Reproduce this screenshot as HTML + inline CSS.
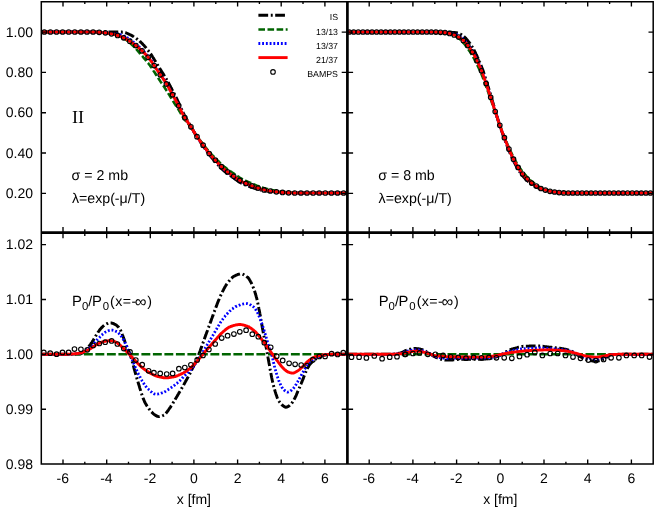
<!DOCTYPE html>
<html><head><meta charset="utf-8"><title>chart</title>
<style>html,body{margin:0;padding:0;background:#fff;}svg{display:block;will-change:transform;}text{text-rendering:geometricPrecision;}</style>
</head><body>
<svg width="654" height="509" viewBox="0 0 654 509">
<rect width="654" height="509" fill="#fff"/>
<defs>
<clipPath id="cTL"><rect x="41.3" y="1.7" width="306.09999999999997" height="230.9"/></clipPath>
<clipPath id="cTR"><rect x="347.4" y="1.7" width="305.80000000000007" height="230.9"/></clipPath>
<clipPath id="cBL"><rect x="41.3" y="232.6" width="306.09999999999997" height="231.50000000000003"/></clipPath>
<clipPath id="cBR"><rect x="347.4" y="232.6" width="305.80000000000007" height="231.50000000000003"/></clipPath>
</defs>
<g clip-path="url(#cTL)">
<path fill="none" stroke="#000000" stroke-width="2.95" stroke-dasharray="9.75 2.65 1.9 2.5" d="M41.3,32.1 L41.7,32.1 L42.2,32.1 L42.6,32.1 L43.1,32.1 L43.5,32.1 L43.9,32.1 L44.4,32.1 L44.8,32.1 L45.2,32.1 L45.7,32.1 L46.1,32.1 L46.6,32.1 L47.0,32.1 L47.4,32.1 L47.9,32.1 L48.3,32.1 L48.7,32.1 L49.2,32.1 L49.6,32.1 L50.1,32.1 L50.5,32.1 L50.9,32.1 L51.4,32.1 L51.8,32.1 L52.2,32.1 L52.7,32.1 L53.1,32.1 L53.6,32.1 L54.0,32.1 L54.4,32.1 L54.9,32.1 L55.3,32.1 L55.8,32.1 L56.2,32.1 L56.6,32.1 L57.1,32.1 L57.5,32.1 L57.9,32.1 L58.4,32.1 L58.8,32.1 L59.3,32.1 L59.7,32.1 L60.1,32.1 L60.6,32.1 L61.0,32.1 L61.4,32.1 L61.9,32.1 L62.3,32.1 L62.8,32.1 L63.2,32.1 L63.6,32.1 L64.1,32.1 L64.5,32.1 L64.9,32.1 L65.4,32.1 L65.8,32.1 L66.3,32.1 L66.7,32.1 L67.1,32.1 L67.6,32.1 L68.0,32.1 L68.5,32.1 L68.9,32.1 L69.3,32.1 L69.8,32.1 L70.2,32.1 L70.6,32.1 L71.1,32.1 L71.5,32.1 L72.0,32.1 L72.4,32.1 L72.8,32.1 L73.3,32.1 L73.7,32.1 L74.1,32.1 L74.6,32.1 L75.0,32.1 L75.5,32.1 L75.9,32.1 L76.3,32.1 L76.8,32.1 L77.2,32.1 L77.6,32.1 L78.1,32.1 L78.5,32.1 L79.0,32.1 L79.4,32.1 L79.8,32.1 L80.3,32.1 L80.7,32.1 L81.1,32.1 L81.6,32.1 L82.0,32.1 L82.5,32.1 L82.9,32.1 L83.3,32.1 L83.8,32.1 L84.2,32.1 L84.7,32.1 L85.1,32.1 L85.5,32.1 L86.0,32.1 L86.4,32.1 L86.8,32.1 L87.3,32.1 L87.7,32.1 L88.2,32.1 L88.6,32.1 L89.0,32.1 L89.5,32.1 L89.9,32.1 L90.3,32.1 L90.8,32.1 L91.2,32.1 L91.7,32.1 L92.1,32.1 L92.5,32.1 L93.0,32.1 L93.4,32.1 L93.8,32.1 L94.3,32.1 L94.7,32.1 L95.2,32.1 L95.6,32.1 L96.0,32.1 L96.5,32.1 L96.9,32.1 L97.4,32.1 L97.8,32.1 L98.2,32.1 L98.7,32.1 L99.1,32.1 L99.5,32.1 L100.0,32.1 L100.4,32.1 L100.9,32.1 L101.3,32.1 L101.7,32.1 L102.2,32.1 L102.6,32.1 L103.0,32.1 L103.5,32.1 L103.9,32.1 L104.4,32.1 L104.8,32.1 L105.2,32.1 L105.7,32.1 L106.1,32.1 L106.5,32.1 L107.0,32.1 L107.4,32.1 L107.9,32.1 L108.3,32.1 L108.7,32.1 L109.2,32.1 L109.6,32.1 L110.1,32.1 L110.5,32.1 L110.9,32.1 L111.4,32.1 L111.8,32.1 L112.2,32.1 L112.7,32.1 L113.1,32.1 L113.6,32.1 L114.0,32.1 L114.4,32.1 L114.9,32.1 L115.3,32.1 L115.7,32.1 L116.2,32.1 L116.6,32.1 L117.1,32.1 L117.5,32.1 L117.9,32.1 L118.4,32.1 L118.8,32.1 L119.2,32.1 L119.7,32.1 L120.1,32.1 L120.6,32.1 L121.0,32.1 L121.4,32.1 L121.9,32.1 L122.3,32.2 L122.8,32.2 L123.2,32.3 L123.6,32.4 L124.1,32.4 L124.5,32.5 L124.9,32.6 L125.4,32.7 L125.8,32.9 L126.3,33.0 L126.7,33.2 L127.1,33.3 L127.6,33.5 L128.0,33.7 L128.4,33.9 L128.9,34.1 L129.3,34.3 L129.8,34.5 L130.2,34.7 L130.6,35.0 L131.1,35.2 L131.5,35.4 L131.9,35.7 L132.4,35.9 L132.8,36.2 L133.3,36.5 L133.7,36.7 L134.1,37.0 L134.6,37.3 L135.0,37.6 L135.5,37.9 L135.9,38.2 L136.3,38.5 L136.8,38.8 L137.2,39.1 L137.6,39.5 L138.1,39.8 L138.5,40.2 L139.0,40.5 L139.4,40.9 L139.8,41.3 L140.3,41.7 L140.7,42.1 L141.1,42.5 L141.6,43.0 L142.0,43.4 L142.5,43.8 L142.9,44.3 L143.3,44.8 L143.8,45.2 L144.2,45.7 L144.6,46.2 L145.1,46.7 L145.5,47.3 L146.0,47.8 L146.4,48.3 L146.8,48.9 L147.3,49.4 L147.7,50.0 L148.2,50.5 L148.6,51.1 L149.0,51.7 L149.5,52.3 L149.9,52.9 L150.3,53.5 L150.8,54.1 L151.2,54.8 L151.7,55.4 L152.1,56.1 L152.5,56.8 L153.0,57.5 L153.4,58.1 L153.8,58.8 L154.3,59.5 L154.7,60.2 L155.2,61.0 L155.6,61.7 L156.0,62.4 L156.5,63.1 L156.9,63.8 L157.3,64.5 L157.8,65.2 L158.2,66.0 L158.7,66.7 L159.1,67.4 L159.5,68.1 L160.0,68.8 L160.4,69.5 L160.8,70.2 L161.3,70.9 L161.7,71.6 L162.2,72.3 L162.6,73.0 L163.0,73.7 L163.5,74.4 L163.9,75.1 L164.4,75.8 L164.8,76.5 L165.2,77.2 L165.7,78.0 L166.1,78.7 L166.5,79.4 L167.0,80.2 L167.4,81.0 L167.9,81.8 L168.3,82.5 L168.7,83.4 L169.2,84.2 L169.6,85.0 L170.0,85.8 L170.5,86.7 L170.9,87.5 L171.4,88.3 L171.8,89.2 L172.2,90.0 L172.7,90.8 L173.1,91.7 L173.5,92.5 L174.0,93.3 L174.4,94.2 L174.9,95.0 L175.3,95.9 L175.7,96.8 L176.2,97.6 L176.6,98.5 L177.1,99.4 L177.5,100.3 L177.9,101.2 L178.4,102.1 L178.8,103.0 L179.2,103.9 L179.7,104.9 L180.1,105.9 L180.6,106.9 L181.0,107.9 L181.4,108.8 L181.9,109.8 L182.3,110.8 L182.7,111.8 L183.2,112.7 L183.6,113.7 L184.1,114.5 L184.5,115.4 L184.9,116.2 L185.4,117.0 L185.8,117.8 L186.2,118.6 L186.7,119.3 L187.1,120.0 L187.6,120.8 L188.0,121.5 L188.4,122.2 L188.9,122.9 L189.3,123.6 L189.8,124.4 L190.2,125.1 L190.6,125.8 L191.1,126.6 L191.5,127.4 L191.9,128.2 L192.4,128.9 L192.8,129.7 L193.3,130.5 L193.7,131.3 L194.1,132.1 L194.6,132.9 L195.0,133.7 L195.4,134.4 L195.9,135.2 L196.3,135.9 L196.8,136.6 L197.2,137.3 L197.6,138.0 L198.1,138.7 L198.5,139.3 L198.9,140.0 L199.4,140.6 L199.8,141.3 L200.3,141.9 L200.7,142.5 L201.1,143.2 L201.6,143.8 L202.0,144.4 L202.5,145.0 L202.9,145.7 L203.3,146.3 L203.8,146.9 L204.2,147.6 L204.6,148.2 L205.1,148.8 L205.5,149.5 L206.0,150.1 L206.4,150.8 L206.8,151.4 L207.3,152.0 L207.7,152.6 L208.1,153.2 L208.6,153.8 L209.0,154.4 L209.5,154.9 L209.9,155.5 L210.3,156.0 L210.8,156.5 L211.2,157.1 L211.6,157.6 L212.1,158.1 L212.5,158.6 L213.0,159.1 L213.4,159.6 L213.8,160.0 L214.3,160.5 L214.7,161.0 L215.2,161.5 L215.6,162.0 L216.0,162.5 L216.5,163.0 L216.9,163.5 L217.3,164.0 L217.8,164.5 L218.2,165.0 L218.7,165.5 L219.1,166.0 L219.5,166.5 L220.0,167.0 L220.4,167.5 L220.8,167.9 L221.3,168.3 L221.7,168.8 L222.2,169.2 L222.6,169.6 L223.0,170.0 L223.5,170.4 L223.9,170.8 L224.3,171.1 L224.8,171.5 L225.2,171.8 L225.7,172.2 L226.1,172.6 L226.5,172.9 L227.0,173.2 L227.4,173.6 L227.9,173.9 L228.3,174.2 L228.7,174.6 L229.2,174.9 L229.6,175.2 L230.0,175.5 L230.5,175.8 L230.9,176.2 L231.4,176.5 L231.8,176.8 L232.2,177.1 L232.7,177.4 L233.1,177.7 L233.5,178.0 L234.0,178.3 L234.4,178.6 L234.9,178.9 L235.3,179.2 L235.7,179.5 L236.2,179.8 L236.6,180.1 L237.0,180.4 L237.5,180.7 L237.9,181.0 L238.4,181.3 L238.8,181.6 L239.2,181.9 L239.7,182.1 L240.1,182.4 L240.5,182.6 L241.0,182.8 L241.4,183.1 L241.9,183.3 L242.3,183.5 L242.7,183.7 L243.2,183.9 L243.6,184.1 L244.1,184.3 L244.5,184.5 L244.9,184.7 L245.4,184.9 L245.8,185.1 L246.2,185.3 L246.7,185.4 L247.1,185.6 L247.6,185.8 L248.0,186.0 L248.4,186.1 L248.9,186.3 L249.3,186.4 L249.7,186.6 L250.2,186.7 L250.6,186.9 L251.1,187.0 L251.5,187.2 L251.9,187.4 L252.4,187.5 L252.8,187.7 L253.2,187.8 L253.7,188.0 L254.1,188.1 L254.6,188.3 L255.0,188.4 L255.4,188.6 L255.9,188.7 L256.3,188.9 L256.8,189.0 L257.2,189.1 L257.6,189.3 L258.1,189.4 L258.5,189.5 L258.9,189.6 L259.4,189.7 L259.8,189.8 L260.3,189.9 L260.7,190.0 L261.1,190.1 L261.6,190.2 L262.0,190.3 L262.4,190.4 L262.9,190.5 L263.3,190.6 L263.8,190.6 L264.2,190.7 L264.6,190.8 L265.1,190.8 L265.5,190.9 L265.9,191.0 L266.4,191.0 L266.8,191.1 L267.3,191.1 L267.7,191.2 L268.1,191.2 L268.6,191.3 L269.0,191.3 L269.5,191.3 L269.9,191.4 L270.3,191.4 L270.8,191.5 L271.2,191.5 L271.6,191.5 L272.1,191.6 L272.5,191.6 L273.0,191.6 L273.4,191.7 L273.8,191.7 L274.3,191.8 L274.7,191.8 L275.1,191.8 L275.6,191.9 L276.0,191.9 L276.5,192.0 L276.9,192.0 L277.3,192.1 L277.8,192.1 L278.2,192.1 L278.6,192.2 L279.1,192.2 L279.5,192.3 L280.0,192.3 L280.4,192.3 L280.8,192.4 L281.3,192.4 L281.7,192.4 L282.2,192.5 L282.6,192.5 L283.0,192.5 L283.5,192.5 L283.9,192.6 L284.3,192.6 L284.8,192.6 L285.2,192.6 L285.7,192.7 L286.1,192.7 L286.5,192.7 L287.0,192.7 L287.4,192.7 L287.8,192.8 L288.3,192.8 L288.7,192.8 L289.2,192.8 L289.6,192.8 L290.0,192.9 L290.5,192.9 L290.9,192.9 L291.3,192.9 L291.8,192.9 L292.2,193.0 L292.7,193.0 L293.1,193.0 L293.5,193.0 L294.0,193.0 L294.4,193.0 L294.9,193.0 L295.3,193.0 L295.7,193.0 L296.2,193.0 L296.6,193.0 L297.0,193.0 L297.5,193.0 L297.9,193.0 L298.4,193.0 L298.8,193.0 L299.2,193.0 L299.7,193.0 L300.1,193.0 L300.5,193.0 L301.0,193.0 L301.4,193.0 L301.9,193.0 L302.3,193.0 L302.7,193.0 L303.2,193.0 L303.6,193.0 L304.0,193.0 L304.5,193.0 L304.9,193.0 L305.4,193.0 L305.8,193.0 L306.2,193.0 L306.7,193.0 L307.1,193.0 L307.6,193.0 L308.0,193.0 L308.4,193.0 L308.9,193.0 L309.3,193.0 L309.7,193.0 L310.2,193.0 L310.6,193.0 L311.1,193.0 L311.5,193.0 L311.9,193.0 L312.4,193.0 L312.8,193.0 L313.2,193.0 L313.7,193.0 L314.1,193.0 L314.6,193.0 L315.0,193.0 L315.4,193.0 L315.9,193.0 L316.3,193.0 L316.7,193.0 L317.2,193.0 L317.6,193.0 L318.1,193.0 L318.5,193.0 L318.9,193.0 L319.4,193.0 L319.8,193.0 L320.2,193.0 L320.7,193.0 L321.1,193.0 L321.6,193.0 L322.0,193.0 L322.4,193.0 L322.9,193.0 L323.3,193.0 L323.8,193.0 L324.2,193.0 L324.6,193.0 L325.1,193.0 L325.5,193.0 L325.9,193.0 L326.4,193.0 L326.8,193.0 L327.3,193.0 L327.7,193.0 L328.1,193.0 L328.6,193.0 L329.0,193.0 L329.4,193.0 L329.9,193.0 L330.3,193.0 L330.8,193.0 L331.2,193.0 L331.6,193.0 L332.1,193.0 L332.5,193.0 L332.9,193.0 L333.4,193.0 L333.8,193.0 L334.3,193.0 L334.7,193.0 L335.1,193.0 L335.6,193.0 L336.0,193.0 L336.5,193.0 L336.9,193.0 L337.3,193.0 L337.8,193.0 L338.2,193.0 L338.6,193.0 L339.1,193.0 L339.5,193.0 L340.0,193.0 L340.4,193.0 L340.8,193.0 L341.3,193.0 L341.7,193.0 L342.1,193.0 L342.6,193.0 L343.0,193.0 L343.5,193.0 L343.9,193.0 L344.3,193.0 L344.8,193.0 L345.2,193.0 L345.6,193.0 L346.1,193.0 L346.5,193.0 L347.0,193.0 L347.4,193.0"/>
<path fill="none" stroke="#006400" stroke-width="2.6" stroke-dasharray="6.6 2.5" d="M41.3,32.0 L41.7,32.0 L42.2,32.0 L42.6,32.0 L43.1,32.0 L43.5,32.0 L43.9,32.0 L44.4,32.0 L44.8,32.0 L45.2,32.0 L45.7,32.0 L46.1,32.0 L46.6,32.0 L47.0,32.0 L47.4,32.0 L47.9,32.0 L48.3,32.0 L48.7,32.0 L49.2,32.0 L49.6,32.0 L50.1,32.0 L50.5,32.0 L50.9,32.0 L51.4,32.0 L51.8,32.0 L52.2,32.0 L52.7,32.0 L53.1,32.0 L53.6,32.0 L54.0,32.0 L54.4,32.0 L54.9,32.0 L55.3,32.0 L55.8,32.0 L56.2,32.0 L56.6,32.0 L57.1,32.0 L57.5,32.0 L57.9,32.0 L58.4,32.0 L58.8,32.0 L59.3,32.0 L59.7,32.0 L60.1,32.0 L60.6,32.0 L61.0,32.0 L61.4,32.0 L61.9,32.0 L62.3,32.0 L62.8,32.0 L63.2,32.0 L63.6,32.0 L64.1,32.0 L64.5,32.0 L64.9,32.0 L65.4,32.0 L65.8,32.0 L66.3,32.0 L66.7,32.0 L67.1,32.0 L67.6,32.0 L68.0,32.0 L68.5,32.0 L68.9,32.0 L69.3,32.0 L69.8,32.0 L70.2,32.0 L70.6,32.0 L71.1,32.0 L71.5,32.0 L72.0,32.0 L72.4,32.0 L72.8,32.0 L73.3,32.0 L73.7,32.0 L74.1,32.0 L74.6,32.0 L75.0,32.0 L75.5,32.0 L75.9,32.0 L76.3,32.0 L76.8,32.0 L77.2,32.0 L77.6,32.0 L78.1,32.0 L78.5,32.0 L79.0,32.0 L79.4,32.0 L79.8,32.0 L80.3,32.0 L80.7,32.0 L81.1,32.0 L81.6,32.0 L82.0,32.0 L82.5,32.0 L82.9,32.0 L83.3,32.0 L83.8,32.0 L84.2,32.0 L84.7,32.0 L85.1,32.0 L85.5,32.0 L86.0,32.0 L86.4,32.0 L86.8,32.0 L87.3,32.0 L87.7,32.0 L88.2,32.0 L88.6,32.0 L89.0,32.0 L89.5,32.0 L89.9,32.0 L90.3,32.0 L90.8,32.0 L91.2,32.0 L91.7,32.0 L92.1,32.0 L92.5,32.0 L93.0,32.0 L93.4,32.0 L93.8,32.0 L94.3,32.0 L94.7,32.0 L95.2,32.0 L95.6,32.1 L96.0,32.1 L96.5,32.1 L96.9,32.1 L97.4,32.2 L97.8,32.2 L98.2,32.2 L98.7,32.2 L99.1,32.3 L99.5,32.3 L100.0,32.3 L100.4,32.4 L100.9,32.4 L101.3,32.5 L101.7,32.5 L102.2,32.5 L102.6,32.6 L103.0,32.6 L103.5,32.6 L103.9,32.7 L104.4,32.7 L104.8,32.8 L105.2,32.8 L105.7,32.9 L106.1,32.9 L106.5,33.0 L107.0,33.1 L107.4,33.1 L107.9,33.2 L108.3,33.3 L108.7,33.3 L109.2,33.4 L109.6,33.5 L110.1,33.5 L110.5,33.6 L110.9,33.7 L111.4,33.8 L111.8,33.9 L112.2,34.0 L112.7,34.1 L113.1,34.2 L113.6,34.3 L114.0,34.4 L114.4,34.5 L114.9,34.6 L115.3,34.7 L115.7,34.9 L116.2,35.0 L116.6,35.1 L117.1,35.3 L117.5,35.4 L117.9,35.6 L118.4,35.7 L118.8,35.9 L119.2,36.1 L119.7,36.3 L120.1,36.5 L120.6,36.7 L121.0,36.9 L121.4,37.1 L121.9,37.3 L122.3,37.6 L122.8,37.8 L123.2,38.1 L123.6,38.3 L124.1,38.6 L124.5,38.8 L124.9,39.1 L125.4,39.4 L125.8,39.7 L126.3,40.0 L126.7,40.3 L127.1,40.6 L127.6,40.9 L128.0,41.3 L128.4,41.6 L128.9,42.0 L129.3,42.3 L129.8,42.7 L130.2,43.1 L130.6,43.5 L131.1,43.9 L131.5,44.3 L131.9,44.7 L132.4,45.1 L132.8,45.6 L133.3,46.0 L133.7,46.4 L134.1,46.9 L134.6,47.3 L135.0,47.8 L135.5,48.2 L135.9,48.7 L136.3,49.2 L136.8,49.7 L137.2,50.2 L137.6,50.7 L138.1,51.2 L138.5,51.7 L139.0,52.3 L139.4,52.8 L139.8,53.3 L140.3,53.8 L140.7,54.3 L141.1,54.8 L141.6,55.3 L142.0,55.8 L142.5,56.3 L142.9,56.8 L143.3,57.4 L143.8,57.9 L144.2,58.4 L144.6,58.9 L145.1,59.4 L145.5,60.0 L146.0,60.5 L146.4,61.0 L146.8,61.5 L147.3,62.0 L147.7,62.6 L148.2,63.1 L148.6,63.7 L149.0,64.2 L149.5,64.8 L149.9,65.4 L150.3,66.0 L150.8,66.7 L151.2,67.3 L151.7,67.9 L152.1,68.6 L152.5,69.2 L153.0,69.9 L153.4,70.6 L153.8,71.2 L154.3,71.9 L154.7,72.6 L155.2,73.3 L155.6,74.0 L156.0,74.7 L156.5,75.3 L156.9,76.0 L157.3,76.7 L157.8,77.4 L158.2,78.1 L158.7,78.8 L159.1,79.4 L159.5,80.1 L160.0,80.7 L160.4,81.4 L160.8,82.0 L161.3,82.6 L161.7,83.3 L162.2,83.9 L162.6,84.6 L163.0,85.2 L163.5,85.8 L163.9,86.5 L164.4,87.1 L164.8,87.8 L165.2,88.5 L165.7,89.2 L166.1,89.8 L166.5,90.5 L167.0,91.2 L167.4,91.9 L167.9,92.6 L168.3,93.3 L168.7,94.0 L169.2,94.7 L169.6,95.4 L170.0,96.2 L170.5,96.9 L170.9,97.6 L171.4,98.3 L171.8,99.0 L172.2,99.7 L172.7,100.4 L173.1,101.1 L173.5,101.8 L174.0,102.5 L174.4,103.2 L174.9,103.9 L175.3,104.5 L175.7,105.2 L176.2,105.9 L176.6,106.6 L177.1,107.3 L177.5,108.0 L177.9,108.6 L178.4,109.3 L178.8,110.0 L179.2,110.8 L179.7,111.5 L180.1,112.3 L180.6,113.0 L181.0,113.8 L181.4,114.5 L181.9,115.3 L182.3,116.0 L182.7,116.8 L183.2,117.5 L183.6,118.1 L184.1,118.8 L184.5,119.4 L184.9,120.0 L185.4,120.5 L185.8,121.1 L186.2,121.6 L186.7,122.1 L187.1,122.6 L187.6,123.1 L188.0,123.6 L188.4,124.1 L188.9,124.6 L189.3,125.2 L189.8,125.7 L190.2,126.3 L190.6,126.9 L191.1,127.5 L191.5,128.1 L191.9,128.7 L192.4,129.4 L192.8,130.1 L193.3,130.7 L193.7,131.4 L194.1,132.1 L194.6,132.8 L195.0,133.4 L195.4,134.1 L195.9,134.7 L196.3,135.4 L196.8,136.0 L197.2,136.6 L197.6,137.2 L198.1,137.8 L198.5,138.3 L198.9,138.9 L199.4,139.5 L199.8,140.0 L200.3,140.6 L200.7,141.1 L201.1,141.7 L201.6,142.2 L202.0,142.8 L202.5,143.3 L202.9,143.9 L203.3,144.4 L203.8,145.0 L204.2,145.6 L204.6,146.1 L205.1,146.7 L205.5,147.3 L206.0,147.9 L206.4,148.4 L206.8,149.0 L207.3,149.5 L207.7,150.1 L208.1,150.6 L208.6,151.1 L209.0,151.7 L209.5,152.1 L209.9,152.6 L210.3,153.1 L210.8,153.6 L211.2,154.0 L211.6,154.5 L212.1,154.9 L212.5,155.3 L213.0,155.8 L213.4,156.2 L213.8,156.6 L214.3,157.1 L214.7,157.5 L215.2,157.9 L215.6,158.4 L216.0,158.8 L216.5,159.3 L216.9,159.7 L217.3,160.2 L217.8,160.6 L218.2,161.1 L218.7,161.5 L219.1,162.0 L219.5,162.4 L220.0,162.9 L220.4,163.3 L220.8,163.7 L221.3,164.2 L221.7,164.5 L222.2,164.9 L222.6,165.3 L223.0,165.7 L223.5,166.1 L223.9,166.4 L224.3,166.8 L224.8,167.1 L225.2,167.4 L225.7,167.8 L226.1,168.1 L226.5,168.5 L227.0,168.8 L227.4,169.1 L227.9,169.4 L228.3,169.8 L228.7,170.1 L229.2,170.4 L229.6,170.7 L230.0,171.0 L230.5,171.3 L230.9,171.6 L231.4,171.9 L231.8,172.2 L232.2,172.5 L232.7,172.8 L233.1,173.1 L233.5,173.4 L234.0,173.7 L234.4,174.0 L234.9,174.3 L235.3,174.6 L235.7,174.9 L236.2,175.2 L236.6,175.5 L237.0,175.8 L237.5,176.1 L237.9,176.4 L238.4,176.7 L238.8,177.0 L239.2,177.3 L239.7,177.6 L240.1,177.8 L240.5,178.1 L241.0,178.3 L241.4,178.6 L241.9,178.8 L242.3,179.1 L242.7,179.3 L243.2,179.5 L243.6,179.7 L244.1,180.0 L244.5,180.2 L244.9,180.4 L245.4,180.6 L245.8,180.8 L246.2,181.0 L246.7,181.2 L247.1,181.4 L247.6,181.6 L248.0,181.8 L248.4,182.0 L248.9,182.2 L249.3,182.4 L249.7,182.6 L250.2,182.8 L250.6,183.0 L251.1,183.1 L251.5,183.3 L251.9,183.5 L252.4,183.7 L252.8,183.9 L253.2,184.1 L253.7,184.3 L254.1,184.5 L254.6,184.7 L255.0,184.9 L255.4,185.0 L255.9,185.2 L256.3,185.4 L256.8,185.6 L257.2,185.8 L257.6,186.0 L258.1,186.1 L258.5,186.3 L258.9,186.5 L259.4,186.6 L259.8,186.8 L260.3,186.9 L260.7,187.1 L261.1,187.2 L261.6,187.4 L262.0,187.5 L262.4,187.7 L262.9,187.8 L263.3,188.0 L263.8,188.1 L264.2,188.2 L264.6,188.3 L265.1,188.4 L265.5,188.6 L265.9,188.7 L266.4,188.8 L266.8,188.9 L267.3,189.0 L267.7,189.1 L268.1,189.2 L268.6,189.3 L269.0,189.4 L269.5,189.5 L269.9,189.6 L270.3,189.7 L270.8,189.8 L271.2,189.9 L271.6,190.0 L272.1,190.0 L272.5,190.1 L273.0,190.2 L273.4,190.3 L273.8,190.4 L274.3,190.5 L274.7,190.5 L275.1,190.6 L275.6,190.7 L276.0,190.8 L276.5,190.8 L276.9,190.9 L277.3,191.0 L277.8,191.0 L278.2,191.1 L278.6,191.2 L279.1,191.3 L279.5,191.3 L280.0,191.4 L280.4,191.5 L280.8,191.5 L281.3,191.6 L281.7,191.6 L282.2,191.7 L282.6,191.7 L283.0,191.8 L283.5,191.9 L283.9,191.9 L284.3,192.0 L284.8,192.0 L285.2,192.1 L285.7,192.1 L286.1,192.1 L286.5,192.2 L287.0,192.2 L287.4,192.3 L287.8,192.3 L288.3,192.4 L288.7,192.4 L289.2,192.4 L289.6,192.5 L290.0,192.5 L290.5,192.5 L290.9,192.6 L291.3,192.6 L291.8,192.7 L292.2,192.7 L292.7,192.7 L293.1,192.7 L293.5,192.8 L294.0,192.8 L294.4,192.8 L294.9,192.8 L295.3,192.8 L295.7,192.8 L296.2,192.8 L296.6,192.8 L297.0,192.8 L297.5,192.8 L297.9,192.9 L298.4,192.9 L298.8,192.9 L299.2,192.9 L299.7,192.9 L300.1,192.9 L300.5,192.9 L301.0,192.9 L301.4,192.9 L301.9,192.9 L302.3,192.9 L302.7,192.9 L303.2,192.9 L303.6,193.0 L304.0,193.0 L304.5,193.0 L304.9,193.0 L305.4,193.0 L305.8,193.0 L306.2,193.0 L306.7,193.0 L307.1,193.0 L307.6,193.0 L308.0,193.0 L308.4,193.0 L308.9,193.0 L309.3,193.0 L309.7,193.0 L310.2,193.0 L310.6,193.0 L311.1,193.0 L311.5,193.0 L311.9,193.0 L312.4,193.0 L312.8,193.0 L313.2,193.0 L313.7,193.0 L314.1,193.0 L314.6,193.0 L315.0,193.0 L315.4,193.0 L315.9,193.0 L316.3,193.0 L316.7,193.0 L317.2,193.0 L317.6,193.0 L318.1,193.0 L318.5,193.0 L318.9,193.0 L319.4,193.0 L319.8,193.0 L320.2,193.0 L320.7,193.0 L321.1,193.0 L321.6,193.0 L322.0,193.0 L322.4,193.0 L322.9,193.0 L323.3,193.0 L323.8,193.0 L324.2,193.0 L324.6,193.0 L325.1,193.0 L325.5,193.0 L325.9,193.0 L326.4,193.0 L326.8,193.0 L327.3,193.0 L327.7,193.0 L328.1,193.0 L328.6,193.0 L329.0,193.0 L329.4,193.0 L329.9,193.0 L330.3,193.0 L330.8,193.0 L331.2,193.0 L331.6,193.0 L332.1,193.0 L332.5,193.0 L332.9,193.0 L333.4,193.0 L333.8,193.0 L334.3,193.0 L334.7,193.0 L335.1,193.0 L335.6,193.0 L336.0,193.0 L336.5,193.0 L336.9,193.0 L337.3,193.0 L337.8,193.0 L338.2,193.0 L338.6,193.0 L339.1,193.0 L339.5,193.0 L340.0,193.0 L340.4,193.0 L340.8,193.0 L341.3,193.0 L341.7,193.0 L342.1,193.0 L342.6,193.0 L343.0,193.0 L343.5,193.0 L343.9,193.0 L344.3,193.0 L344.8,193.0 L345.2,193.0 L345.6,193.0 L346.1,193.0 L346.5,193.0 L347.0,193.0 L347.4,193.0"/>
<path fill="none" stroke="#0000ff" stroke-width="2.8" stroke-dasharray="1.85 1.9" d="M41.3,32.0 L41.7,32.0 L42.2,32.0 L42.6,32.0 L43.1,32.0 L43.5,32.0 L43.9,32.0 L44.4,32.0 L44.8,32.0 L45.2,32.0 L45.7,32.0 L46.1,32.0 L46.6,32.0 L47.0,32.0 L47.4,32.0 L47.9,32.0 L48.3,32.0 L48.7,32.0 L49.2,32.0 L49.6,32.0 L50.1,32.0 L50.5,32.0 L50.9,32.0 L51.4,32.0 L51.8,32.0 L52.2,32.0 L52.7,32.0 L53.1,32.0 L53.6,32.0 L54.0,32.0 L54.4,32.0 L54.9,32.0 L55.3,32.0 L55.8,32.0 L56.2,32.0 L56.6,32.0 L57.1,32.0 L57.5,32.0 L57.9,32.0 L58.4,32.0 L58.8,32.0 L59.3,32.0 L59.7,32.0 L60.1,32.0 L60.6,32.0 L61.0,32.0 L61.4,32.0 L61.9,32.0 L62.3,32.0 L62.8,32.0 L63.2,32.0 L63.6,32.0 L64.1,32.0 L64.5,32.0 L64.9,32.0 L65.4,32.0 L65.8,32.0 L66.3,32.0 L66.7,32.0 L67.1,32.0 L67.6,32.0 L68.0,32.0 L68.5,32.0 L68.9,32.0 L69.3,32.0 L69.8,32.0 L70.2,32.0 L70.6,32.0 L71.1,32.0 L71.5,32.0 L72.0,32.0 L72.4,32.0 L72.8,32.0 L73.3,32.0 L73.7,32.0 L74.1,32.0 L74.6,32.0 L75.0,32.0 L75.5,32.0 L75.9,32.0 L76.3,32.0 L76.8,32.0 L77.2,32.0 L77.6,32.0 L78.1,32.0 L78.5,32.0 L79.0,32.0 L79.4,32.0 L79.8,32.0 L80.3,32.0 L80.7,32.0 L81.1,32.0 L81.6,32.0 L82.0,32.0 L82.5,32.0 L82.9,32.0 L83.3,32.0 L83.8,32.0 L84.2,32.0 L84.7,32.0 L85.1,32.0 L85.5,32.0 L86.0,32.0 L86.4,32.0 L86.8,32.0 L87.3,32.0 L87.7,32.0 L88.2,32.0 L88.6,32.0 L89.0,32.0 L89.5,32.0 L89.9,32.0 L90.3,32.0 L90.8,32.0 L91.2,32.0 L91.7,32.0 L92.1,32.0 L92.5,32.0 L93.0,32.0 L93.4,32.0 L93.8,32.0 L94.3,32.0 L94.7,32.0 L95.2,32.0 L95.6,32.1 L96.0,32.1 L96.5,32.1 L96.9,32.1 L97.4,32.2 L97.8,32.2 L98.2,32.2 L98.7,32.2 L99.1,32.3 L99.5,32.3 L100.0,32.3 L100.4,32.4 L100.9,32.4 L101.3,32.5 L101.7,32.5 L102.2,32.5 L102.6,32.6 L103.0,32.6 L103.5,32.6 L103.9,32.7 L104.4,32.7 L104.8,32.8 L105.2,32.8 L105.7,32.9 L106.1,32.9 L106.5,33.0 L107.0,33.0 L107.4,33.0 L107.9,33.1 L108.3,33.1 L108.7,33.1 L109.2,33.1 L109.6,33.2 L110.1,33.2 L110.5,33.2 L110.9,33.2 L111.4,33.3 L111.8,33.3 L112.2,33.3 L112.7,33.4 L113.1,33.4 L113.6,33.4 L114.0,33.5 L114.4,33.6 L114.9,33.6 L115.3,33.7 L115.7,33.8 L116.2,33.8 L116.6,33.9 L117.1,34.0 L117.5,34.1 L117.9,34.1 L118.4,34.2 L118.8,34.3 L119.2,34.4 L119.7,34.5 L120.1,34.6 L120.6,34.7 L121.0,34.8 L121.4,35.0 L121.9,35.1 L122.3,35.3 L122.8,35.4 L123.2,35.6 L123.6,35.8 L124.1,36.0 L124.5,36.2 L124.9,36.4 L125.4,36.7 L125.8,36.9 L126.3,37.1 L126.7,37.4 L127.1,37.7 L127.6,37.9 L128.0,38.2 L128.4,38.5 L128.9,38.8 L129.3,39.1 L129.8,39.4 L130.2,39.7 L130.6,40.0 L131.1,40.3 L131.5,40.6 L131.9,40.9 L132.4,41.3 L132.8,41.6 L133.3,41.9 L133.7,42.3 L134.1,42.6 L134.6,42.9 L135.0,43.3 L135.5,43.6 L135.9,44.0 L136.3,44.3 L136.8,44.7 L137.2,45.1 L137.6,45.4 L138.1,45.8 L138.5,46.2 L139.0,46.6 L139.4,47.0 L139.8,47.4 L140.3,47.8 L140.7,48.2 L141.1,48.7 L141.6,49.1 L142.0,49.5 L142.5,50.0 L142.9,50.4 L143.3,50.9 L143.8,51.3 L144.2,51.8 L144.6,52.3 L145.1,52.7 L145.5,53.2 L146.0,53.7 L146.4,54.2 L146.8,54.7 L147.3,55.2 L147.7,55.7 L148.2,56.3 L148.6,56.8 L149.0,57.3 L149.5,57.9 L149.9,58.5 L150.3,59.1 L150.8,59.7 L151.2,60.3 L151.7,60.9 L152.1,61.6 L152.5,62.2 L153.0,62.9 L153.4,63.5 L153.8,64.2 L154.3,64.9 L154.7,65.5 L155.2,66.2 L155.6,66.9 L156.0,67.6 L156.5,68.2 L156.9,68.9 L157.3,69.6 L157.8,70.3 L158.2,70.9 L158.7,71.6 L159.1,72.3 L159.5,72.9 L160.0,73.6 L160.4,74.2 L160.8,74.9 L161.3,75.5 L161.7,76.2 L162.2,76.8 L162.6,77.5 L163.0,78.1 L163.5,78.8 L163.9,79.4 L164.4,80.1 L164.8,80.8 L165.2,81.5 L165.7,82.2 L166.1,82.9 L166.5,83.6 L167.0,84.3 L167.4,85.1 L167.9,85.8 L168.3,86.6 L168.7,87.4 L169.2,88.2 L169.6,89.0 L170.0,89.8 L170.5,90.6 L170.9,91.4 L171.4,92.2 L171.8,93.0 L172.2,93.8 L172.7,94.6 L173.1,95.4 L173.5,96.2 L174.0,97.0 L174.4,97.7 L174.9,98.5 L175.3,99.3 L175.7,100.1 L176.2,100.9 L176.6,101.8 L177.1,102.6 L177.5,103.4 L177.9,104.2 L178.4,105.0 L178.8,105.9 L179.2,106.7 L179.7,107.6 L180.1,108.5 L180.6,109.4 L181.0,110.3 L181.4,111.2 L181.9,112.1 L182.3,113.0 L182.7,113.9 L183.2,114.8 L183.6,115.6 L184.1,116.4 L184.5,117.1 L184.9,117.9 L185.4,118.6 L185.8,119.3 L186.2,119.9 L186.7,120.6 L187.1,121.2 L187.6,121.9 L188.0,122.5 L188.4,123.1 L188.9,123.8 L189.3,124.4 L189.8,125.1 L190.2,125.7 L190.6,126.4 L191.1,127.1 L191.5,127.8 L191.9,128.5 L192.4,129.2 L192.8,130.0 L193.3,130.7 L193.7,131.4 L194.1,132.2 L194.6,132.9 L195.0,133.7 L195.4,134.4 L195.9,135.1 L196.3,135.8 L196.8,136.5 L197.2,137.1 L197.6,137.8 L198.1,138.4 L198.5,139.0 L198.9,139.7 L199.4,140.3 L199.8,140.9 L200.3,141.5 L200.7,142.1 L201.1,142.7 L201.6,143.3 L202.0,143.9 L202.5,144.5 L202.9,145.1 L203.3,145.7 L203.8,146.3 L204.2,146.9 L204.6,147.6 L205.1,148.2 L205.5,148.8 L206.0,149.4 L206.4,150.0 L206.8,150.6 L207.3,151.2 L207.7,151.8 L208.1,152.4 L208.6,153.0 L209.0,153.6 L209.5,154.1 L209.9,154.6 L210.3,155.1 L210.8,155.6 L211.2,156.1 L211.6,156.6 L212.1,157.1 L212.5,157.6 L213.0,158.1 L213.4,158.5 L213.8,159.0 L214.3,159.5 L214.7,159.9 L215.2,160.4 L215.6,160.9 L216.0,161.4 L216.5,161.9 L216.9,162.4 L217.3,162.8 L217.8,163.3 L218.2,163.8 L218.7,164.3 L219.1,164.8 L219.5,165.2 L220.0,165.7 L220.4,166.1 L220.8,166.6 L221.3,167.0 L221.7,167.4 L222.2,167.8 L222.6,168.2 L223.0,168.6 L223.5,169.0 L223.9,169.4 L224.3,169.7 L224.8,170.1 L225.2,170.4 L225.7,170.8 L226.1,171.1 L226.5,171.5 L227.0,171.8 L227.4,172.2 L227.9,172.5 L228.3,172.8 L228.7,173.2 L229.2,173.5 L229.6,173.8 L230.0,174.1 L230.5,174.4 L230.9,174.7 L231.4,175.0 L231.8,175.4 L232.2,175.7 L232.7,176.0 L233.1,176.3 L233.5,176.6 L234.0,176.9 L234.4,177.2 L234.9,177.5 L235.3,177.8 L235.7,178.1 L236.2,178.4 L236.6,178.7 L237.0,179.0 L237.5,179.3 L237.9,179.6 L238.4,179.9 L238.8,180.1 L239.2,180.4 L239.7,180.7 L240.1,180.9 L240.5,181.2 L241.0,181.4 L241.4,181.6 L241.9,181.8 L242.3,182.1 L242.7,182.3 L243.2,182.5 L243.6,182.7 L244.1,182.9 L244.5,183.1 L244.9,183.3 L245.4,183.5 L245.8,183.7 L246.2,183.9 L246.7,184.1 L247.1,184.3 L247.6,184.4 L248.0,184.6 L248.4,184.8 L248.9,185.0 L249.3,185.1 L249.7,185.3 L250.2,185.5 L250.6,185.6 L251.1,185.8 L251.5,186.0 L251.9,186.1 L252.4,186.3 L252.8,186.5 L253.2,186.6 L253.7,186.8 L254.1,187.0 L254.6,187.1 L255.0,187.3 L255.4,187.5 L255.9,187.6 L256.3,187.8 L256.8,187.9 L257.2,188.1 L257.6,188.2 L258.1,188.3 L258.5,188.5 L258.9,188.6 L259.4,188.7 L259.8,188.9 L260.3,189.0 L260.7,189.1 L261.1,189.2 L261.6,189.4 L262.0,189.5 L262.4,189.6 L262.9,189.7 L263.3,189.8 L263.8,189.9 L264.2,190.0 L264.6,190.1 L265.1,190.2 L265.5,190.3 L265.9,190.3 L266.4,190.4 L266.8,190.5 L267.3,190.6 L267.7,190.6 L268.1,190.7 L268.6,190.8 L269.0,190.9 L269.5,190.9 L269.9,191.0 L270.3,191.1 L270.8,191.1 L271.2,191.2 L271.6,191.2 L272.1,191.3 L272.5,191.3 L273.0,191.4 L273.4,191.5 L273.8,191.5 L274.3,191.6 L274.7,191.6 L275.1,191.7 L275.6,191.7 L276.0,191.8 L276.5,191.8 L276.9,191.9 L277.3,191.9 L277.8,192.0 L278.2,192.0 L278.6,192.1 L279.1,192.1 L279.5,192.1 L280.0,192.2 L280.4,192.2 L280.8,192.3 L281.3,192.3 L281.7,192.4 L282.2,192.4 L282.6,192.4 L283.0,192.5 L283.5,192.5 L283.9,192.5 L284.3,192.6 L284.8,192.6 L285.2,192.6 L285.7,192.6 L286.1,192.7 L286.5,192.7 L287.0,192.7 L287.4,192.7 L287.8,192.8 L288.3,192.8 L288.7,192.8 L289.2,192.8 L289.6,192.8 L290.0,192.9 L290.5,192.9 L290.9,192.9 L291.3,192.9 L291.8,192.9 L292.2,193.0 L292.7,193.0 L293.1,193.0 L293.5,193.0 L294.0,193.0 L294.4,193.0 L294.9,193.0 L295.3,193.0 L295.7,193.0 L296.2,193.0 L296.6,193.0 L297.0,193.0 L297.5,193.0 L297.9,193.0 L298.4,193.0 L298.8,193.0 L299.2,193.0 L299.7,193.0 L300.1,193.0 L300.5,193.0 L301.0,193.0 L301.4,193.0 L301.9,193.0 L302.3,193.0 L302.7,193.0 L303.2,193.0 L303.6,193.0 L304.0,193.0 L304.5,193.0 L304.9,193.0 L305.4,193.0 L305.8,193.0 L306.2,193.0 L306.7,193.0 L307.1,193.0 L307.6,193.0 L308.0,193.0 L308.4,193.0 L308.9,193.0 L309.3,193.0 L309.7,193.0 L310.2,193.0 L310.6,193.0 L311.1,193.0 L311.5,193.0 L311.9,193.0 L312.4,193.0 L312.8,193.0 L313.2,193.0 L313.7,193.0 L314.1,193.0 L314.6,193.0 L315.0,193.0 L315.4,193.0 L315.9,193.0 L316.3,193.0 L316.7,193.0 L317.2,193.0 L317.6,193.0 L318.1,193.0 L318.5,193.0 L318.9,193.0 L319.4,193.0 L319.8,193.0 L320.2,193.0 L320.7,193.0 L321.1,193.0 L321.6,193.0 L322.0,193.0 L322.4,193.0 L322.9,193.0 L323.3,193.0 L323.8,193.0 L324.2,193.0 L324.6,193.0 L325.1,193.0 L325.5,193.0 L325.9,193.0 L326.4,193.0 L326.8,193.0 L327.3,193.0 L327.7,193.0 L328.1,193.0 L328.6,193.0 L329.0,193.0 L329.4,193.0 L329.9,193.0 L330.3,193.0 L330.8,193.0 L331.2,193.0 L331.6,193.0 L332.1,193.0 L332.5,193.0 L332.9,193.0 L333.4,193.0 L333.8,193.0 L334.3,193.0 L334.7,193.0 L335.1,193.0 L335.6,193.0 L336.0,193.0 L336.5,193.0 L336.9,193.0 L337.3,193.0 L337.8,193.0 L338.2,193.0 L338.6,193.0 L339.1,193.0 L339.5,193.0 L340.0,193.0 L340.4,193.0 L340.8,193.0 L341.3,193.0 L341.7,193.0 L342.1,193.0 L342.6,193.0 L343.0,193.0 L343.5,193.0 L343.9,193.0 L344.3,193.0 L344.8,193.0 L345.2,193.0 L345.6,193.0 L346.1,193.0 L346.5,193.0 L347.0,193.0 L347.4,193.0"/>
<path fill="none" stroke="#ff0000" stroke-width="2.9" d="M41.3,32.0 L41.7,32.0 L42.2,32.0 L42.6,32.0 L43.1,32.0 L43.5,32.0 L43.9,32.0 L44.4,32.0 L44.8,32.0 L45.2,32.0 L45.7,32.0 L46.1,32.0 L46.6,32.0 L47.0,32.0 L47.4,32.0 L47.9,32.0 L48.3,32.0 L48.7,32.0 L49.2,32.0 L49.6,32.0 L50.1,32.0 L50.5,32.0 L50.9,32.0 L51.4,32.0 L51.8,32.0 L52.2,32.0 L52.7,32.0 L53.1,32.0 L53.6,32.0 L54.0,32.0 L54.4,32.0 L54.9,32.0 L55.3,32.0 L55.8,32.0 L56.2,32.0 L56.6,32.0 L57.1,32.0 L57.5,32.0 L57.9,32.0 L58.4,32.0 L58.8,32.0 L59.3,32.0 L59.7,32.0 L60.1,32.0 L60.6,32.0 L61.0,32.0 L61.4,32.0 L61.9,32.0 L62.3,32.0 L62.8,32.0 L63.2,32.0 L63.6,32.0 L64.1,32.0 L64.5,32.0 L64.9,32.0 L65.4,32.0 L65.8,32.0 L66.3,32.0 L66.7,32.0 L67.1,32.0 L67.6,32.0 L68.0,32.0 L68.5,32.0 L68.9,32.0 L69.3,32.0 L69.8,32.0 L70.2,32.0 L70.6,32.0 L71.1,32.0 L71.5,32.0 L72.0,32.0 L72.4,32.0 L72.8,32.0 L73.3,32.0 L73.7,32.0 L74.1,32.0 L74.6,32.0 L75.0,32.0 L75.5,32.0 L75.9,32.0 L76.3,32.0 L76.8,32.0 L77.2,32.0 L77.6,32.0 L78.1,32.0 L78.5,32.0 L79.0,32.0 L79.4,32.0 L79.8,32.0 L80.3,32.0 L80.7,32.0 L81.1,32.0 L81.6,32.0 L82.0,32.0 L82.5,32.0 L82.9,32.0 L83.3,32.0 L83.8,32.0 L84.2,32.0 L84.7,32.0 L85.1,32.0 L85.5,32.0 L86.0,32.0 L86.4,32.0 L86.8,32.0 L87.3,32.0 L87.7,32.0 L88.2,32.0 L88.6,32.0 L89.0,32.0 L89.5,32.0 L89.9,32.0 L90.3,32.0 L90.8,32.0 L91.2,32.0 L91.7,32.0 L92.1,32.0 L92.5,32.0 L93.0,32.0 L93.4,32.0 L93.8,32.0 L94.3,32.0 L94.7,32.0 L95.2,32.0 L95.6,32.1 L96.0,32.1 L96.5,32.1 L96.9,32.1 L97.4,32.2 L97.8,32.2 L98.2,32.2 L98.7,32.2 L99.1,32.3 L99.5,32.3 L100.0,32.3 L100.4,32.4 L100.9,32.4 L101.3,32.5 L101.7,32.5 L102.2,32.5 L102.6,32.6 L103.0,32.6 L103.5,32.6 L103.9,32.7 L104.4,32.7 L104.8,32.8 L105.2,32.8 L105.7,32.9 L106.1,32.9 L106.5,33.0 L107.0,33.1 L107.4,33.1 L107.9,33.2 L108.3,33.3 L108.7,33.3 L109.2,33.4 L109.6,33.5 L110.1,33.5 L110.5,33.6 L110.9,33.7 L111.4,33.8 L111.8,33.9 L112.2,34.0 L112.7,34.1 L113.1,34.2 L113.6,34.3 L114.0,34.4 L114.4,34.5 L114.9,34.6 L115.3,34.7 L115.7,34.9 L116.2,35.0 L116.6,35.1 L117.1,35.3 L117.5,35.4 L117.9,35.6 L118.4,35.7 L118.8,35.9 L119.2,36.0 L119.7,36.2 L120.1,36.4 L120.6,36.5 L121.0,36.7 L121.4,36.9 L121.9,37.1 L122.3,37.3 L122.8,37.4 L123.2,37.6 L123.6,37.8 L124.1,38.0 L124.5,38.2 L124.9,38.4 L125.4,38.6 L125.8,38.9 L126.3,39.1 L126.7,39.3 L127.1,39.6 L127.6,39.8 L128.0,40.1 L128.4,40.4 L128.9,40.6 L129.3,40.9 L129.8,41.2 L130.2,41.5 L130.6,41.8 L131.1,42.1 L131.5,42.4 L131.9,42.7 L132.4,43.0 L132.8,43.3 L133.3,43.6 L133.7,43.9 L134.1,44.2 L134.6,44.6 L135.0,44.9 L135.5,45.2 L135.9,45.5 L136.3,45.9 L136.8,46.2 L137.2,46.6 L137.6,46.9 L138.1,47.3 L138.5,47.7 L139.0,48.0 L139.4,48.4 L139.8,48.8 L140.3,49.2 L140.7,49.6 L141.1,50.0 L141.6,50.4 L142.0,50.8 L142.5,51.3 L142.9,51.7 L143.3,52.1 L143.8,52.6 L144.2,53.0 L144.6,53.5 L145.1,53.9 L145.5,54.4 L146.0,54.9 L146.4,55.3 L146.8,55.8 L147.3,56.3 L147.7,56.8 L148.2,57.3 L148.6,57.8 L149.0,58.4 L149.5,58.9 L149.9,59.5 L150.3,60.1 L150.8,60.7 L151.2,61.3 L151.7,61.9 L152.1,62.5 L152.5,63.1 L153.0,63.8 L153.4,64.4 L153.8,65.1 L154.3,65.7 L154.7,66.4 L155.2,67.0 L155.6,67.7 L156.0,68.4 L156.5,69.0 L156.9,69.7 L157.3,70.3 L157.8,71.0 L158.2,71.7 L158.7,72.3 L159.1,73.0 L159.5,73.6 L160.0,74.2 L160.4,74.9 L160.8,75.5 L161.3,76.1 L161.7,76.8 L162.2,77.4 L162.6,78.1 L163.0,78.7 L163.5,79.3 L163.9,80.0 L164.4,80.6 L164.8,81.3 L165.2,82.0 L165.7,82.7 L166.1,83.4 L166.5,84.1 L167.0,84.8 L167.4,85.5 L167.9,86.3 L168.3,87.0 L168.7,87.8 L169.2,88.6 L169.6,89.4 L170.0,90.2 L170.5,91.0 L170.9,91.7 L171.4,92.5 L171.8,93.3 L172.2,94.1 L172.7,94.9 L173.1,95.7 L173.5,96.5 L174.0,97.3 L174.4,98.0 L174.9,98.8 L175.3,99.6 L175.7,100.4 L176.2,101.2 L176.6,102.0 L177.1,102.8 L177.5,103.6 L177.9,104.4 L178.4,105.2 L178.8,106.1 L179.2,106.9 L179.7,107.8 L180.1,108.7 L180.6,109.6 L181.0,110.5 L181.4,111.4 L181.9,112.3 L182.3,113.2 L182.7,114.0 L183.2,114.9 L183.6,115.7 L184.1,116.5 L184.5,117.2 L184.9,118.0 L185.4,118.7 L185.8,119.3 L186.2,120.0 L186.7,120.6 L187.1,121.3 L187.6,121.9 L188.0,122.5 L188.4,123.2 L188.9,123.8 L189.3,124.4 L189.8,125.1 L190.2,125.7 L190.6,126.4 L191.1,127.1 L191.5,127.8 L191.9,128.5 L192.4,129.2 L192.8,129.9 L193.3,130.6 L193.7,131.4 L194.1,132.1 L194.6,132.8 L195.0,133.6 L195.4,134.3 L195.9,135.0 L196.3,135.7 L196.8,136.3 L197.2,137.0 L197.6,137.6 L198.1,138.3 L198.5,138.9 L198.9,139.5 L199.4,140.1 L199.8,140.7 L200.3,141.3 L200.7,141.9 L201.1,142.5 L201.6,143.1 L202.0,143.7 L202.5,144.3 L202.9,144.9 L203.3,145.5 L203.8,146.1 L204.2,146.7 L204.6,147.3 L205.1,147.9 L205.5,148.5 L206.0,149.1 L206.4,149.8 L206.8,150.4 L207.3,150.9 L207.7,151.5 L208.1,152.1 L208.6,152.7 L209.0,153.2 L209.5,153.8 L209.9,154.3 L210.3,154.8 L210.8,155.3 L211.2,155.8 L211.6,156.3 L212.1,156.8 L212.5,157.2 L213.0,157.7 L213.4,158.2 L213.8,158.6 L214.3,159.1 L214.7,159.6 L215.2,160.0 L215.6,160.5 L216.0,161.0 L216.5,161.5 L216.9,162.0 L217.3,162.4 L217.8,162.9 L218.2,163.4 L218.7,163.9 L219.1,164.4 L219.5,164.8 L220.0,165.3 L220.4,165.7 L220.8,166.2 L221.3,166.6 L221.7,167.0 L222.2,167.4 L222.6,167.8 L223.0,168.2 L223.5,168.6 L223.9,169.0 L224.3,169.3 L224.8,169.7 L225.2,170.0 L225.7,170.4 L226.1,170.8 L226.5,171.1 L227.0,171.4 L227.4,171.8 L227.9,172.1 L228.3,172.4 L228.7,172.8 L229.2,173.1 L229.6,173.4 L230.0,173.7 L230.5,174.0 L230.9,174.4 L231.4,174.7 L231.8,175.0 L232.2,175.3 L232.7,175.6 L233.1,175.9 L233.5,176.2 L234.0,176.5 L234.4,176.8 L234.9,177.1 L235.3,177.4 L235.7,177.7 L236.2,178.0 L236.6,178.3 L237.0,178.6 L237.5,178.9 L237.9,179.2 L238.4,179.5 L238.8,179.8 L239.2,180.1 L239.7,180.3 L240.1,180.6 L240.5,180.8 L241.0,181.0 L241.4,181.3 L241.9,181.5 L242.3,181.7 L242.7,181.9 L243.2,182.2 L243.6,182.4 L244.1,182.6 L244.5,182.8 L244.9,183.0 L245.4,183.2 L245.8,183.4 L246.2,183.6 L246.7,183.8 L247.1,183.9 L247.6,184.1 L248.0,184.3 L248.4,184.5 L248.9,184.7 L249.3,184.8 L249.7,185.0 L250.2,185.2 L250.6,185.3 L251.1,185.5 L251.5,185.7 L251.9,185.8 L252.4,186.0 L252.8,186.2 L253.2,186.3 L253.7,186.5 L254.1,186.7 L254.6,186.9 L255.0,187.0 L255.4,187.2 L255.9,187.4 L256.3,187.5 L256.8,187.7 L257.2,187.8 L257.6,188.0 L258.1,188.1 L258.5,188.3 L258.9,188.4 L259.4,188.5 L259.8,188.7 L260.3,188.8 L260.7,188.9 L261.1,189.1 L261.6,189.2 L262.0,189.3 L262.4,189.4 L262.9,189.5 L263.3,189.6 L263.8,189.8 L264.2,189.9 L264.6,190.0 L265.1,190.0 L265.5,190.1 L265.9,190.2 L266.4,190.3 L266.8,190.4 L267.3,190.5 L267.7,190.6 L268.1,190.6 L268.6,190.7 L269.0,190.8 L269.5,190.9 L269.9,190.9 L270.3,191.0 L270.8,191.1 L271.2,191.1 L271.6,191.2 L272.1,191.2 L272.5,191.3 L273.0,191.4 L273.4,191.4 L273.8,191.5 L274.3,191.5 L274.7,191.6 L275.1,191.7 L275.6,191.7 L276.0,191.8 L276.5,191.8 L276.9,191.9 L277.3,191.9 L277.8,192.0 L278.2,192.0 L278.6,192.1 L279.1,192.1 L279.5,192.1 L280.0,192.2 L280.4,192.2 L280.8,192.3 L281.3,192.3 L281.7,192.4 L282.2,192.4 L282.6,192.4 L283.0,192.5 L283.5,192.5 L283.9,192.5 L284.3,192.6 L284.8,192.6 L285.2,192.6 L285.7,192.6 L286.1,192.7 L286.5,192.7 L287.0,192.7 L287.4,192.7 L287.8,192.8 L288.3,192.8 L288.7,192.8 L289.2,192.8 L289.6,192.8 L290.0,192.9 L290.5,192.9 L290.9,192.9 L291.3,192.9 L291.8,192.9 L292.2,193.0 L292.7,193.0 L293.1,193.0 L293.5,193.0 L294.0,193.0 L294.4,193.0 L294.9,193.0 L295.3,193.0 L295.7,193.0 L296.2,193.0 L296.6,193.0 L297.0,193.0 L297.5,193.0 L297.9,193.0 L298.4,193.0 L298.8,193.0 L299.2,193.0 L299.7,193.0 L300.1,193.0 L300.5,193.0 L301.0,193.0 L301.4,193.0 L301.9,193.0 L302.3,193.0 L302.7,193.0 L303.2,193.0 L303.6,193.0 L304.0,193.0 L304.5,193.0 L304.9,193.0 L305.4,193.0 L305.8,193.0 L306.2,193.0 L306.7,193.0 L307.1,193.0 L307.6,193.0 L308.0,193.0 L308.4,193.0 L308.9,193.0 L309.3,193.0 L309.7,193.0 L310.2,193.0 L310.6,193.0 L311.1,193.0 L311.5,193.0 L311.9,193.0 L312.4,193.0 L312.8,193.0 L313.2,193.0 L313.7,193.0 L314.1,193.0 L314.6,193.0 L315.0,193.0 L315.4,193.0 L315.9,193.0 L316.3,193.0 L316.7,193.0 L317.2,193.0 L317.6,193.0 L318.1,193.0 L318.5,193.0 L318.9,193.0 L319.4,193.0 L319.8,193.0 L320.2,193.0 L320.7,193.0 L321.1,193.0 L321.6,193.0 L322.0,193.0 L322.4,193.0 L322.9,193.0 L323.3,193.0 L323.8,193.0 L324.2,193.0 L324.6,193.0 L325.1,193.0 L325.5,193.0 L325.9,193.0 L326.4,193.0 L326.8,193.0 L327.3,193.0 L327.7,193.0 L328.1,193.0 L328.6,193.0 L329.0,193.0 L329.4,193.0 L329.9,193.0 L330.3,193.0 L330.8,193.0 L331.2,193.0 L331.6,193.0 L332.1,193.0 L332.5,193.0 L332.9,193.0 L333.4,193.0 L333.8,193.0 L334.3,193.0 L334.7,193.0 L335.1,193.0 L335.6,193.0 L336.0,193.0 L336.5,193.0 L336.9,193.0 L337.3,193.0 L337.8,193.0 L338.2,193.0 L338.6,193.0 L339.1,193.0 L339.5,193.0 L340.0,193.0 L340.4,193.0 L340.8,193.0 L341.3,193.0 L341.7,193.0 L342.1,193.0 L342.6,193.0 L343.0,193.0 L343.5,193.0 L343.9,193.0 L344.3,193.0 L344.8,193.0 L345.2,193.0 L345.6,193.0 L346.1,193.0 L346.5,193.0 L347.0,193.0 L347.4,193.0"/>
</g>
<g fill="none" stroke="#000" stroke-width="1.1">
<circle cx="44.3" cy="32.0" r="2.3"/>
<circle cx="50.4" cy="32.0" r="2.3"/>
<circle cx="56.5" cy="32.0" r="2.3"/>
<circle cx="62.6" cy="32.0" r="2.3"/>
<circle cx="68.7" cy="32.0" r="2.3"/>
<circle cx="74.8" cy="32.0" r="2.3"/>
<circle cx="80.9" cy="32.0" r="2.3"/>
<circle cx="87.0" cy="32.0" r="2.3"/>
<circle cx="93.1" cy="32.0" r="2.3"/>
<circle cx="99.2" cy="32.3" r="2.3"/>
<circle cx="105.4" cy="32.8" r="2.3"/>
<circle cx="111.5" cy="33.8" r="2.3"/>
<circle cx="117.6" cy="35.4" r="2.3"/>
<circle cx="123.7" cy="37.8" r="2.3"/>
<circle cx="129.8" cy="41.2" r="2.3"/>
<circle cx="135.9" cy="45.6" r="2.3"/>
<circle cx="142.0" cy="50.8" r="2.3"/>
<circle cx="148.1" cy="57.3" r="2.3"/>
<circle cx="154.2" cy="65.6" r="2.3"/>
<circle cx="160.3" cy="74.8" r="2.3"/>
<circle cx="166.4" cy="83.9" r="2.3"/>
<circle cx="172.6" cy="94.7" r="2.3"/>
<circle cx="178.7" cy="105.8" r="2.3"/>
<circle cx="184.8" cy="117.7" r="2.3"/>
<circle cx="190.9" cy="126.8" r="2.3"/>
<circle cx="197.0" cy="136.7" r="2.3"/>
<circle cx="203.1" cy="145.2" r="2.3"/>
<circle cx="209.2" cy="153.5" r="2.3"/>
<circle cx="215.3" cy="160.2" r="2.3"/>
<circle cx="221.4" cy="166.7" r="2.3"/>
<circle cx="227.5" cy="171.9" r="2.3"/>
<circle cx="233.7" cy="176.3" r="2.3"/>
<circle cx="239.8" cy="180.4" r="2.3"/>
<circle cx="245.9" cy="183.4" r="2.3"/>
<circle cx="252.0" cy="185.9" r="2.3"/>
<circle cx="258.1" cy="188.1" r="2.3"/>
<circle cx="264.2" cy="189.9" r="2.3"/>
<circle cx="270.3" cy="191.0" r="2.3"/>
<circle cx="276.4" cy="191.8" r="2.3"/>
<circle cx="282.5" cy="192.4" r="2.3"/>
<circle cx="288.6" cy="192.8" r="2.3"/>
<circle cx="294.7" cy="193.0" r="2.3"/>
<circle cx="300.9" cy="193.0" r="2.3"/>
<circle cx="307.0" cy="193.0" r="2.3"/>
<circle cx="313.1" cy="193.0" r="2.3"/>
<circle cx="319.2" cy="193.0" r="2.3"/>
<circle cx="325.3" cy="193.0" r="2.3"/>
<circle cx="331.4" cy="193.0" r="2.3"/>
<circle cx="337.5" cy="193.0" r="2.3"/>
<circle cx="343.6" cy="193.0" r="2.3"/>
</g>
<g clip-path="url(#cTR)">
<path fill="none" stroke="#000000" stroke-width="2.95" stroke-dasharray="9.75 2.65 1.9 2.5" d="M347.4,32.1 L347.8,32.1 L348.3,32.1 L348.7,32.1 L349.1,32.1 L349.6,32.1 L350.0,32.1 L350.5,32.1 L350.9,32.1 L351.3,32.1 L351.8,32.1 L352.2,32.1 L352.6,32.1 L353.1,32.1 L353.5,32.1 L354.0,32.1 L354.4,32.1 L354.8,32.1 L355.3,32.1 L355.7,32.1 L356.1,32.1 L356.6,32.1 L357.0,32.1 L357.5,32.1 L357.9,32.1 L358.3,32.1 L358.8,32.1 L359.2,32.1 L359.6,32.1 L360.1,32.1 L360.5,32.1 L361.0,32.1 L361.4,32.1 L361.8,32.1 L362.3,32.1 L362.7,32.1 L363.1,32.1 L363.6,32.1 L364.0,32.1 L364.5,32.1 L364.9,32.1 L365.3,32.1 L365.8,32.1 L366.2,32.1 L366.6,32.1 L367.1,32.1 L367.5,32.1 L368.0,32.1 L368.4,32.1 L368.8,32.1 L369.3,32.1 L369.7,32.1 L370.1,32.1 L370.6,32.1 L371.0,32.1 L371.5,32.1 L371.9,32.1 L372.3,32.1 L372.8,32.1 L373.2,32.1 L373.6,32.1 L374.1,32.1 L374.5,32.1 L375.0,32.1 L375.4,32.1 L375.8,32.1 L376.3,32.1 L376.7,32.1 L377.1,32.1 L377.6,32.1 L378.0,32.1 L378.5,32.1 L378.9,32.1 L379.3,32.1 L379.8,32.1 L380.2,32.1 L380.6,32.1 L381.1,32.1 L381.5,32.1 L382.0,32.1 L382.4,32.1 L382.8,32.1 L383.3,32.1 L383.7,32.1 L384.1,32.1 L384.6,32.1 L385.0,32.1 L385.5,32.1 L385.9,32.1 L386.3,32.1 L386.8,32.1 L387.2,32.1 L387.6,32.1 L388.1,32.1 L388.5,32.1 L389.0,32.1 L389.4,32.1 L389.8,32.1 L390.3,32.1 L390.7,32.1 L391.1,32.1 L391.6,32.1 L392.0,32.1 L392.5,32.1 L392.9,32.1 L393.3,32.1 L393.8,32.1 L394.2,32.1 L394.6,32.1 L395.1,32.1 L395.5,32.1 L396.0,32.1 L396.4,32.1 L396.8,32.1 L397.3,32.1 L397.7,32.1 L398.1,32.1 L398.6,32.1 L399.0,32.1 L399.5,32.1 L399.9,32.1 L400.3,32.1 L400.8,32.1 L401.2,32.1 L401.6,32.1 L402.1,32.1 L402.5,32.1 L403.0,32.1 L403.4,32.1 L403.8,32.1 L404.3,32.1 L404.7,32.1 L405.1,32.1 L405.6,32.1 L406.0,32.1 L406.5,32.1 L406.9,32.1 L407.3,32.1 L407.8,32.1 L408.2,32.1 L408.6,32.1 L409.1,32.1 L409.5,32.1 L410.0,32.1 L410.4,32.1 L410.8,32.1 L411.3,32.1 L411.7,32.1 L412.1,32.1 L412.6,32.1 L413.0,32.1 L413.5,32.1 L413.9,32.1 L414.3,32.1 L414.8,32.1 L415.2,32.1 L415.6,32.1 L416.1,32.1 L416.5,32.1 L417.0,32.1 L417.4,32.1 L417.8,32.1 L418.3,32.1 L418.7,32.1 L419.1,32.1 L419.6,32.1 L420.0,32.1 L420.5,32.1 L420.9,32.1 L421.3,32.1 L421.8,32.1 L422.2,32.1 L422.6,32.1 L423.1,32.1 L423.5,32.1 L424.0,32.1 L424.4,32.1 L424.8,32.1 L425.3,32.1 L425.7,32.1 L426.1,32.1 L426.6,32.1 L427.0,32.1 L427.5,32.1 L427.9,32.1 L428.3,32.1 L428.8,32.1 L429.2,32.1 L429.6,32.1 L430.1,32.1 L430.5,32.1 L431.0,32.1 L431.4,32.1 L431.8,32.1 L432.3,32.1 L432.7,32.1 L433.1,32.1 L433.6,32.1 L434.0,32.1 L434.5,32.1 L434.9,32.1 L435.3,32.1 L435.8,32.1 L436.2,32.1 L436.6,32.1 L437.1,32.2 L437.5,32.2 L438.0,32.2 L438.4,32.2 L438.8,32.2 L439.3,32.3 L439.7,32.3 L440.1,32.3 L440.6,32.3 L441.0,32.3 L441.5,32.3 L441.9,32.3 L442.3,32.3 L442.8,32.3 L443.2,32.3 L443.6,32.3 L444.1,32.3 L444.5,32.2 L445.0,32.2 L445.4,32.2 L445.8,32.2 L446.3,32.2 L446.7,32.2 L447.1,32.2 L447.6,32.2 L448.0,32.3 L448.5,32.3 L448.9,32.3 L449.3,32.3 L449.8,32.3 L450.2,32.3 L450.6,32.3 L451.1,32.3 L451.5,32.3 L452.0,32.4 L452.4,32.4 L452.8,32.4 L453.3,32.5 L453.7,32.5 L454.1,32.6 L454.6,32.6 L455.0,32.6 L455.5,32.7 L455.9,32.7 L456.3,32.7 L456.8,32.8 L457.2,32.9 L457.6,33.0 L458.1,33.1 L458.5,33.3 L459.0,33.4 L459.4,33.6 L459.8,33.8 L460.3,34.0 L460.7,34.2 L461.1,34.5 L461.6,34.7 L462.0,35.0 L462.5,35.3 L462.9,35.6 L463.3,36.0 L463.8,36.3 L464.2,36.7 L464.6,37.2 L465.1,37.6 L465.5,38.1 L466.0,38.6 L466.4,39.1 L466.8,39.6 L467.3,40.1 L467.7,40.6 L468.1,41.2 L468.6,41.7 L469.0,42.3 L469.5,42.9 L469.9,43.4 L470.3,44.1 L470.8,44.7 L471.2,45.3 L471.6,46.0 L472.1,46.7 L472.5,47.4 L473.0,48.2 L473.4,48.9 L473.8,49.7 L474.3,50.6 L474.7,51.4 L475.1,52.3 L475.6,53.2 L476.0,54.1 L476.5,55.0 L476.9,55.9 L477.3,56.9 L477.8,57.8 L478.2,58.8 L478.6,59.8 L479.1,60.7 L479.5,61.8 L480.0,62.8 L480.4,63.9 L480.8,64.9 L481.3,66.0 L481.7,67.2 L482.1,68.4 L482.6,69.6 L483.0,70.8 L483.5,72.1 L483.9,73.4 L484.3,74.8 L484.8,76.1 L485.2,77.5 L485.6,78.8 L486.1,80.2 L486.5,81.5 L487.0,82.9 L487.4,84.3 L487.8,85.7 L488.3,87.1 L488.7,88.5 L489.1,89.9 L489.6,91.4 L490.0,92.8 L490.5,94.3 L490.9,95.8 L491.3,97.3 L491.8,98.7 L492.2,100.2 L492.6,101.7 L493.1,103.2 L493.5,104.7 L494.0,106.2 L494.4,107.7 L494.8,109.2 L495.3,110.7 L495.7,112.2 L496.1,113.6 L496.6,115.1 L497.0,116.6 L497.5,118.0 L497.9,119.4 L498.3,120.9 L498.8,122.2 L499.2,123.6 L499.6,125.0 L500.1,126.3 L500.5,127.6 L501.0,128.9 L501.4,130.2 L501.8,131.5 L502.3,132.7 L502.7,134.0 L503.1,135.2 L503.6,136.4 L504.0,137.6 L504.5,138.8 L504.9,140.0 L505.3,141.2 L505.8,142.3 L506.2,143.5 L506.6,144.7 L507.1,145.8 L507.5,146.9 L508.0,148.0 L508.4,149.1 L508.8,150.2 L509.3,151.3 L509.7,152.3 L510.1,153.4 L510.6,154.4 L511.0,155.4 L511.5,156.5 L511.9,157.4 L512.3,158.4 L512.8,159.3 L513.2,160.3 L513.6,161.1 L514.1,162.0 L514.5,162.9 L515.0,163.7 L515.4,164.6 L515.8,165.4 L516.3,166.2 L516.7,166.9 L517.1,167.7 L517.6,168.4 L518.0,169.1 L518.5,169.8 L518.9,170.5 L519.3,171.2 L519.8,171.9 L520.2,172.5 L520.6,173.2 L521.1,173.8 L521.5,174.4 L522.0,174.9 L522.4,175.5 L522.8,176.0 L523.3,176.5 L523.7,177.0 L524.1,177.5 L524.6,178.0 L525.0,178.4 L525.5,178.9 L525.9,179.3 L526.3,179.7 L526.8,180.1 L527.2,180.6 L527.6,181.0 L528.1,181.4 L528.5,181.8 L529.0,182.2 L529.4,182.6 L529.8,182.9 L530.3,183.3 L530.7,183.7 L531.1,184.0 L531.6,184.3 L532.0,184.6 L532.5,184.9 L532.9,185.2 L533.3,185.4 L533.8,185.7 L534.2,185.9 L534.6,186.2 L535.1,186.4 L535.5,186.6 L536.0,186.8 L536.4,187.0 L536.8,187.3 L537.3,187.5 L537.7,187.7 L538.1,187.9 L538.6,188.1 L539.0,188.3 L539.5,188.5 L539.9,188.7 L540.3,188.9 L540.8,189.0 L541.2,189.2 L541.6,189.3 L542.1,189.4 L542.5,189.6 L543.0,189.7 L543.4,189.8 L543.8,189.9 L544.3,190.0 L544.7,190.1 L545.1,190.2 L545.6,190.3 L546.0,190.4 L546.5,190.5 L546.9,190.6 L547.3,190.7 L547.8,190.8 L548.2,190.9 L548.6,191.0 L549.1,191.1 L549.5,191.2 L550.0,191.3 L550.4,191.3 L550.8,191.4 L551.3,191.5 L551.7,191.6 L552.1,191.6 L552.6,191.7 L553.0,191.8 L553.5,191.8 L553.9,191.9 L554.3,191.9 L554.8,192.0 L555.2,192.1 L555.6,192.1 L556.1,192.2 L556.5,192.3 L557.0,192.3 L557.4,192.4 L557.8,192.4 L558.3,192.5 L558.7,192.5 L559.1,192.6 L559.6,192.6 L560.0,192.6 L560.5,192.7 L560.9,192.7 L561.3,192.7 L561.8,192.8 L562.2,192.8 L562.6,192.8 L563.1,192.8 L563.5,192.9 L564.0,192.9 L564.4,192.9 L564.8,192.9 L565.3,192.9 L565.7,192.9 L566.1,193.0 L566.6,193.0 L567.0,193.0 L567.5,193.0 L567.9,193.0 L568.3,193.0 L568.8,193.0 L569.2,193.0 L569.6,193.0 L570.1,193.0 L570.5,193.0 L571.0,193.0 L571.4,193.0 L571.8,193.0 L572.3,193.0 L572.7,193.0 L573.1,193.0 L573.6,193.0 L574.0,193.0 L574.5,193.0 L574.9,193.0 L575.3,193.0 L575.8,193.0 L576.2,193.0 L576.6,193.0 L577.1,193.0 L577.5,193.0 L578.0,193.0 L578.4,193.0 L578.8,193.0 L579.3,193.0 L579.7,193.0 L580.1,193.0 L580.6,193.0 L581.0,193.0 L581.5,193.0 L581.9,193.0 L582.3,193.0 L582.8,193.0 L583.2,193.0 L583.6,193.0 L584.1,193.0 L584.5,193.0 L585.0,193.0 L585.4,193.0 L585.8,193.0 L586.3,193.0 L586.7,193.0 L587.1,193.0 L587.6,193.0 L588.0,193.0 L588.5,193.0 L588.9,193.0 L589.3,193.0 L589.8,193.0 L590.2,193.0 L590.6,193.0 L591.1,193.0 L591.5,193.0 L592.0,193.0 L592.4,193.0 L592.8,193.0 L593.3,193.0 L593.7,193.0 L594.1,193.0 L594.6,193.0 L595.0,193.0 L595.5,193.0 L595.9,193.0 L596.3,193.0 L596.8,193.0 L597.2,193.0 L597.6,193.0 L598.1,193.0 L598.5,193.0 L599.0,193.0 L599.4,193.0 L599.8,193.0 L600.3,193.0 L600.7,193.0 L601.1,193.0 L601.6,193.0 L602.0,193.0 L602.5,193.0 L602.9,193.0 L603.3,193.0 L603.8,193.0 L604.2,193.0 L604.6,193.0 L605.1,193.0 L605.5,193.0 L606.0,193.0 L606.4,193.0 L606.8,193.0 L607.3,193.0 L607.7,193.0 L608.1,193.0 L608.6,193.0 L609.0,193.0 L609.5,193.0 L609.9,193.0 L610.3,193.0 L610.8,193.0 L611.2,193.0 L611.6,193.0 L612.1,193.0 L612.5,193.0 L613.0,193.0 L613.4,193.0 L613.8,193.0 L614.3,193.0 L614.7,193.0 L615.1,193.0 L615.6,193.0 L616.0,193.0 L616.5,193.0 L616.9,193.0 L617.3,193.0 L617.8,193.0 L618.2,193.0 L618.6,193.0 L619.1,193.0 L619.5,193.0 L620.0,193.0 L620.4,193.0 L620.8,193.0 L621.3,193.0 L621.7,193.0 L622.1,193.0 L622.6,193.0 L623.0,193.0 L623.5,193.0 L623.9,193.0 L624.3,193.0 L624.8,193.0 L625.2,193.0 L625.6,193.0 L626.1,193.0 L626.5,193.0 L627.0,193.0 L627.4,193.0 L627.8,193.0 L628.3,193.0 L628.7,193.0 L629.1,193.0 L629.6,193.0 L630.0,193.0 L630.5,193.0 L630.9,193.0 L631.3,193.0 L631.8,193.0 L632.2,193.0 L632.6,193.0 L633.1,193.0 L633.5,193.0 L634.0,193.0 L634.4,193.0 L634.8,193.0 L635.3,193.0 L635.7,193.0 L636.1,193.0 L636.6,193.0 L637.0,193.0 L637.5,193.0 L637.9,193.0 L638.3,193.0 L638.8,193.0 L639.2,193.0 L639.6,193.0 L640.1,193.0 L640.5,193.0 L641.0,193.0 L641.4,193.0 L641.8,193.0 L642.3,193.0 L642.7,193.0 L643.1,193.0 L643.6,193.0 L644.0,193.0 L644.5,193.0 L644.9,193.0 L645.3,193.0 L645.8,193.0 L646.2,193.0 L646.6,193.0 L647.1,193.0 L647.5,193.0 L648.0,193.0 L648.4,193.0 L648.8,193.0 L649.3,193.0 L649.7,193.0 L650.1,193.0 L650.6,193.0 L651.0,193.0 L651.5,193.0 L651.9,193.0 L652.3,193.0 L652.8,193.0 L653.2,193.0"/>
<path fill="none" stroke="#006400" stroke-width="2.6" stroke-dasharray="6.6 2.5" d="M347.4,32.0 L347.8,32.0 L348.3,32.0 L348.7,32.0 L349.1,32.0 L349.6,32.0 L350.0,32.0 L350.5,32.0 L350.9,32.0 L351.3,32.0 L351.8,32.0 L352.2,32.0 L352.6,32.0 L353.1,32.0 L353.5,32.0 L354.0,32.0 L354.4,32.0 L354.8,32.0 L355.3,32.0 L355.7,32.0 L356.1,32.0 L356.6,32.0 L357.0,32.0 L357.5,32.0 L357.9,32.0 L358.3,32.0 L358.8,32.0 L359.2,32.0 L359.6,32.0 L360.1,32.0 L360.5,32.0 L361.0,32.0 L361.4,32.0 L361.8,32.0 L362.3,32.0 L362.7,32.0 L363.1,32.0 L363.6,32.0 L364.0,32.0 L364.5,32.0 L364.9,32.0 L365.3,32.0 L365.8,32.0 L366.2,32.0 L366.6,32.0 L367.1,32.0 L367.5,32.0 L368.0,32.0 L368.4,32.0 L368.8,32.0 L369.3,32.0 L369.7,32.0 L370.1,32.0 L370.6,32.0 L371.0,32.0 L371.5,32.0 L371.9,32.0 L372.3,32.0 L372.8,32.0 L373.2,32.0 L373.6,32.0 L374.1,32.0 L374.5,32.0 L375.0,32.0 L375.4,32.0 L375.8,32.0 L376.3,32.0 L376.7,32.0 L377.1,32.0 L377.6,32.0 L378.0,32.0 L378.5,32.0 L378.9,32.0 L379.3,32.0 L379.8,32.0 L380.2,32.0 L380.6,32.0 L381.1,32.0 L381.5,32.0 L382.0,32.0 L382.4,32.0 L382.8,32.0 L383.3,32.0 L383.7,32.0 L384.1,32.0 L384.6,32.0 L385.0,32.0 L385.5,32.0 L385.9,32.0 L386.3,32.0 L386.8,32.0 L387.2,32.0 L387.6,32.0 L388.1,32.0 L388.5,32.0 L389.0,32.0 L389.4,32.0 L389.8,32.0 L390.3,32.0 L390.7,32.0 L391.1,32.0 L391.6,32.0 L392.0,32.0 L392.5,32.0 L392.9,32.0 L393.3,32.0 L393.8,32.0 L394.2,32.0 L394.6,32.0 L395.1,32.0 L395.5,32.0 L396.0,32.0 L396.4,32.0 L396.8,32.0 L397.3,32.0 L397.7,32.0 L398.1,32.0 L398.6,32.0 L399.0,32.0 L399.5,32.0 L399.9,32.0 L400.3,32.0 L400.8,32.0 L401.2,32.0 L401.6,32.0 L402.1,32.0 L402.5,32.0 L403.0,32.0 L403.4,32.0 L403.8,32.0 L404.3,32.0 L404.7,32.0 L405.1,32.0 L405.6,32.0 L406.0,32.0 L406.5,32.0 L406.9,32.0 L407.3,32.0 L407.8,32.0 L408.2,32.0 L408.6,32.0 L409.1,32.0 L409.5,32.0 L410.0,32.0 L410.4,32.0 L410.8,32.0 L411.3,32.0 L411.7,32.0 L412.1,32.0 L412.6,32.0 L413.0,32.0 L413.5,32.0 L413.9,32.0 L414.3,32.0 L414.8,32.0 L415.2,32.0 L415.6,32.0 L416.1,32.0 L416.5,32.0 L417.0,32.0 L417.4,32.0 L417.8,32.0 L418.3,32.0 L418.7,32.0 L419.1,32.0 L419.6,32.0 L420.0,32.0 L420.5,32.0 L420.9,32.0 L421.3,32.0 L421.8,32.0 L422.2,32.0 L422.6,32.0 L423.1,32.0 L423.5,32.0 L424.0,32.0 L424.4,32.0 L424.8,32.0 L425.3,32.0 L425.7,32.0 L426.1,32.0 L426.6,32.0 L427.0,32.0 L427.5,32.0 L427.9,32.0 L428.3,32.0 L428.8,32.0 L429.2,32.0 L429.6,32.0 L430.1,32.0 L430.5,32.0 L431.0,32.0 L431.4,32.0 L431.8,32.0 L432.3,32.0 L432.7,32.0 L433.1,32.0 L433.6,32.0 L434.0,32.1 L434.5,32.1 L434.9,32.1 L435.3,32.1 L435.8,32.1 L436.2,32.1 L436.6,32.1 L437.1,32.2 L437.5,32.2 L438.0,32.2 L438.4,32.2 L438.8,32.2 L439.3,32.3 L439.7,32.3 L440.1,32.3 L440.6,32.3 L441.0,32.3 L441.5,32.4 L441.9,32.4 L442.3,32.4 L442.8,32.4 L443.2,32.5 L443.6,32.5 L444.1,32.5 L444.5,32.6 L445.0,32.6 L445.4,32.6 L445.8,32.7 L446.3,32.8 L446.7,32.8 L447.1,32.9 L447.6,33.0 L448.0,33.1 L448.5,33.2 L448.9,33.3 L449.3,33.4 L449.8,33.5 L450.2,33.6 L450.6,33.7 L451.1,33.9 L451.5,34.0 L452.0,34.2 L452.4,34.3 L452.8,34.5 L453.3,34.7 L453.7,34.9 L454.1,35.1 L454.6,35.4 L455.0,35.6 L455.5,35.9 L455.9,36.1 L456.3,36.4 L456.8,36.7 L457.2,36.9 L457.6,37.2 L458.1,37.5 L458.5,37.9 L459.0,38.2 L459.4,38.6 L459.8,39.0 L460.3,39.4 L460.7,39.9 L461.1,40.3 L461.6,40.8 L462.0,41.3 L462.5,41.8 L462.9,42.3 L463.3,42.8 L463.8,43.3 L464.2,43.8 L464.6,44.3 L465.1,44.9 L465.5,45.5 L466.0,46.1 L466.4,46.7 L466.8,47.3 L467.3,47.9 L467.7,48.5 L468.1,49.1 L468.6,49.7 L469.0,50.4 L469.5,51.0 L469.9,51.6 L470.3,52.3 L470.8,52.9 L471.2,53.6 L471.6,54.3 L472.1,55.0 L472.5,55.8 L473.0,56.6 L473.4,57.4 L473.8,58.2 L474.3,59.0 L474.7,59.9 L475.1,60.8 L475.6,61.6 L476.0,62.5 L476.5,63.4 L476.9,64.3 L477.3,65.2 L477.8,66.0 L478.2,66.9 L478.6,67.8 L479.1,68.8 L479.5,69.7 L480.0,70.6 L480.4,71.6 L480.8,72.6 L481.3,73.6 L481.7,74.6 L482.1,75.7 L482.6,76.8 L483.0,78.0 L483.5,79.2 L483.9,80.3 L484.3,81.5 L484.8,82.7 L485.2,83.9 L485.6,85.1 L486.1,86.3 L486.5,87.5 L487.0,88.7 L487.4,89.9 L487.8,91.1 L488.3,92.4 L488.7,93.6 L489.1,94.8 L489.6,96.1 L490.0,97.3 L490.5,98.5 L490.9,99.7 L491.3,101.0 L491.8,102.2 L492.2,103.5 L492.6,104.8 L493.1,106.0 L493.5,107.3 L494.0,108.6 L494.4,109.8 L494.8,111.1 L495.3,112.3 L495.7,113.6 L496.1,114.8 L496.6,116.1 L497.0,117.4 L497.5,118.6 L497.9,119.9 L498.3,121.1 L498.8,122.3 L499.2,123.5 L499.6,124.7 L500.1,125.9 L500.5,127.1 L501.0,128.3 L501.4,129.4 L501.8,130.5 L502.3,131.7 L502.7,132.8 L503.1,133.9 L503.6,135.0 L504.0,136.1 L504.5,137.2 L504.9,138.2 L505.3,139.3 L505.8,140.3 L506.2,141.4 L506.6,142.4 L507.1,143.5 L507.5,144.5 L508.0,145.5 L508.4,146.4 L508.8,147.4 L509.3,148.4 L509.7,149.3 L510.1,150.3 L510.6,151.2 L511.0,152.2 L511.5,153.1 L511.9,154.0 L512.3,154.9 L512.8,155.8 L513.2,156.7 L513.6,157.5 L514.1,158.3 L514.5,159.2 L515.0,160.0 L515.4,160.8 L515.8,161.6 L516.3,162.3 L516.7,163.1 L517.1,163.8 L517.6,164.5 L518.0,165.2 L518.5,165.9 L518.9,166.6 L519.3,167.2 L519.8,167.9 L520.2,168.5 L520.6,169.2 L521.1,169.8 L521.5,170.4 L522.0,171.0 L522.4,171.5 L522.8,172.1 L523.3,172.6 L523.7,173.1 L524.1,173.6 L524.6,174.1 L525.0,174.6 L525.5,175.1 L525.9,175.6 L526.3,176.1 L526.8,176.6 L527.2,177.0 L527.6,177.5 L528.1,178.0 L528.5,178.4 L529.0,178.9 L529.4,179.3 L529.8,179.8 L530.3,180.2 L530.7,180.6 L531.1,181.0 L531.6,181.4 L532.0,181.7 L532.5,182.1 L532.9,182.4 L533.3,182.8 L533.8,183.1 L534.2,183.4 L534.6,183.7 L535.1,184.0 L535.5,184.3 L536.0,184.6 L536.4,184.9 L536.8,185.2 L537.3,185.5 L537.7,185.8 L538.1,186.1 L538.6,186.3 L539.0,186.6 L539.5,186.9 L539.9,187.1 L540.3,187.4 L540.8,187.6 L541.2,187.8 L541.6,188.0 L542.1,188.2 L542.5,188.4 L543.0,188.6 L543.4,188.7 L543.8,188.9 L544.3,189.1 L544.7,189.2 L545.1,189.4 L545.6,189.5 L546.0,189.7 L546.5,189.9 L546.9,190.0 L547.3,190.2 L547.8,190.3 L548.2,190.5 L548.6,190.6 L549.1,190.7 L549.5,190.8 L550.0,191.0 L550.4,191.1 L550.8,191.2 L551.3,191.3 L551.7,191.3 L552.1,191.4 L552.6,191.5 L553.0,191.6 L553.5,191.7 L553.9,191.7 L554.3,191.8 L554.8,191.9 L555.2,192.0 L555.6,192.0 L556.1,192.1 L556.5,192.2 L557.0,192.3 L557.4,192.3 L557.8,192.4 L558.3,192.5 L558.7,192.5 L559.1,192.6 L559.6,192.6 L560.0,192.6 L560.5,192.7 L560.9,192.7 L561.3,192.7 L561.8,192.8 L562.2,192.8 L562.6,192.8 L563.1,192.8 L563.5,192.9 L564.0,192.9 L564.4,192.9 L564.8,192.9 L565.3,192.9 L565.7,192.9 L566.1,193.0 L566.6,193.0 L567.0,193.0 L567.5,193.0 L567.9,193.0 L568.3,193.0 L568.8,193.0 L569.2,193.0 L569.6,193.0 L570.1,193.0 L570.5,193.0 L571.0,193.0 L571.4,193.0 L571.8,193.0 L572.3,193.0 L572.7,193.0 L573.1,193.0 L573.6,193.0 L574.0,193.0 L574.5,193.0 L574.9,193.0 L575.3,193.0 L575.8,193.0 L576.2,193.0 L576.6,193.0 L577.1,193.0 L577.5,193.0 L578.0,193.0 L578.4,193.0 L578.8,193.0 L579.3,193.0 L579.7,193.0 L580.1,193.0 L580.6,193.0 L581.0,193.0 L581.5,193.0 L581.9,193.0 L582.3,193.0 L582.8,193.0 L583.2,193.0 L583.6,193.0 L584.1,193.0 L584.5,193.0 L585.0,193.0 L585.4,193.0 L585.8,193.0 L586.3,193.0 L586.7,193.0 L587.1,193.0 L587.6,193.0 L588.0,193.0 L588.5,193.0 L588.9,193.0 L589.3,193.0 L589.8,193.0 L590.2,193.0 L590.6,193.0 L591.1,193.0 L591.5,193.0 L592.0,193.0 L592.4,193.0 L592.8,193.0 L593.3,193.0 L593.7,193.0 L594.1,193.0 L594.6,193.0 L595.0,193.0 L595.5,193.0 L595.9,193.0 L596.3,193.0 L596.8,193.0 L597.2,193.0 L597.6,193.0 L598.1,193.0 L598.5,193.0 L599.0,193.0 L599.4,193.0 L599.8,193.0 L600.3,193.0 L600.7,193.0 L601.1,193.0 L601.6,193.0 L602.0,193.0 L602.5,193.0 L602.9,193.0 L603.3,193.0 L603.8,193.0 L604.2,193.0 L604.6,193.0 L605.1,193.0 L605.5,193.0 L606.0,193.0 L606.4,193.0 L606.8,193.0 L607.3,193.0 L607.7,193.0 L608.1,193.0 L608.6,193.0 L609.0,193.0 L609.5,193.0 L609.9,193.0 L610.3,193.0 L610.8,193.0 L611.2,193.0 L611.6,193.0 L612.1,193.0 L612.5,193.0 L613.0,193.0 L613.4,193.0 L613.8,193.0 L614.3,193.0 L614.7,193.0 L615.1,193.0 L615.6,193.0 L616.0,193.0 L616.5,193.0 L616.9,193.0 L617.3,193.0 L617.8,193.0 L618.2,193.0 L618.6,193.0 L619.1,193.0 L619.5,193.0 L620.0,193.0 L620.4,193.0 L620.8,193.0 L621.3,193.0 L621.7,193.0 L622.1,193.0 L622.6,193.0 L623.0,193.0 L623.5,193.0 L623.9,193.0 L624.3,193.0 L624.8,193.0 L625.2,193.0 L625.6,193.0 L626.1,193.0 L626.5,193.0 L627.0,193.0 L627.4,193.0 L627.8,193.0 L628.3,193.0 L628.7,193.0 L629.1,193.0 L629.6,193.0 L630.0,193.0 L630.5,193.0 L630.9,193.0 L631.3,193.0 L631.8,193.0 L632.2,193.0 L632.6,193.0 L633.1,193.0 L633.5,193.0 L634.0,193.0 L634.4,193.0 L634.8,193.0 L635.3,193.0 L635.7,193.0 L636.1,193.0 L636.6,193.0 L637.0,193.0 L637.5,193.0 L637.9,193.0 L638.3,193.0 L638.8,193.0 L639.2,193.0 L639.6,193.0 L640.1,193.0 L640.5,193.0 L641.0,193.0 L641.4,193.0 L641.8,193.0 L642.3,193.0 L642.7,193.0 L643.1,193.0 L643.6,193.0 L644.0,193.0 L644.5,193.0 L644.9,193.0 L645.3,193.0 L645.8,193.0 L646.2,193.0 L646.6,193.0 L647.1,193.0 L647.5,193.0 L648.0,193.0 L648.4,193.0 L648.8,193.0 L649.3,193.0 L649.7,193.0 L650.1,193.0 L650.6,193.0 L651.0,193.0 L651.5,193.0 L651.9,193.0 L652.3,193.0 L652.8,193.0 L653.2,193.0"/>
<path fill="none" stroke="#0000ff" stroke-width="2.8" stroke-dasharray="1.85 1.9" d="M347.4,32.0 L347.8,32.0 L348.3,32.0 L348.7,32.0 L349.1,32.0 L349.6,32.0 L350.0,32.0 L350.5,32.0 L350.9,32.0 L351.3,32.0 L351.8,32.0 L352.2,32.0 L352.6,32.0 L353.1,32.0 L353.5,32.0 L354.0,32.0 L354.4,32.0 L354.8,32.0 L355.3,32.0 L355.7,32.0 L356.1,32.0 L356.6,32.0 L357.0,32.0 L357.5,32.0 L357.9,32.0 L358.3,32.0 L358.8,32.0 L359.2,32.0 L359.6,32.0 L360.1,32.0 L360.5,32.0 L361.0,32.0 L361.4,32.0 L361.8,32.0 L362.3,32.0 L362.7,32.0 L363.1,32.0 L363.6,32.0 L364.0,32.0 L364.5,32.0 L364.9,32.0 L365.3,32.0 L365.8,32.0 L366.2,32.0 L366.6,32.0 L367.1,32.0 L367.5,32.0 L368.0,32.0 L368.4,32.0 L368.8,32.0 L369.3,32.0 L369.7,32.0 L370.1,32.0 L370.6,32.0 L371.0,32.0 L371.5,32.0 L371.9,32.0 L372.3,32.0 L372.8,32.0 L373.2,32.0 L373.6,32.0 L374.1,32.0 L374.5,32.0 L375.0,32.0 L375.4,32.0 L375.8,32.0 L376.3,32.0 L376.7,32.0 L377.1,32.0 L377.6,32.0 L378.0,32.0 L378.5,32.0 L378.9,32.0 L379.3,32.0 L379.8,32.0 L380.2,32.0 L380.6,32.0 L381.1,32.0 L381.5,32.0 L382.0,32.0 L382.4,32.0 L382.8,32.0 L383.3,32.0 L383.7,32.0 L384.1,32.0 L384.6,32.0 L385.0,32.0 L385.5,32.0 L385.9,32.0 L386.3,32.0 L386.8,32.0 L387.2,32.0 L387.6,32.0 L388.1,32.0 L388.5,32.0 L389.0,32.0 L389.4,32.0 L389.8,32.0 L390.3,32.0 L390.7,32.0 L391.1,32.0 L391.6,32.0 L392.0,32.0 L392.5,32.0 L392.9,32.0 L393.3,32.0 L393.8,32.0 L394.2,32.0 L394.6,32.0 L395.1,32.0 L395.5,32.0 L396.0,32.0 L396.4,32.0 L396.8,32.0 L397.3,32.0 L397.7,32.0 L398.1,32.0 L398.6,32.0 L399.0,32.0 L399.5,32.0 L399.9,32.0 L400.3,32.0 L400.8,32.0 L401.2,32.0 L401.6,32.0 L402.1,32.0 L402.5,32.0 L403.0,32.0 L403.4,32.0 L403.8,32.0 L404.3,32.0 L404.7,32.0 L405.1,32.0 L405.6,32.0 L406.0,32.0 L406.5,32.0 L406.9,32.0 L407.3,32.0 L407.8,32.0 L408.2,32.0 L408.6,32.0 L409.1,32.0 L409.5,32.0 L410.0,32.0 L410.4,32.0 L410.8,32.0 L411.3,32.0 L411.7,32.0 L412.1,32.0 L412.6,32.0 L413.0,32.0 L413.5,32.0 L413.9,32.0 L414.3,32.0 L414.8,32.0 L415.2,32.0 L415.6,32.0 L416.1,32.0 L416.5,32.0 L417.0,32.0 L417.4,32.0 L417.8,32.0 L418.3,32.0 L418.7,32.0 L419.1,32.0 L419.6,32.0 L420.0,32.0 L420.5,32.0 L420.9,32.0 L421.3,32.0 L421.8,32.0 L422.2,32.0 L422.6,32.0 L423.1,32.0 L423.5,32.0 L424.0,32.0 L424.4,32.0 L424.8,32.0 L425.3,32.0 L425.7,32.0 L426.1,32.0 L426.6,32.0 L427.0,32.0 L427.5,32.0 L427.9,32.0 L428.3,32.0 L428.8,32.0 L429.2,32.0 L429.6,32.0 L430.1,32.0 L430.5,32.0 L431.0,32.0 L431.4,32.0 L431.8,32.0 L432.3,32.0 L432.7,32.0 L433.1,32.0 L433.6,32.0 L434.0,32.1 L434.5,32.1 L434.9,32.1 L435.3,32.1 L435.8,32.1 L436.2,32.1 L436.6,32.1 L437.1,32.2 L437.5,32.2 L438.0,32.2 L438.4,32.2 L438.8,32.2 L439.3,32.3 L439.7,32.3 L440.1,32.3 L440.6,32.3 L441.0,32.3 L441.5,32.4 L441.9,32.4 L442.3,32.4 L442.8,32.4 L443.2,32.5 L443.6,32.5 L444.1,32.5 L444.5,32.6 L445.0,32.6 L445.4,32.6 L445.8,32.7 L446.3,32.8 L446.7,32.8 L447.1,32.8 L447.6,32.9 L448.0,32.9 L448.5,33.0 L448.9,33.0 L449.3,33.0 L449.8,33.0 L450.2,33.1 L450.6,33.1 L451.1,33.2 L451.5,33.3 L452.0,33.4 L452.4,33.5 L452.8,33.6 L453.3,33.7 L453.7,33.8 L454.1,33.8 L454.6,33.9 L455.0,34.0 L455.5,34.1 L455.9,34.3 L456.3,34.4 L456.8,34.5 L457.2,34.7 L457.6,34.9 L458.1,35.1 L458.5,35.4 L459.0,35.6 L459.4,35.9 L459.8,36.2 L460.3,36.5 L460.7,36.8 L461.1,37.2 L461.6,37.5 L462.0,37.9 L462.5,38.2 L462.9,38.6 L463.3,39.0 L463.8,39.5 L464.2,39.9 L464.6,40.4 L465.1,40.9 L465.5,41.4 L466.0,41.9 L466.4,42.4 L466.8,43.0 L467.3,43.5 L467.7,44.1 L468.1,44.6 L468.6,45.2 L469.0,45.8 L469.5,46.4 L469.9,47.0 L470.3,47.6 L470.8,48.2 L471.2,48.9 L471.6,49.6 L472.1,50.3 L472.5,51.0 L473.0,51.8 L473.4,52.5 L473.8,53.4 L474.3,54.2 L474.7,55.1 L475.1,55.9 L475.6,56.8 L476.0,57.7 L476.5,58.6 L476.9,59.5 L477.3,60.5 L477.8,61.4 L478.2,62.3 L478.6,63.3 L479.1,64.2 L479.5,65.2 L480.0,66.2 L480.4,67.3 L480.8,68.3 L481.3,69.4 L481.7,70.5 L482.1,71.7 L482.6,72.8 L483.0,74.1 L483.5,75.3 L483.9,76.6 L484.3,77.9 L484.8,79.2 L485.2,80.5 L485.6,81.8 L486.1,83.1 L486.5,84.4 L487.0,85.7 L487.4,87.0 L487.8,88.3 L488.3,89.6 L488.7,91.0 L489.1,92.3 L489.6,93.7 L490.0,95.0 L490.5,96.4 L490.9,97.7 L491.3,99.1 L491.8,100.5 L492.2,101.9 L492.6,103.2 L493.1,104.6 L493.5,106.0 L494.0,107.4 L494.4,108.8 L494.8,110.2 L495.3,111.5 L495.7,112.9 L496.1,114.2 L496.6,115.6 L497.0,117.0 L497.5,118.3 L497.9,119.7 L498.3,121.0 L498.8,122.3 L499.2,123.6 L499.6,124.9 L500.1,126.2 L500.5,127.4 L501.0,128.7 L501.4,129.9 L501.8,131.1 L502.3,132.3 L502.7,133.5 L503.1,134.7 L503.6,135.8 L504.0,137.0 L504.5,138.2 L504.9,139.3 L505.3,140.4 L505.8,141.6 L506.2,142.7 L506.6,143.8 L507.1,144.9 L507.5,146.0 L508.0,147.1 L508.4,148.1 L508.8,149.2 L509.3,150.2 L509.7,151.2 L510.1,152.3 L510.6,153.3 L511.0,154.3 L511.5,155.3 L511.9,156.2 L512.3,157.2 L512.8,158.1 L513.2,159.0 L513.6,159.9 L514.1,160.7 L514.5,161.6 L515.0,162.4 L515.4,163.2 L515.8,164.0 L516.3,164.8 L516.7,165.6 L517.1,166.3 L517.6,167.0 L518.0,167.7 L518.5,168.4 L518.9,169.1 L519.3,169.8 L519.8,170.5 L520.2,171.1 L520.6,171.7 L521.1,172.4 L521.5,172.9 L522.0,173.5 L522.4,174.1 L522.8,174.6 L523.3,175.1 L523.7,175.6 L524.1,176.1 L524.6,176.6 L525.0,177.1 L525.5,177.5 L525.9,178.0 L526.3,178.4 L526.8,178.9 L527.2,179.3 L527.6,179.7 L528.1,180.2 L528.5,180.6 L529.0,181.0 L529.4,181.4 L529.8,181.8 L530.3,182.2 L530.7,182.6 L531.1,182.9 L531.6,183.3 L532.0,183.6 L532.5,183.9 L532.9,184.2 L533.3,184.5 L533.8,184.8 L534.2,185.0 L534.6,185.3 L535.1,185.6 L535.5,185.8 L536.0,186.1 L536.4,186.3 L536.8,186.6 L537.3,186.8 L537.7,187.1 L538.1,187.3 L538.6,187.6 L539.0,187.8 L539.5,188.0 L539.9,188.2 L540.3,188.4 L540.8,188.6 L541.2,188.8 L541.6,188.9 L542.1,189.1 L542.5,189.2 L543.0,189.4 L543.4,189.5 L543.8,189.6 L544.3,189.8 L544.7,189.9 L545.1,190.0 L545.6,190.1 L546.0,190.2 L546.5,190.4 L546.9,190.5 L547.3,190.6 L547.8,190.7 L548.2,190.8 L548.6,191.0 L549.1,191.1 L549.5,191.2 L550.0,191.3 L550.4,191.3 L550.8,191.4 L551.3,191.5 L551.7,191.6 L552.1,191.6 L552.6,191.7 L553.0,191.8 L553.5,191.8 L553.9,191.9 L554.3,191.9 L554.8,192.0 L555.2,192.1 L555.6,192.1 L556.1,192.2 L556.5,192.3 L557.0,192.3 L557.4,192.4 L557.8,192.4 L558.3,192.5 L558.7,192.5 L559.1,192.6 L559.6,192.6 L560.0,192.6 L560.5,192.7 L560.9,192.7 L561.3,192.7 L561.8,192.8 L562.2,192.8 L562.6,192.8 L563.1,192.8 L563.5,192.9 L564.0,192.9 L564.4,192.9 L564.8,192.9 L565.3,192.9 L565.7,192.9 L566.1,193.0 L566.6,193.0 L567.0,193.0 L567.5,193.0 L567.9,193.0 L568.3,193.0 L568.8,193.0 L569.2,193.0 L569.6,193.0 L570.1,193.0 L570.5,193.0 L571.0,193.0 L571.4,193.0 L571.8,193.0 L572.3,193.0 L572.7,193.0 L573.1,193.0 L573.6,193.0 L574.0,193.0 L574.5,193.0 L574.9,193.0 L575.3,193.0 L575.8,193.0 L576.2,193.0 L576.6,193.0 L577.1,193.0 L577.5,193.0 L578.0,193.0 L578.4,193.0 L578.8,193.0 L579.3,193.0 L579.7,193.0 L580.1,193.0 L580.6,193.0 L581.0,193.0 L581.5,193.0 L581.9,193.0 L582.3,193.0 L582.8,193.0 L583.2,193.0 L583.6,193.0 L584.1,193.0 L584.5,193.0 L585.0,193.0 L585.4,193.0 L585.8,193.0 L586.3,193.0 L586.7,193.0 L587.1,193.0 L587.6,193.0 L588.0,193.0 L588.5,193.0 L588.9,193.0 L589.3,193.0 L589.8,193.0 L590.2,193.0 L590.6,193.0 L591.1,193.0 L591.5,193.0 L592.0,193.0 L592.4,193.0 L592.8,193.0 L593.3,193.0 L593.7,193.0 L594.1,193.0 L594.6,193.0 L595.0,193.0 L595.5,193.0 L595.9,193.0 L596.3,193.0 L596.8,193.0 L597.2,193.0 L597.6,193.0 L598.1,193.0 L598.5,193.0 L599.0,193.0 L599.4,193.0 L599.8,193.0 L600.3,193.0 L600.7,193.0 L601.1,193.0 L601.6,193.0 L602.0,193.0 L602.5,193.0 L602.9,193.0 L603.3,193.0 L603.8,193.0 L604.2,193.0 L604.6,193.0 L605.1,193.0 L605.5,193.0 L606.0,193.0 L606.4,193.0 L606.8,193.0 L607.3,193.0 L607.7,193.0 L608.1,193.0 L608.6,193.0 L609.0,193.0 L609.5,193.0 L609.9,193.0 L610.3,193.0 L610.8,193.0 L611.2,193.0 L611.6,193.0 L612.1,193.0 L612.5,193.0 L613.0,193.0 L613.4,193.0 L613.8,193.0 L614.3,193.0 L614.7,193.0 L615.1,193.0 L615.6,193.0 L616.0,193.0 L616.5,193.0 L616.9,193.0 L617.3,193.0 L617.8,193.0 L618.2,193.0 L618.6,193.0 L619.1,193.0 L619.5,193.0 L620.0,193.0 L620.4,193.0 L620.8,193.0 L621.3,193.0 L621.7,193.0 L622.1,193.0 L622.6,193.0 L623.0,193.0 L623.5,193.0 L623.9,193.0 L624.3,193.0 L624.8,193.0 L625.2,193.0 L625.6,193.0 L626.1,193.0 L626.5,193.0 L627.0,193.0 L627.4,193.0 L627.8,193.0 L628.3,193.0 L628.7,193.0 L629.1,193.0 L629.6,193.0 L630.0,193.0 L630.5,193.0 L630.9,193.0 L631.3,193.0 L631.8,193.0 L632.2,193.0 L632.6,193.0 L633.1,193.0 L633.5,193.0 L634.0,193.0 L634.4,193.0 L634.8,193.0 L635.3,193.0 L635.7,193.0 L636.1,193.0 L636.6,193.0 L637.0,193.0 L637.5,193.0 L637.9,193.0 L638.3,193.0 L638.8,193.0 L639.2,193.0 L639.6,193.0 L640.1,193.0 L640.5,193.0 L641.0,193.0 L641.4,193.0 L641.8,193.0 L642.3,193.0 L642.7,193.0 L643.1,193.0 L643.6,193.0 L644.0,193.0 L644.5,193.0 L644.9,193.0 L645.3,193.0 L645.8,193.0 L646.2,193.0 L646.6,193.0 L647.1,193.0 L647.5,193.0 L648.0,193.0 L648.4,193.0 L648.8,193.0 L649.3,193.0 L649.7,193.0 L650.1,193.0 L650.6,193.0 L651.0,193.0 L651.5,193.0 L651.9,193.0 L652.3,193.0 L652.8,193.0 L653.2,193.0"/>
<path fill="none" stroke="#ff0000" stroke-width="2.9" d="M347.4,32.0 L347.8,32.0 L348.3,32.0 L348.7,32.0 L349.1,32.0 L349.6,32.0 L350.0,32.0 L350.5,32.0 L350.9,32.0 L351.3,32.0 L351.8,32.0 L352.2,32.0 L352.6,32.0 L353.1,32.0 L353.5,32.0 L354.0,32.0 L354.4,32.0 L354.8,32.0 L355.3,32.0 L355.7,32.0 L356.1,32.0 L356.6,32.0 L357.0,32.0 L357.5,32.0 L357.9,32.0 L358.3,32.0 L358.8,32.0 L359.2,32.0 L359.6,32.0 L360.1,32.0 L360.5,32.0 L361.0,32.0 L361.4,32.0 L361.8,32.0 L362.3,32.0 L362.7,32.0 L363.1,32.0 L363.6,32.0 L364.0,32.0 L364.5,32.0 L364.9,32.0 L365.3,32.0 L365.8,32.0 L366.2,32.0 L366.6,32.0 L367.1,32.0 L367.5,32.0 L368.0,32.0 L368.4,32.0 L368.8,32.0 L369.3,32.0 L369.7,32.0 L370.1,32.0 L370.6,32.0 L371.0,32.0 L371.5,32.0 L371.9,32.0 L372.3,32.0 L372.8,32.0 L373.2,32.0 L373.6,32.0 L374.1,32.0 L374.5,32.0 L375.0,32.0 L375.4,32.0 L375.8,32.0 L376.3,32.0 L376.7,32.0 L377.1,32.0 L377.6,32.0 L378.0,32.0 L378.5,32.0 L378.9,32.0 L379.3,32.0 L379.8,32.0 L380.2,32.0 L380.6,32.0 L381.1,32.0 L381.5,32.0 L382.0,32.0 L382.4,32.0 L382.8,32.0 L383.3,32.0 L383.7,32.0 L384.1,32.0 L384.6,32.0 L385.0,32.0 L385.5,32.0 L385.9,32.0 L386.3,32.0 L386.8,32.0 L387.2,32.0 L387.6,32.0 L388.1,32.0 L388.5,32.0 L389.0,32.0 L389.4,32.0 L389.8,32.0 L390.3,32.0 L390.7,32.0 L391.1,32.0 L391.6,32.0 L392.0,32.0 L392.5,32.0 L392.9,32.0 L393.3,32.0 L393.8,32.0 L394.2,32.0 L394.6,32.0 L395.1,32.0 L395.5,32.0 L396.0,32.0 L396.4,32.0 L396.8,32.0 L397.3,32.0 L397.7,32.0 L398.1,32.0 L398.6,32.0 L399.0,32.0 L399.5,32.0 L399.9,32.0 L400.3,32.0 L400.8,32.0 L401.2,32.0 L401.6,32.0 L402.1,32.0 L402.5,32.0 L403.0,32.0 L403.4,32.0 L403.8,32.0 L404.3,32.0 L404.7,32.0 L405.1,32.0 L405.6,32.0 L406.0,32.0 L406.5,32.0 L406.9,32.0 L407.3,32.0 L407.8,32.0 L408.2,32.0 L408.6,32.0 L409.1,32.0 L409.5,32.0 L410.0,32.0 L410.4,32.0 L410.8,32.0 L411.3,32.0 L411.7,32.0 L412.1,32.0 L412.6,32.0 L413.0,32.0 L413.5,32.0 L413.9,32.0 L414.3,32.0 L414.8,32.0 L415.2,32.0 L415.6,32.0 L416.1,32.0 L416.5,32.0 L417.0,32.0 L417.4,32.0 L417.8,32.0 L418.3,32.0 L418.7,32.0 L419.1,32.0 L419.6,32.0 L420.0,32.0 L420.5,32.0 L420.9,32.0 L421.3,32.0 L421.8,32.0 L422.2,32.0 L422.6,32.0 L423.1,32.0 L423.5,32.0 L424.0,32.0 L424.4,32.0 L424.8,32.0 L425.3,32.0 L425.7,32.0 L426.1,32.0 L426.6,32.0 L427.0,32.0 L427.5,32.0 L427.9,32.0 L428.3,32.0 L428.8,32.0 L429.2,32.0 L429.6,32.0 L430.1,32.0 L430.5,32.0 L431.0,32.0 L431.4,32.0 L431.8,32.0 L432.3,32.0 L432.7,32.0 L433.1,32.0 L433.6,32.0 L434.0,32.1 L434.5,32.1 L434.9,32.1 L435.3,32.1 L435.8,32.1 L436.2,32.1 L436.6,32.1 L437.1,32.2 L437.5,32.2 L438.0,32.2 L438.4,32.2 L438.8,32.2 L439.3,32.3 L439.7,32.3 L440.1,32.3 L440.6,32.3 L441.0,32.3 L441.5,32.4 L441.9,32.4 L442.3,32.4 L442.8,32.4 L443.2,32.5 L443.6,32.5 L444.1,32.5 L444.5,32.6 L445.0,32.6 L445.4,32.6 L445.8,32.7 L446.3,32.8 L446.7,32.8 L447.1,32.9 L447.6,33.0 L448.0,33.1 L448.5,33.2 L448.9,33.3 L449.3,33.4 L449.8,33.5 L450.2,33.6 L450.6,33.7 L451.1,33.9 L451.5,34.0 L452.0,34.2 L452.4,34.3 L452.8,34.5 L453.3,34.7 L453.7,34.8 L454.1,35.0 L454.6,35.2 L455.0,35.3 L455.5,35.5 L455.9,35.7 L456.3,35.9 L456.8,36.1 L457.2,36.3 L457.6,36.5 L458.1,36.7 L458.5,37.0 L459.0,37.2 L459.4,37.5 L459.8,37.8 L460.3,38.1 L460.7,38.4 L461.1,38.7 L461.6,39.0 L462.0,39.4 L462.5,39.8 L462.9,40.1 L463.3,40.5 L463.8,40.9 L464.2,41.4 L464.6,41.8 L465.1,42.3 L465.5,42.8 L466.0,43.3 L466.4,43.8 L466.8,44.3 L467.3,44.9 L467.7,45.4 L468.1,46.0 L468.6,46.5 L469.0,47.1 L469.5,47.7 L469.9,48.2 L470.3,48.9 L470.8,49.5 L471.2,50.1 L471.6,50.8 L472.1,51.5 L472.5,52.2 L473.0,52.9 L473.4,53.7 L473.8,54.5 L474.3,55.3 L474.7,56.1 L475.1,57.0 L475.6,57.8 L476.0,58.7 L476.5,59.6 L476.9,60.5 L477.3,61.4 L477.8,62.3 L478.2,63.2 L478.6,64.1 L479.1,65.1 L479.5,66.1 L480.0,67.0 L480.4,68.0 L480.8,69.1 L481.3,70.1 L481.7,71.2 L482.1,72.3 L482.6,73.5 L483.0,74.7 L483.5,75.9 L483.9,77.2 L484.3,78.4 L484.8,79.7 L485.2,81.0 L485.6,82.3 L486.1,83.5 L486.5,84.8 L487.0,86.1 L487.4,87.4 L487.8,88.7 L488.3,90.0 L488.7,91.3 L489.1,92.7 L489.6,94.0 L490.0,95.3 L490.5,96.7 L490.9,98.0 L491.3,99.3 L491.8,100.7 L492.2,102.1 L492.6,103.4 L493.1,104.8 L493.5,106.2 L494.0,107.5 L494.4,108.9 L494.8,110.3 L495.3,111.6 L495.7,113.0 L496.1,114.3 L496.6,115.6 L497.0,117.0 L497.5,118.3 L497.9,119.7 L498.3,121.0 L498.8,122.3 L499.2,123.6 L499.6,124.9 L500.1,126.1 L500.5,127.3 L501.0,128.6 L501.4,129.8 L501.8,131.0 L502.3,132.2 L502.7,133.3 L503.1,134.5 L503.6,135.7 L504.0,136.8 L504.5,137.9 L504.9,139.1 L505.3,140.2 L505.8,141.3 L506.2,142.4 L506.6,143.5 L507.1,144.6 L507.5,145.7 L508.0,146.8 L508.4,147.8 L508.8,148.8 L509.3,149.9 L509.7,150.9 L510.1,151.9 L510.6,152.9 L511.0,153.9 L511.5,154.9 L511.9,155.8 L512.3,156.8 L512.8,157.7 L513.2,158.6 L513.6,159.5 L514.1,160.3 L514.5,161.2 L515.0,162.0 L515.4,162.8 L515.8,163.6 L516.3,164.4 L516.7,165.2 L517.1,165.9 L517.6,166.6 L518.0,167.4 L518.5,168.1 L518.9,168.7 L519.3,169.4 L519.8,170.1 L520.2,170.7 L520.6,171.4 L521.1,172.0 L521.5,172.6 L522.0,173.2 L522.4,173.7 L522.8,174.3 L523.3,174.8 L523.7,175.3 L524.1,175.8 L524.6,176.3 L525.0,176.8 L525.5,177.2 L525.9,177.7 L526.3,178.1 L526.8,178.6 L527.2,179.0 L527.6,179.4 L528.1,179.9 L528.5,180.3 L529.0,180.7 L529.4,181.1 L529.8,181.5 L530.3,181.9 L530.7,182.3 L531.1,182.7 L531.6,183.0 L532.0,183.3 L532.5,183.7 L532.9,184.0 L533.3,184.3 L533.8,184.5 L534.2,184.8 L534.6,185.1 L535.1,185.4 L535.5,185.6 L536.0,185.9 L536.4,186.2 L536.8,186.4 L537.3,186.7 L537.7,186.9 L538.1,187.2 L538.6,187.4 L539.0,187.7 L539.5,187.9 L539.9,188.1 L540.3,188.3 L540.8,188.5 L541.2,188.7 L541.6,188.8 L542.1,189.0 L542.5,189.1 L543.0,189.3 L543.4,189.4 L543.8,189.6 L544.3,189.7 L544.7,189.8 L545.1,190.0 L545.6,190.1 L546.0,190.2 L546.5,190.3 L546.9,190.5 L547.3,190.6 L547.8,190.7 L548.2,190.8 L548.6,191.0 L549.1,191.1 L549.5,191.2 L550.0,191.3 L550.4,191.3 L550.8,191.4 L551.3,191.5 L551.7,191.6 L552.1,191.6 L552.6,191.7 L553.0,191.8 L553.5,191.8 L553.9,191.9 L554.3,191.9 L554.8,192.0 L555.2,192.1 L555.6,192.1 L556.1,192.2 L556.5,192.3 L557.0,192.3 L557.4,192.4 L557.8,192.4 L558.3,192.5 L558.7,192.5 L559.1,192.6 L559.6,192.6 L560.0,192.6 L560.5,192.7 L560.9,192.7 L561.3,192.7 L561.8,192.8 L562.2,192.8 L562.6,192.8 L563.1,192.8 L563.5,192.9 L564.0,192.9 L564.4,192.9 L564.8,192.9 L565.3,192.9 L565.7,192.9 L566.1,193.0 L566.6,193.0 L567.0,193.0 L567.5,193.0 L567.9,193.0 L568.3,193.0 L568.8,193.0 L569.2,193.0 L569.6,193.0 L570.1,193.0 L570.5,193.0 L571.0,193.0 L571.4,193.0 L571.8,193.0 L572.3,193.0 L572.7,193.0 L573.1,193.0 L573.6,193.0 L574.0,193.0 L574.5,193.0 L574.9,193.0 L575.3,193.0 L575.8,193.0 L576.2,193.0 L576.6,193.0 L577.1,193.0 L577.5,193.0 L578.0,193.0 L578.4,193.0 L578.8,193.0 L579.3,193.0 L579.7,193.0 L580.1,193.0 L580.6,193.0 L581.0,193.0 L581.5,193.0 L581.9,193.0 L582.3,193.0 L582.8,193.0 L583.2,193.0 L583.6,193.0 L584.1,193.0 L584.5,193.0 L585.0,193.0 L585.4,193.0 L585.8,193.0 L586.3,193.0 L586.7,193.0 L587.1,193.0 L587.6,193.0 L588.0,193.0 L588.5,193.0 L588.9,193.0 L589.3,193.0 L589.8,193.0 L590.2,193.0 L590.6,193.0 L591.1,193.0 L591.5,193.0 L592.0,193.0 L592.4,193.0 L592.8,193.0 L593.3,193.0 L593.7,193.0 L594.1,193.0 L594.6,193.0 L595.0,193.0 L595.5,193.0 L595.9,193.0 L596.3,193.0 L596.8,193.0 L597.2,193.0 L597.6,193.0 L598.1,193.0 L598.5,193.0 L599.0,193.0 L599.4,193.0 L599.8,193.0 L600.3,193.0 L600.7,193.0 L601.1,193.0 L601.6,193.0 L602.0,193.0 L602.5,193.0 L602.9,193.0 L603.3,193.0 L603.8,193.0 L604.2,193.0 L604.6,193.0 L605.1,193.0 L605.5,193.0 L606.0,193.0 L606.4,193.0 L606.8,193.0 L607.3,193.0 L607.7,193.0 L608.1,193.0 L608.6,193.0 L609.0,193.0 L609.5,193.0 L609.9,193.0 L610.3,193.0 L610.8,193.0 L611.2,193.0 L611.6,193.0 L612.1,193.0 L612.5,193.0 L613.0,193.0 L613.4,193.0 L613.8,193.0 L614.3,193.0 L614.7,193.0 L615.1,193.0 L615.6,193.0 L616.0,193.0 L616.5,193.0 L616.9,193.0 L617.3,193.0 L617.8,193.0 L618.2,193.0 L618.6,193.0 L619.1,193.0 L619.5,193.0 L620.0,193.0 L620.4,193.0 L620.8,193.0 L621.3,193.0 L621.7,193.0 L622.1,193.0 L622.6,193.0 L623.0,193.0 L623.5,193.0 L623.9,193.0 L624.3,193.0 L624.8,193.0 L625.2,193.0 L625.6,193.0 L626.1,193.0 L626.5,193.0 L627.0,193.0 L627.4,193.0 L627.8,193.0 L628.3,193.0 L628.7,193.0 L629.1,193.0 L629.6,193.0 L630.0,193.0 L630.5,193.0 L630.9,193.0 L631.3,193.0 L631.8,193.0 L632.2,193.0 L632.6,193.0 L633.1,193.0 L633.5,193.0 L634.0,193.0 L634.4,193.0 L634.8,193.0 L635.3,193.0 L635.7,193.0 L636.1,193.0 L636.6,193.0 L637.0,193.0 L637.5,193.0 L637.9,193.0 L638.3,193.0 L638.8,193.0 L639.2,193.0 L639.6,193.0 L640.1,193.0 L640.5,193.0 L641.0,193.0 L641.4,193.0 L641.8,193.0 L642.3,193.0 L642.7,193.0 L643.1,193.0 L643.6,193.0 L644.0,193.0 L644.5,193.0 L644.9,193.0 L645.3,193.0 L645.8,193.0 L646.2,193.0 L646.6,193.0 L647.1,193.0 L647.5,193.0 L648.0,193.0 L648.4,193.0 L648.8,193.0 L649.3,193.0 L649.7,193.0 L650.1,193.0 L650.6,193.0 L651.0,193.0 L651.5,193.0 L651.9,193.0 L652.3,193.0 L652.8,193.0 L653.2,193.0"/>
</g>
<g fill="none" stroke="#000" stroke-width="1.1">
<circle cx="349.2" cy="32.0" r="2.3"/>
<circle cx="353.7" cy="32.0" r="2.3"/>
<circle cx="358.3" cy="32.0" r="2.3"/>
<circle cx="362.9" cy="32.0" r="2.3"/>
<circle cx="367.4" cy="32.0" r="2.3"/>
<circle cx="372.0" cy="32.0" r="2.3"/>
<circle cx="376.6" cy="32.0" r="2.3"/>
<circle cx="381.1" cy="32.0" r="2.3"/>
<circle cx="385.7" cy="32.0" r="2.3"/>
<circle cx="390.3" cy="32.0" r="2.3"/>
<circle cx="394.8" cy="32.0" r="2.3"/>
<circle cx="399.4" cy="32.0" r="2.3"/>
<circle cx="404.0" cy="32.0" r="2.3"/>
<circle cx="408.5" cy="32.0" r="2.3"/>
<circle cx="413.1" cy="32.0" r="2.3"/>
<circle cx="417.6" cy="32.0" r="2.3"/>
<circle cx="422.2" cy="32.0" r="2.3"/>
<circle cx="426.8" cy="32.0" r="2.3"/>
<circle cx="431.3" cy="32.0" r="2.3"/>
<circle cx="435.9" cy="32.1" r="2.3"/>
<circle cx="440.5" cy="32.3" r="2.3"/>
<circle cx="445.0" cy="32.6" r="2.3"/>
<circle cx="449.6" cy="33.4" r="2.3"/>
<circle cx="454.2" cy="35.0" r="2.3"/>
<circle cx="458.7" cy="37.1" r="2.3"/>
<circle cx="463.3" cy="40.5" r="2.3"/>
<circle cx="467.8" cy="45.6" r="2.3"/>
<circle cx="472.4" cy="52.0" r="2.3"/>
<circle cx="477.0" cy="60.7" r="2.3"/>
<circle cx="481.5" cy="70.8" r="2.3"/>
<circle cx="486.1" cy="83.6" r="2.3"/>
<circle cx="490.7" cy="97.3" r="2.3"/>
<circle cx="495.2" cy="111.5" r="2.3"/>
<circle cx="499.8" cy="125.3" r="2.3"/>
<circle cx="504.4" cy="137.7" r="2.3"/>
<circle cx="508.9" cy="149.1" r="2.3"/>
<circle cx="513.5" cy="159.2" r="2.3"/>
<circle cx="518.1" cy="167.4" r="2.3"/>
<circle cx="522.6" cy="174.0" r="2.3"/>
<circle cx="527.2" cy="179.0" r="2.3"/>
<circle cx="531.7" cy="183.1" r="2.3"/>
<circle cx="536.3" cy="186.1" r="2.3"/>
<circle cx="540.9" cy="188.5" r="2.3"/>
<circle cx="545.4" cy="190.1" r="2.3"/>
<circle cx="550.0" cy="191.3" r="2.3"/>
<circle cx="554.6" cy="192.0" r="2.3"/>
<circle cx="559.1" cy="192.6" r="2.3"/>
<circle cx="563.7" cy="192.9" r="2.3"/>
<circle cx="568.3" cy="193.0" r="2.3"/>
<circle cx="572.8" cy="193.0" r="2.3"/>
<circle cx="577.4" cy="193.0" r="2.3"/>
<circle cx="582.0" cy="193.0" r="2.3"/>
<circle cx="586.5" cy="193.0" r="2.3"/>
<circle cx="591.1" cy="193.0" r="2.3"/>
<circle cx="595.6" cy="193.0" r="2.3"/>
<circle cx="600.2" cy="193.0" r="2.3"/>
<circle cx="604.8" cy="193.0" r="2.3"/>
<circle cx="609.3" cy="193.0" r="2.3"/>
<circle cx="613.9" cy="193.0" r="2.3"/>
<circle cx="618.5" cy="193.0" r="2.3"/>
<circle cx="623.0" cy="193.0" r="2.3"/>
<circle cx="627.6" cy="193.0" r="2.3"/>
<circle cx="632.2" cy="193.0" r="2.3"/>
<circle cx="636.7" cy="193.0" r="2.3"/>
<circle cx="641.3" cy="193.0" r="2.3"/>
<circle cx="645.9" cy="193.0" r="2.3"/>
<circle cx="650.4" cy="193.0" r="2.3"/>
</g>
<g clip-path="url(#cBL)">
<path fill="none" stroke="#000000" stroke-width="2.95" stroke-dasharray="9.75 2.65 1.9 2.5" d="M41.3,354.3 L41.7,354.3 L42.2,354.3 L42.6,354.3 L43.1,354.3 L43.5,354.3 L43.9,354.3 L44.4,354.3 L44.8,354.3 L45.2,354.3 L45.7,354.3 L46.1,354.3 L46.6,354.3 L47.0,354.3 L47.4,354.3 L47.9,354.3 L48.3,354.3 L48.7,354.3 L49.2,354.3 L49.6,354.3 L50.1,354.3 L50.5,354.3 L50.9,354.3 L51.4,354.3 L51.8,354.3 L52.2,354.3 L52.7,354.3 L53.1,354.3 L53.6,354.3 L54.0,354.3 L54.4,354.3 L54.9,354.3 L55.3,354.3 L55.8,354.3 L56.2,354.3 L56.6,354.3 L57.1,354.3 L57.5,354.3 L57.9,354.3 L58.4,354.3 L58.8,354.3 L59.3,354.3 L59.7,354.3 L60.1,354.3 L60.6,354.3 L61.0,354.3 L61.4,354.3 L61.9,354.3 L62.3,354.3 L62.8,354.3 L63.2,354.3 L63.6,354.3 L64.1,354.3 L64.5,354.3 L64.9,354.3 L65.4,354.3 L65.8,354.3 L66.3,354.3 L66.7,354.3 L67.1,354.3 L67.6,354.3 L68.0,354.3 L68.5,354.3 L68.9,354.3 L69.3,354.3 L69.8,354.3 L70.2,354.3 L70.6,354.3 L71.1,354.3 L71.5,354.3 L72.0,354.3 L72.4,354.3 L72.8,354.3 L73.3,354.2 L73.7,354.2 L74.1,354.2 L74.6,354.2 L75.0,354.2 L75.5,354.2 L75.9,354.1 L76.3,354.1 L76.8,354.1 L77.2,354.0 L77.6,354.0 L78.1,354.0 L78.5,353.9 L79.0,353.9 L79.4,353.9 L79.8,353.8 L80.3,353.8 L80.7,353.7 L81.1,353.5 L81.6,353.4 L82.0,353.2 L82.5,353.0 L82.9,352.7 L83.3,352.4 L83.8,352.1 L84.2,351.9 L84.7,351.5 L85.1,351.2 L85.5,350.9 L86.0,350.5 L86.4,350.0 L86.8,349.5 L87.3,348.9 L87.7,348.3 L88.2,347.7 L88.6,347.1 L89.0,346.4 L89.5,345.8 L89.9,345.1 L90.3,344.5 L90.8,343.8 L91.2,343.2 L91.7,342.6 L92.1,342.0 L92.5,341.3 L93.0,340.6 L93.4,339.9 L93.8,339.2 L94.3,338.4 L94.7,337.7 L95.2,337.0 L95.6,336.3 L96.0,335.5 L96.5,334.8 L96.9,334.1 L97.4,333.4 L97.8,332.7 L98.2,332.0 L98.7,331.3 L99.1,330.7 L99.5,330.1 L100.0,329.5 L100.4,329.0 L100.9,328.5 L101.3,328.0 L101.7,327.6 L102.2,327.1 L102.6,326.7 L103.0,326.2 L103.5,325.8 L103.9,325.5 L104.4,325.1 L104.8,324.8 L105.2,324.5 L105.7,324.2 L106.1,324.1 L106.5,323.9 L107.0,323.7 L107.4,323.5 L107.9,323.4 L108.3,323.2 L108.7,323.1 L109.2,323.0 L109.6,322.9 L110.1,322.9 L110.5,322.9 L110.9,322.9 L111.4,323.0 L111.8,323.1 L112.2,323.2 L112.7,323.4 L113.1,323.5 L113.6,323.7 L114.0,323.9 L114.4,324.1 L114.9,324.3 L115.3,324.5 L115.7,324.8 L116.2,325.1 L116.6,325.4 L117.1,325.8 L117.5,326.2 L117.9,326.6 L118.4,327.1 L118.8,327.5 L119.2,328.1 L119.7,328.7 L120.1,329.4 L120.6,330.3 L121.0,331.2 L121.4,332.2 L121.9,333.3 L122.3,334.5 L122.8,335.7 L123.2,336.9 L123.6,338.1 L124.1,339.3 L124.5,340.5 L124.9,341.7 L125.4,342.9 L125.8,343.9 L126.3,345.0 L126.7,346.0 L127.1,347.0 L127.6,348.1 L128.0,349.1 L128.4,350.2 L128.9,351.3 L129.3,352.4 L129.8,353.6 L130.2,354.9 L130.6,356.2 L131.1,357.6 L131.5,359.0 L131.9,360.6 L132.4,362.1 L132.8,363.7 L133.3,365.3 L133.7,366.9 L134.1,368.6 L134.6,370.2 L135.0,371.8 L135.5,373.4 L135.9,375.0 L136.3,376.5 L136.8,378.0 L137.2,379.4 L137.6,380.9 L138.1,382.3 L138.5,383.8 L139.0,385.2 L139.4,386.7 L139.8,388.1 L140.3,389.6 L140.7,391.0 L141.1,392.4 L141.6,393.8 L142.0,395.1 L142.5,396.4 L142.9,397.6 L143.3,398.7 L143.8,399.8 L144.2,400.8 L144.6,401.8 L145.1,402.7 L145.5,403.5 L146.0,404.3 L146.4,405.0 L146.8,405.7 L147.3,406.4 L147.7,407.1 L148.2,407.7 L148.6,408.3 L149.0,408.9 L149.5,409.4 L149.9,410.0 L150.3,410.5 L150.8,411.1 L151.2,411.6 L151.7,412.1 L152.1,412.6 L152.5,413.0 L153.0,413.5 L153.4,413.8 L153.8,414.2 L154.3,414.5 L154.7,414.8 L155.2,415.1 L155.6,415.4 L156.0,415.6 L156.5,415.9 L156.9,416.1 L157.3,416.3 L157.8,416.4 L158.2,416.5 L158.7,416.6 L159.1,416.6 L159.5,416.6 L160.0,416.5 L160.4,416.4 L160.8,416.3 L161.3,416.2 L161.7,416.0 L162.2,415.9 L162.6,415.7 L163.0,415.5 L163.5,415.3 L163.9,415.1 L164.4,414.9 L164.8,414.6 L165.2,414.1 L165.7,413.7 L166.1,413.2 L166.5,412.6 L167.0,412.0 L167.4,411.4 L167.9,410.8 L168.3,410.2 L168.7,409.5 L169.2,408.9 L169.6,408.3 L170.0,407.7 L170.5,407.1 L170.9,406.4 L171.4,405.7 L171.8,405.1 L172.2,404.4 L172.7,403.7 L173.1,402.9 L173.5,402.2 L174.0,401.5 L174.4,400.7 L174.9,400.0 L175.3,399.2 L175.7,398.5 L176.2,397.7 L176.6,397.0 L177.1,396.3 L177.5,395.5 L177.9,394.8 L178.4,394.0 L178.8,393.3 L179.2,392.6 L179.7,391.8 L180.1,391.1 L180.6,390.3 L181.0,389.6 L181.4,388.8 L181.9,388.1 L182.3,387.3 L182.7,386.5 L183.2,385.8 L183.6,385.0 L184.1,384.2 L184.5,383.4 L184.9,382.6 L185.4,381.8 L185.8,381.1 L186.2,380.3 L186.7,379.5 L187.1,378.7 L187.6,377.9 L188.0,377.1 L188.4,376.3 L188.9,375.4 L189.3,374.6 L189.8,373.8 L190.2,373.0 L190.6,372.1 L191.1,371.3 L191.5,370.4 L191.9,369.5 L192.4,368.6 L192.8,367.7 L193.3,366.9 L193.7,366.0 L194.1,365.0 L194.6,364.1 L195.0,363.2 L195.4,362.3 L195.9,361.3 L196.3,360.3 L196.8,359.3 L197.2,358.3 L197.6,357.3 L198.1,356.3 L198.5,355.2 L198.9,354.1 L199.4,352.9 L199.8,351.7 L200.3,350.5 L200.7,349.3 L201.1,348.1 L201.6,346.9 L202.0,345.6 L202.5,344.4 L202.9,343.2 L203.3,342.0 L203.8,340.8 L204.2,339.5 L204.6,338.3 L205.1,337.1 L205.5,335.8 L206.0,334.6 L206.4,333.4 L206.8,332.2 L207.3,331.0 L207.7,329.8 L208.1,328.6 L208.6,327.4 L209.0,326.2 L209.5,325.0 L209.9,323.8 L210.3,322.6 L210.8,321.4 L211.2,320.2 L211.6,319.0 L212.1,317.8 L212.5,316.6 L213.0,315.4 L213.4,314.1 L213.8,312.9 L214.3,311.7 L214.7,310.6 L215.2,309.4 L215.6,308.2 L216.0,307.1 L216.5,305.9 L216.9,304.7 L217.3,303.6 L217.8,302.4 L218.2,301.3 L218.7,300.2 L219.1,299.2 L219.5,298.1 L220.0,297.2 L220.4,296.2 L220.8,295.2 L221.3,294.3 L221.7,293.3 L222.2,292.4 L222.6,291.5 L223.0,290.6 L223.5,289.7 L223.9,288.9 L224.3,288.1 L224.8,287.3 L225.2,286.5 L225.7,285.8 L226.1,285.1 L226.5,284.5 L227.0,283.9 L227.4,283.3 L227.9,282.7 L228.3,282.1 L228.7,281.5 L229.2,281.0 L229.6,280.4 L230.0,279.9 L230.5,279.4 L230.9,278.9 L231.4,278.4 L231.8,278.0 L232.2,277.6 L232.7,277.2 L233.1,276.8 L233.5,276.5 L234.0,276.2 L234.4,276.0 L234.9,275.8 L235.3,275.6 L235.7,275.4 L236.2,275.2 L236.6,275.0 L237.0,274.8 L237.5,274.6 L237.9,274.4 L238.4,274.3 L238.8,274.2 L239.2,274.1 L239.7,274.0 L240.1,273.9 L240.5,273.9 L241.0,273.9 L241.4,273.9 L241.9,274.0 L242.3,274.1 L242.7,274.3 L243.2,274.4 L243.6,274.6 L244.1,274.8 L244.5,275.1 L244.9,275.3 L245.4,275.6 L245.8,275.9 L246.2,276.2 L246.7,276.6 L247.1,276.9 L247.6,277.2 L248.0,277.6 L248.4,278.1 L248.9,278.7 L249.3,279.4 L249.7,280.1 L250.2,280.9 L250.6,281.7 L251.1,282.5 L251.5,283.4 L251.9,284.3 L252.4,285.3 L252.8,286.2 L253.2,287.3 L253.7,288.5 L254.1,289.7 L254.6,291.0 L255.0,292.4 L255.4,293.8 L255.9,295.3 L256.3,296.9 L256.8,298.5 L257.2,300.4 L257.6,302.4 L258.1,304.5 L258.5,306.6 L258.9,308.8 L259.4,311.0 L259.8,313.3 L260.3,315.7 L260.7,318.1 L261.1,320.6 L261.6,323.1 L262.0,325.6 L262.4,328.1 L262.9,330.5 L263.3,332.9 L263.8,335.2 L264.2,337.4 L264.6,339.6 L265.1,341.8 L265.5,344.0 L265.9,346.3 L266.4,348.5 L266.8,350.8 L267.3,353.2 L267.7,355.6 L268.1,358.1 L268.6,360.7 L269.0,363.1 L269.5,365.5 L269.9,367.9 L270.3,370.3 L270.8,372.7 L271.2,375.0 L271.6,377.3 L272.1,379.5 L272.5,381.5 L273.0,383.4 L273.4,385.1 L273.8,386.8 L274.3,388.4 L274.7,389.9 L275.1,391.4 L275.6,392.9 L276.0,394.2 L276.5,395.5 L276.9,396.7 L277.3,397.8 L277.8,398.8 L278.2,399.8 L278.6,400.6 L279.1,401.3 L279.5,402.0 L280.0,402.6 L280.4,403.2 L280.8,403.7 L281.3,404.2 L281.7,404.7 L282.2,405.0 L282.6,405.4 L283.0,405.8 L283.5,406.1 L283.9,406.4 L284.3,406.7 L284.8,406.9 L285.2,407.1 L285.7,407.2 L286.1,407.2 L286.5,407.1 L287.0,407.0 L287.4,406.8 L287.8,406.6 L288.3,406.4 L288.7,406.1 L289.2,405.8 L289.6,405.5 L290.0,405.1 L290.5,404.8 L290.9,404.3 L291.3,403.8 L291.8,403.2 L292.2,402.6 L292.7,401.9 L293.1,401.2 L293.5,400.4 L294.0,399.7 L294.4,398.9 L294.9,398.1 L295.3,397.2 L295.7,396.3 L296.2,395.3 L296.6,394.3 L297.0,393.3 L297.5,392.2 L297.9,391.2 L298.4,390.2 L298.8,389.2 L299.2,388.2 L299.7,387.2 L300.1,386.1 L300.5,385.1 L301.0,384.0 L301.4,383.0 L301.9,381.9 L302.3,380.8 L302.7,379.8 L303.2,378.7 L303.6,377.5 L304.0,376.3 L304.5,375.2 L304.9,374.0 L305.4,373.0 L305.8,371.9 L306.2,371.0 L306.7,370.0 L307.1,369.1 L307.6,368.1 L308.0,367.3 L308.4,366.5 L308.9,365.7 L309.3,365.1 L309.7,364.5 L310.2,364.0 L310.6,363.5 L311.1,363.0 L311.5,362.6 L311.9,362.2 L312.4,361.8 L312.8,361.4 L313.2,361.0 L313.7,360.7 L314.1,360.3 L314.6,360.0 L315.0,359.7 L315.4,359.3 L315.9,359.0 L316.3,358.7 L316.7,358.5 L317.2,358.2 L317.6,357.9 L318.1,357.7 L318.5,357.4 L318.9,357.2 L319.4,357.0 L319.8,356.8 L320.2,356.6 L320.7,356.4 L321.1,356.2 L321.6,356.0 L322.0,355.8 L322.4,355.7 L322.9,355.5 L323.3,355.4 L323.8,355.3 L324.2,355.2 L324.6,355.1 L325.1,355.0 L325.5,354.9 L325.9,354.8 L326.4,354.8 L326.8,354.7 L327.3,354.6 L327.7,354.6 L328.1,354.5 L328.6,354.5 L329.0,354.5 L329.4,354.4 L329.9,354.4 L330.3,354.4 L330.8,354.4 L331.2,354.4 L331.6,354.3 L332.1,354.3 L332.5,354.3 L332.9,354.3 L333.4,354.3 L333.8,354.3 L334.3,354.3 L334.7,354.3 L335.1,354.3 L335.6,354.3 L336.0,354.3 L336.5,354.3 L336.9,354.3 L337.3,354.3 L337.8,354.3 L338.2,354.3 L338.6,354.3 L339.1,354.3 L339.5,354.3 L340.0,354.3 L340.4,354.3 L340.8,354.3 L341.3,354.3 L341.7,354.3 L342.1,354.3 L342.6,354.3 L343.0,354.3 L343.5,354.3 L343.9,354.3 L344.3,354.3 L344.8,354.3 L345.2,354.3 L345.6,354.3 L346.1,354.3 L346.5,354.3 L347.0,354.3 L347.4,354.3"/>
<path fill="none" stroke="#006400" stroke-width="2.6" stroke-dasharray="8.9 2.6" stroke-dashoffset="3.4" d="M41.3,354.3 L347.4,354.3"/>
<path fill="none" stroke="#0000ff" stroke-width="2.8" stroke-dasharray="1.85 1.9" d="M41.3,354.3 L41.7,354.3 L42.2,354.3 L42.6,354.3 L43.1,354.3 L43.5,354.3 L43.9,354.3 L44.4,354.3 L44.8,354.3 L45.2,354.3 L45.7,354.3 L46.1,354.3 L46.6,354.3 L47.0,354.3 L47.4,354.3 L47.9,354.3 L48.3,354.3 L48.7,354.3 L49.2,354.3 L49.6,354.3 L50.1,354.3 L50.5,354.3 L50.9,354.3 L51.4,354.3 L51.8,354.3 L52.2,354.3 L52.7,354.3 L53.1,354.3 L53.6,354.3 L54.0,354.3 L54.4,354.3 L54.9,354.3 L55.3,354.3 L55.8,354.3 L56.2,354.3 L56.6,354.3 L57.1,354.3 L57.5,354.3 L57.9,354.3 L58.4,354.3 L58.8,354.3 L59.3,354.3 L59.7,354.3 L60.1,354.3 L60.6,354.3 L61.0,354.3 L61.4,354.3 L61.9,354.3 L62.3,354.3 L62.8,354.3 L63.2,354.3 L63.6,354.3 L64.1,354.3 L64.5,354.3 L64.9,354.3 L65.4,354.3 L65.8,354.3 L66.3,354.3 L66.7,354.3 L67.1,354.3 L67.6,354.3 L68.0,354.3 L68.5,354.3 L68.9,354.3 L69.3,354.3 L69.8,354.3 L70.2,354.3 L70.6,354.2 L71.1,354.2 L71.5,354.2 L72.0,354.2 L72.4,354.1 L72.8,354.1 L73.3,354.0 L73.7,354.0 L74.1,354.0 L74.6,353.9 L75.0,353.9 L75.5,353.8 L75.9,353.8 L76.3,353.7 L76.8,353.7 L77.2,353.6 L77.6,353.5 L78.1,353.5 L78.5,353.4 L79.0,353.3 L79.4,353.2 L79.8,353.1 L80.3,353.0 L80.7,352.8 L81.1,352.7 L81.6,352.5 L82.0,352.3 L82.5,352.1 L82.9,351.9 L83.3,351.7 L83.8,351.4 L84.2,351.2 L84.7,350.9 L85.1,350.7 L85.5,350.4 L86.0,350.2 L86.4,349.9 L86.8,349.6 L87.3,349.3 L87.7,349.1 L88.2,348.8 L88.6,348.5 L89.0,348.2 L89.5,347.9 L89.9,347.5 L90.3,347.2 L90.8,346.8 L91.2,346.3 L91.7,345.9 L92.1,345.5 L92.5,345.0 L93.0,344.5 L93.4,344.1 L93.8,343.6 L94.3,343.1 L94.7,342.6 L95.2,342.1 L95.6,341.6 L96.0,341.1 L96.5,340.6 L96.9,340.1 L97.4,339.7 L97.8,339.2 L98.2,338.8 L98.7,338.3 L99.1,337.9 L99.5,337.5 L100.0,337.0 L100.4,336.6 L100.9,336.1 L101.3,335.7 L101.7,335.2 L102.2,334.8 L102.6,334.3 L103.0,333.9 L103.5,333.5 L103.9,333.2 L104.4,332.8 L104.8,332.5 L105.2,332.2 L105.7,332.0 L106.1,331.8 L106.5,331.6 L107.0,331.4 L107.4,331.2 L107.9,331.0 L108.3,330.8 L108.7,330.7 L109.2,330.5 L109.6,330.4 L110.1,330.3 L110.5,330.2 L110.9,330.1 L111.4,330.1 L111.8,330.1 L112.2,330.1 L112.7,330.2 L113.1,330.3 L113.6,330.4 L114.0,330.5 L114.4,330.7 L114.9,330.8 L115.3,331.0 L115.7,331.2 L116.2,331.4 L116.6,331.6 L117.1,331.8 L117.5,332.1 L117.9,332.4 L118.4,332.8 L118.8,333.2 L119.2,333.7 L119.7,334.2 L120.1,334.7 L120.6,335.3 L121.0,335.9 L121.4,336.5 L121.9,337.1 L122.3,337.8 L122.8,338.5 L123.2,339.2 L123.6,340.0 L124.1,340.9 L124.5,341.8 L124.9,342.7 L125.4,343.6 L125.8,344.6 L126.3,345.6 L126.7,346.6 L127.1,347.6 L127.6,348.7 L128.0,349.7 L128.4,350.7 L128.9,351.8 L129.3,352.8 L129.8,353.8 L130.2,354.7 L130.6,355.7 L131.1,356.8 L131.5,357.8 L131.9,358.9 L132.4,360.0 L132.8,361.1 L133.3,362.1 L133.7,363.2 L134.1,364.3 L134.6,365.4 L135.0,366.5 L135.5,367.6 L135.9,368.6 L136.3,369.6 L136.8,370.6 L137.2,371.6 L137.6,372.5 L138.1,373.4 L138.5,374.2 L139.0,375.0 L139.4,375.9 L139.8,376.7 L140.3,377.5 L140.7,378.3 L141.1,379.1 L141.6,379.9 L142.0,380.7 L142.5,381.4 L142.9,382.1 L143.3,382.9 L143.8,383.6 L144.2,384.2 L144.6,384.9 L145.1,385.5 L145.5,386.1 L146.0,386.6 L146.4,387.1 L146.8,387.6 L147.3,388.1 L147.7,388.5 L148.2,388.9 L148.6,389.4 L149.0,389.8 L149.5,390.2 L149.9,390.7 L150.3,391.1 L150.8,391.5 L151.2,391.9 L151.7,392.2 L152.1,392.6 L152.5,392.9 L153.0,393.2 L153.4,393.5 L153.8,393.7 L154.3,393.9 L154.7,394.0 L155.2,394.1 L155.6,394.2 L156.0,394.2 L156.5,394.2 L156.9,394.1 L157.3,394.1 L157.8,394.0 L158.2,393.9 L158.7,393.9 L159.1,393.8 L159.5,393.6 L160.0,393.5 L160.4,393.4 L160.8,393.3 L161.3,393.1 L161.7,393.0 L162.2,392.9 L162.6,392.7 L163.0,392.6 L163.5,392.4 L163.9,392.2 L164.4,391.9 L164.8,391.7 L165.2,391.5 L165.7,391.2 L166.1,390.9 L166.5,390.7 L167.0,390.4 L167.4,390.1 L167.9,389.8 L168.3,389.5 L168.7,389.3 L169.2,389.0 L169.6,388.7 L170.0,388.4 L170.5,388.1 L170.9,387.8 L171.4,387.5 L171.8,387.2 L172.2,386.9 L172.7,386.6 L173.1,386.3 L173.5,386.0 L174.0,385.6 L174.4,385.3 L174.9,385.0 L175.3,384.6 L175.7,384.3 L176.2,383.9 L176.6,383.5 L177.1,383.2 L177.5,382.8 L177.9,382.4 L178.4,382.0 L178.8,381.6 L179.2,381.2 L179.7,380.8 L180.1,380.4 L180.6,379.9 L181.0,379.5 L181.4,379.0 L181.9,378.6 L182.3,378.1 L182.7,377.6 L183.2,377.2 L183.6,376.7 L184.1,376.3 L184.5,375.8 L184.9,375.4 L185.4,374.9 L185.8,374.5 L186.2,374.1 L186.7,373.6 L187.1,373.2 L187.6,372.8 L188.0,372.4 L188.4,372.0 L188.9,371.5 L189.3,371.1 L189.8,370.7 L190.2,370.2 L190.6,369.8 L191.1,369.3 L191.5,368.8 L191.9,368.3 L192.4,367.8 L192.8,367.3 L193.3,366.7 L193.7,366.1 L194.1,365.5 L194.6,364.9 L195.0,364.3 L195.4,363.7 L195.9,363.1 L196.3,362.4 L196.8,361.8 L197.2,361.1 L197.6,360.4 L198.1,359.8 L198.5,359.1 L198.9,358.4 L199.4,357.8 L199.8,357.1 L200.3,356.4 L200.7,355.6 L201.1,354.9 L201.6,354.2 L202.0,353.4 L202.5,352.7 L202.9,352.0 L203.3,351.2 L203.8,350.5 L204.2,349.7 L204.6,349.0 L205.1,348.3 L205.5,347.5 L206.0,346.8 L206.4,346.1 L206.8,345.4 L207.3,344.7 L207.7,344.0 L208.1,343.3 L208.6,342.5 L209.0,341.8 L209.5,341.1 L209.9,340.4 L210.3,339.6 L210.8,338.9 L211.2,338.2 L211.6,337.4 L212.1,336.7 L212.5,335.9 L213.0,335.2 L213.4,334.4 L213.8,333.7 L214.3,332.9 L214.7,332.2 L215.2,331.4 L215.6,330.7 L216.0,329.9 L216.5,329.2 L216.9,328.4 L217.3,327.7 L217.8,326.9 L218.2,326.2 L218.7,325.4 L219.1,324.7 L219.5,324.0 L220.0,323.3 L220.4,322.6 L220.8,322.0 L221.3,321.4 L221.7,320.7 L222.2,320.1 L222.6,319.5 L223.0,318.9 L223.5,318.3 L223.9,317.7 L224.3,317.2 L224.8,316.6 L225.2,316.0 L225.7,315.5 L226.1,315.0 L226.5,314.5 L227.0,314.0 L227.4,313.5 L227.9,313.0 L228.3,312.6 L228.7,312.2 L229.2,311.8 L229.6,311.3 L230.0,310.9 L230.5,310.5 L230.9,310.1 L231.4,309.8 L231.8,309.4 L232.2,309.0 L232.7,308.7 L233.1,308.3 L233.5,308.0 L234.0,307.7 L234.4,307.4 L234.9,307.1 L235.3,306.8 L235.7,306.6 L236.2,306.4 L236.6,306.2 L237.0,306.0 L237.5,305.8 L237.9,305.7 L238.4,305.5 L238.8,305.3 L239.2,305.2 L239.7,305.0 L240.1,304.9 L240.5,304.7 L241.0,304.6 L241.4,304.4 L241.9,304.3 L242.3,304.2 L242.7,304.1 L243.2,304.0 L243.6,303.9 L244.1,303.8 L244.5,303.7 L244.9,303.7 L245.4,303.6 L245.8,303.6 L246.2,303.6 L246.7,303.6 L247.1,303.6 L247.6,303.7 L248.0,303.8 L248.4,303.9 L248.9,304.1 L249.3,304.3 L249.7,304.5 L250.2,304.7 L250.6,304.9 L251.1,305.2 L251.5,305.5 L251.9,305.8 L252.4,306.1 L252.8,306.4 L253.2,306.7 L253.7,307.0 L254.1,307.4 L254.6,308.0 L255.0,308.5 L255.4,309.2 L255.9,309.8 L256.3,310.6 L256.8,311.3 L257.2,312.1 L257.6,312.9 L258.1,313.8 L258.5,314.8 L258.9,315.9 L259.4,317.0 L259.8,318.1 L260.3,319.3 L260.7,320.5 L261.1,321.7 L261.6,322.9 L262.0,324.2 L262.4,325.4 L262.9,326.7 L263.3,328.1 L263.8,329.4 L264.2,330.8 L264.6,332.2 L265.1,333.6 L265.5,335.1 L265.9,336.6 L266.4,338.2 L266.8,339.8 L267.3,341.4 L267.7,343.0 L268.1,344.5 L268.6,346.0 L269.0,347.4 L269.5,348.7 L269.9,349.9 L270.3,351.1 L270.8,352.2 L271.2,353.5 L271.6,354.8 L272.1,356.3 L272.5,358.0 L273.0,359.9 L273.4,361.8 L273.8,363.7 L274.3,365.6 L274.7,367.3 L275.1,368.9 L275.6,370.5 L276.0,372.0 L276.5,373.6 L276.9,375.0 L277.3,376.5 L277.8,377.8 L278.2,379.1 L278.6,380.3 L279.1,381.4 L279.5,382.4 L280.0,383.4 L280.4,384.4 L280.8,385.3 L281.3,386.2 L281.7,387.0 L282.2,387.7 L282.6,388.3 L283.0,388.9 L283.5,389.4 L283.9,389.8 L284.3,390.2 L284.8,390.6 L285.2,391.0 L285.7,391.3 L286.1,391.6 L286.5,391.8 L287.0,392.0 L287.4,392.1 L287.8,392.1 L288.3,392.0 L288.7,391.9 L289.2,391.7 L289.6,391.5 L290.0,391.3 L290.5,391.0 L290.9,390.6 L291.3,390.3 L291.8,390.0 L292.2,389.6 L292.7,389.2 L293.1,388.8 L293.5,388.3 L294.0,387.7 L294.4,387.1 L294.9,386.4 L295.3,385.7 L295.7,385.0 L296.2,384.3 L296.6,383.6 L297.0,382.8 L297.5,382.1 L297.9,381.3 L298.4,380.6 L298.8,379.8 L299.2,379.0 L299.7,378.1 L300.1,377.3 L300.5,376.5 L301.0,375.8 L301.4,375.0 L301.9,374.2 L302.3,373.4 L302.7,372.6 L303.2,371.8 L303.6,371.0 L304.0,370.2 L304.5,369.4 L304.9,368.7 L305.4,368.0 L305.8,367.2 L306.2,366.5 L306.7,365.8 L307.1,365.1 L307.6,364.5 L308.0,363.9 L308.4,363.4 L308.9,362.9 L309.3,362.4 L309.7,362.0 L310.2,361.6 L310.6,361.2 L311.1,360.8 L311.5,360.5 L311.9,360.2 L312.4,359.9 L312.8,359.6 L313.2,359.3 L313.7,359.0 L314.1,358.7 L314.6,358.5 L315.0,358.2 L315.4,358.0 L315.9,357.8 L316.3,357.6 L316.7,357.4 L317.2,357.2 L317.6,357.0 L318.1,356.8 L318.5,356.6 L318.9,356.5 L319.4,356.3 L319.8,356.2 L320.2,356.0 L320.7,355.9 L321.1,355.8 L321.6,355.7 L322.0,355.5 L322.4,355.4 L322.9,355.3 L323.3,355.2 L323.8,355.1 L324.2,355.1 L324.6,355.0 L325.1,354.9 L325.5,354.8 L325.9,354.7 L326.4,354.7 L326.8,354.6 L327.3,354.6 L327.7,354.5 L328.1,354.5 L328.6,354.5 L329.0,354.4 L329.4,354.4 L329.9,354.4 L330.3,354.4 L330.8,354.4 L331.2,354.4 L331.6,354.3 L332.1,354.3 L332.5,354.3 L332.9,354.3 L333.4,354.3 L333.8,354.3 L334.3,354.3 L334.7,354.3 L335.1,354.3 L335.6,354.3 L336.0,354.3 L336.5,354.3 L336.9,354.3 L337.3,354.3 L337.8,354.3 L338.2,354.3 L338.6,354.3 L339.1,354.3 L339.5,354.3 L340.0,354.3 L340.4,354.3 L340.8,354.3 L341.3,354.3 L341.7,354.3 L342.1,354.3 L342.6,354.3 L343.0,354.3 L343.5,354.3 L343.9,354.3 L344.3,354.3 L344.8,354.3 L345.2,354.3 L345.6,354.3 L346.1,354.3 L346.5,354.3 L347.0,354.3 L347.4,354.3"/>
<path fill="none" stroke="#ff0000" stroke-width="2.9" d="M41.3,354.3 L41.7,354.3 L42.2,354.3 L42.6,354.3 L43.1,354.3 L43.5,354.3 L43.9,354.3 L44.4,354.3 L44.8,354.3 L45.2,354.3 L45.7,354.3 L46.1,354.3 L46.6,354.3 L47.0,354.3 L47.4,354.3 L47.9,354.3 L48.3,354.3 L48.7,354.3 L49.2,354.3 L49.6,354.3 L50.1,354.3 L50.5,354.3 L50.9,354.3 L51.4,354.3 L51.8,354.3 L52.2,354.3 L52.7,354.3 L53.1,354.3 L53.6,354.3 L54.0,354.3 L54.4,354.3 L54.9,354.3 L55.3,354.3 L55.8,354.3 L56.2,354.3 L56.6,354.3 L57.1,354.3 L57.5,354.3 L57.9,354.3 L58.4,354.3 L58.8,354.3 L59.3,354.3 L59.7,354.3 L60.1,354.3 L60.6,354.3 L61.0,354.3 L61.4,354.3 L61.9,354.3 L62.3,354.3 L62.8,354.3 L63.2,354.3 L63.6,354.3 L64.1,354.3 L64.5,354.2 L64.9,354.2 L65.4,354.2 L65.8,354.2 L66.3,354.2 L66.7,354.2 L67.1,354.2 L67.6,354.2 L68.0,354.2 L68.5,354.1 L68.9,354.1 L69.3,354.1 L69.8,354.1 L70.2,354.1 L70.6,354.1 L71.1,354.0 L71.5,354.0 L72.0,354.0 L72.4,354.0 L72.8,354.0 L73.3,353.9 L73.7,353.9 L74.1,353.9 L74.6,353.8 L75.0,353.8 L75.5,353.7 L75.9,353.7 L76.3,353.7 L76.8,353.6 L77.2,353.5 L77.6,353.5 L78.1,353.4 L78.5,353.4 L79.0,353.3 L79.4,353.2 L79.8,353.1 L80.3,353.0 L80.7,352.9 L81.1,352.8 L81.6,352.6 L82.0,352.5 L82.5,352.3 L82.9,352.2 L83.3,352.0 L83.8,351.8 L84.2,351.6 L84.7,351.5 L85.1,351.3 L85.5,351.1 L86.0,350.9 L86.4,350.7 L86.8,350.5 L87.3,350.3 L87.7,350.1 L88.2,349.9 L88.6,349.7 L89.0,349.5 L89.5,349.3 L89.9,349.0 L90.3,348.8 L90.8,348.5 L91.2,348.2 L91.7,347.9 L92.1,347.6 L92.5,347.3 L93.0,347.0 L93.4,346.7 L93.8,346.4 L94.3,346.1 L94.7,345.8 L95.2,345.5 L95.6,345.2 L96.0,344.9 L96.5,344.6 L96.9,344.4 L97.4,344.1 L97.8,343.9 L98.2,343.7 L98.7,343.5 L99.1,343.3 L99.5,343.1 L100.0,342.9 L100.4,342.7 L100.9,342.5 L101.3,342.4 L101.7,342.2 L102.2,342.1 L102.6,341.9 L103.0,341.8 L103.5,341.6 L103.9,341.5 L104.4,341.4 L104.8,341.3 L105.2,341.3 L105.7,341.2 L106.1,341.1 L106.5,341.0 L107.0,341.0 L107.4,340.9 L107.9,340.9 L108.3,340.8 L108.7,340.8 L109.2,340.7 L109.6,340.7 L110.1,340.7 L110.5,340.7 L110.9,340.7 L111.4,340.8 L111.8,340.8 L112.2,340.9 L112.7,341.0 L113.1,341.1 L113.6,341.2 L114.0,341.4 L114.4,341.5 L114.9,341.7 L115.3,341.8 L115.7,342.0 L116.2,342.3 L116.6,342.5 L117.1,342.8 L117.5,343.2 L117.9,343.5 L118.4,343.8 L118.8,344.2 L119.2,344.5 L119.7,344.9 L120.1,345.2 L120.6,345.6 L121.0,346.0 L121.4,346.4 L121.9,346.8 L122.3,347.2 L122.8,347.6 L123.2,348.0 L123.6,348.5 L124.1,348.9 L124.5,349.4 L124.9,349.8 L125.4,350.3 L125.8,350.7 L126.3,351.2 L126.7,351.6 L127.1,352.1 L127.6,352.5 L128.0,353.0 L128.4,353.4 L128.9,353.9 L129.3,354.3 L129.8,354.8 L130.2,355.2 L130.6,355.7 L131.1,356.1 L131.5,356.6 L131.9,357.1 L132.4,357.5 L132.8,358.0 L133.3,358.5 L133.7,359.0 L134.1,359.5 L134.6,360.0 L135.0,360.4 L135.5,360.9 L135.9,361.4 L136.3,361.9 L136.8,362.4 L137.2,362.8 L137.6,363.3 L138.1,363.7 L138.5,364.2 L139.0,364.6 L139.4,365.1 L139.8,365.5 L140.3,365.9 L140.7,366.3 L141.1,366.7 L141.6,367.1 L142.0,367.5 L142.5,367.8 L142.9,368.2 L143.3,368.5 L143.8,368.8 L144.2,369.2 L144.6,369.5 L145.1,369.8 L145.5,370.1 L146.0,370.4 L146.4,370.7 L146.8,371.0 L147.3,371.3 L147.7,371.6 L148.2,371.8 L148.6,372.1 L149.0,372.4 L149.5,372.6 L149.9,372.8 L150.3,373.1 L150.8,373.3 L151.2,373.6 L151.7,373.8 L152.1,374.0 L152.5,374.3 L153.0,374.5 L153.4,374.7 L153.8,374.9 L154.3,375.2 L154.7,375.4 L155.2,375.6 L155.6,375.7 L156.0,375.9 L156.5,376.1 L156.9,376.2 L157.3,376.4 L157.8,376.5 L158.2,376.6 L158.7,376.7 L159.1,376.8 L159.5,376.9 L160.0,377.0 L160.4,377.1 L160.8,377.2 L161.3,377.3 L161.7,377.4 L162.2,377.5 L162.6,377.5 L163.0,377.6 L163.5,377.7 L163.9,377.7 L164.4,377.7 L164.8,377.8 L165.2,377.8 L165.7,377.8 L166.1,377.8 L166.5,377.8 L167.0,377.8 L167.4,377.7 L167.9,377.7 L168.3,377.7 L168.7,377.6 L169.2,377.6 L169.6,377.5 L170.0,377.5 L170.5,377.4 L170.9,377.3 L171.4,377.3 L171.8,377.2 L172.2,377.1 L172.7,377.1 L173.1,377.0 L173.5,376.9 L174.0,376.8 L174.4,376.7 L174.9,376.6 L175.3,376.5 L175.7,376.4 L176.2,376.2 L176.6,376.0 L177.1,375.9 L177.5,375.7 L177.9,375.5 L178.4,375.3 L178.8,375.1 L179.2,374.9 L179.7,374.7 L180.1,374.5 L180.6,374.3 L181.0,374.1 L181.4,373.9 L181.9,373.7 L182.3,373.5 L182.7,373.2 L183.2,373.0 L183.6,372.8 L184.1,372.5 L184.5,372.3 L184.9,372.0 L185.4,371.7 L185.8,371.5 L186.2,371.2 L186.7,370.9 L187.1,370.6 L187.6,370.3 L188.0,370.0 L188.4,369.6 L188.9,369.3 L189.3,369.0 L189.8,368.6 L190.2,368.3 L190.6,367.9 L191.1,367.5 L191.5,367.1 L191.9,366.6 L192.4,366.2 L192.8,365.7 L193.3,365.3 L193.7,364.8 L194.1,364.3 L194.6,363.9 L195.0,363.4 L195.4,362.9 L195.9,362.4 L196.3,362.0 L196.8,361.5 L197.2,361.0 L197.6,360.5 L198.1,360.0 L198.5,359.5 L198.9,359.0 L199.4,358.5 L199.8,358.0 L200.3,357.5 L200.7,356.9 L201.1,356.4 L201.6,355.9 L202.0,355.4 L202.5,354.9 L202.9,354.4 L203.3,353.9 L203.8,353.4 L204.2,352.9 L204.6,352.3 L205.1,351.8 L205.5,351.3 L206.0,350.8 L206.4,350.3 L206.8,349.8 L207.3,349.3 L207.7,348.8 L208.1,348.3 L208.6,347.8 L209.0,347.3 L209.5,346.8 L209.9,346.3 L210.3,345.8 L210.8,345.3 L211.2,344.8 L211.6,344.3 L212.1,343.8 L212.5,343.3 L213.0,342.8 L213.4,342.3 L213.8,341.8 L214.3,341.3 L214.7,340.8 L215.2,340.3 L215.6,339.8 L216.0,339.3 L216.5,338.8 L216.9,338.3 L217.3,337.8 L217.8,337.3 L218.2,336.8 L218.7,336.3 L219.1,335.8 L219.5,335.3 L220.0,334.8 L220.4,334.3 L220.8,333.9 L221.3,333.4 L221.7,333.0 L222.2,332.6 L222.6,332.2 L223.0,331.8 L223.5,331.4 L223.9,331.0 L224.3,330.7 L224.8,330.3 L225.2,329.9 L225.7,329.6 L226.1,329.2 L226.5,328.9 L227.0,328.6 L227.4,328.3 L227.9,328.0 L228.3,327.7 L228.7,327.4 L229.2,327.2 L229.6,327.0 L230.0,326.8 L230.5,326.6 L230.9,326.4 L231.4,326.3 L231.8,326.1 L232.2,326.0 L232.7,325.8 L233.1,325.7 L233.5,325.6 L234.0,325.4 L234.4,325.3 L234.9,325.2 L235.3,325.1 L235.7,325.0 L236.2,324.9 L236.6,324.8 L237.0,324.7 L237.5,324.7 L237.9,324.6 L238.4,324.6 L238.8,324.5 L239.2,324.5 L239.7,324.5 L240.1,324.5 L240.5,324.5 L241.0,324.6 L241.4,324.6 L241.9,324.7 L242.3,324.8 L242.7,324.9 L243.2,325.0 L243.6,325.1 L244.1,325.2 L244.5,325.3 L244.9,325.5 L245.4,325.6 L245.8,325.8 L246.2,325.9 L246.7,326.1 L247.1,326.2 L247.6,326.4 L248.0,326.5 L248.4,326.7 L248.9,326.9 L249.3,327.2 L249.7,327.4 L250.2,327.7 L250.6,328.0 L251.1,328.3 L251.5,328.6 L251.9,329.0 L252.4,329.3 L252.8,329.7 L253.2,330.0 L253.7,330.4 L254.1,330.8 L254.6,331.1 L255.0,331.5 L255.4,332.0 L255.9,332.4 L256.3,332.9 L256.8,333.4 L257.2,333.9 L257.6,334.4 L258.1,334.9 L258.5,335.4 L258.9,336.0 L259.4,336.5 L259.8,337.1 L260.3,337.6 L260.7,338.2 L261.1,338.7 L261.6,339.3 L262.0,339.8 L262.4,340.4 L262.9,340.9 L263.3,341.5 L263.8,342.1 L264.2,342.7 L264.6,343.2 L265.1,343.8 L265.5,344.4 L265.9,345.0 L266.4,345.6 L266.8,346.2 L267.3,346.8 L267.7,347.4 L268.1,348.0 L268.6,348.7 L269.0,349.3 L269.5,349.9 L269.9,350.6 L270.3,351.2 L270.8,351.8 L271.2,352.4 L271.6,353.1 L272.1,353.7 L272.5,354.3 L273.0,354.9 L273.4,355.5 L273.8,356.1 L274.3,356.7 L274.7,357.3 L275.1,357.9 L275.6,358.5 L276.0,359.1 L276.5,359.7 L276.9,360.3 L277.3,360.8 L277.8,361.4 L278.2,362.0 L278.6,362.6 L279.1,363.2 L279.5,363.8 L280.0,364.4 L280.4,365.0 L280.8,365.5 L281.3,366.1 L281.7,366.6 L282.2,367.1 L282.6,367.6 L283.0,368.0 L283.5,368.5 L283.9,368.9 L284.3,369.3 L284.8,369.7 L285.2,370.0 L285.7,370.4 L286.1,370.8 L286.5,371.1 L287.0,371.4 L287.4,371.6 L287.8,371.9 L288.3,372.1 L288.7,372.2 L289.2,372.4 L289.6,372.5 L290.0,372.7 L290.5,372.8 L290.9,372.9 L291.3,373.0 L291.8,373.0 L292.2,373.1 L292.7,373.1 L293.1,373.1 L293.5,373.0 L294.0,372.9 L294.4,372.7 L294.9,372.5 L295.3,372.3 L295.7,372.0 L296.2,371.8 L296.6,371.5 L297.0,371.2 L297.5,371.0 L297.9,370.7 L298.4,370.4 L298.8,370.1 L299.2,369.8 L299.7,369.4 L300.1,369.0 L300.5,368.6 L301.0,368.2 L301.4,367.8 L301.9,367.4 L302.3,367.0 L302.7,366.6 L303.2,366.2 L303.6,365.7 L304.0,365.3 L304.5,364.8 L304.9,364.3 L305.4,363.9 L305.8,363.4 L306.2,362.9 L306.7,362.5 L307.1,362.1 L307.6,361.6 L308.0,361.2 L308.4,360.9 L308.9,360.5 L309.3,360.2 L309.7,359.8 L310.2,359.5 L310.6,359.2 L311.1,358.9 L311.5,358.6 L311.9,358.3 L312.4,358.0 L312.8,357.8 L313.2,357.6 L313.7,357.4 L314.1,357.2 L314.6,357.0 L315.0,356.9 L315.4,356.7 L315.9,356.6 L316.3,356.4 L316.7,356.3 L317.2,356.2 L317.6,356.1 L318.1,356.0 L318.5,355.9 L318.9,355.8 L319.4,355.7 L319.8,355.6 L320.2,355.5 L320.7,355.4 L321.1,355.3 L321.6,355.2 L322.0,355.1 L322.4,355.0 L322.9,355.0 L323.3,354.9 L323.8,354.8 L324.2,354.8 L324.6,354.7 L325.1,354.7 L325.5,354.7 L325.9,354.6 L326.4,354.6 L326.8,354.6 L327.3,354.6 L327.7,354.5 L328.1,354.5 L328.6,354.5 L329.0,354.5 L329.4,354.4 L329.9,354.4 L330.3,354.4 L330.8,354.4 L331.2,354.4 L331.6,354.4 L332.1,354.3 L332.5,354.3 L332.9,354.3 L333.4,354.3 L333.8,354.3 L334.3,354.3 L334.7,354.3 L335.1,354.3 L335.6,354.3 L336.0,354.3 L336.5,354.3 L336.9,354.3 L337.3,354.3 L337.8,354.3 L338.2,354.3 L338.6,354.3 L339.1,354.3 L339.5,354.3 L340.0,354.3 L340.4,354.3 L340.8,354.3 L341.3,354.3 L341.7,354.3 L342.1,354.3 L342.6,354.3 L343.0,354.3 L343.5,354.3 L343.9,354.3 L344.3,354.3 L344.8,354.3 L345.2,354.3 L345.6,354.3 L346.1,354.3 L346.5,354.3 L347.0,354.3 L347.4,354.3"/>
</g>
<g fill="none" stroke="#000" stroke-width="1.1">
<circle cx="43.8" cy="352.4" r="2.3"/>
<circle cx="50.2" cy="353.2" r="2.3"/>
<circle cx="56.6" cy="354.2" r="2.3"/>
<circle cx="62.5" cy="352.4" r="2.3"/>
<circle cx="68.6" cy="352.4" r="2.3"/>
<circle cx="74.5" cy="349.1" r="2.3"/>
<circle cx="80.9" cy="349.3" r="2.3"/>
<circle cx="87.3" cy="349.8" r="2.3"/>
<circle cx="93.2" cy="345.5" r="2.3"/>
<circle cx="99.3" cy="343.5" r="2.3"/>
<circle cx="105.2" cy="342.2" r="2.3"/>
<circle cx="111.6" cy="340.9" r="2.3"/>
<circle cx="117.4" cy="344.0" r="2.3"/>
<circle cx="123.8" cy="348.6" r="2.3"/>
<circle cx="130.0" cy="351.9" r="2.3"/>
<circle cx="135.8" cy="360.1" r="2.3"/>
<circle cx="142.2" cy="364.7" r="2.3"/>
<circle cx="148.6" cy="370.8" r="2.3"/>
<circle cx="153.9" cy="372.7" r="2.3"/>
<circle cx="160.2" cy="373.4" r="2.3"/>
<circle cx="166.7" cy="374.0" r="2.3"/>
<circle cx="172.6" cy="373.4" r="2.3"/>
<circle cx="178.9" cy="368.7" r="2.3"/>
<circle cx="184.8" cy="367.5" r="2.3"/>
<circle cx="190.9" cy="364.8" r="2.3"/>
<circle cx="197.2" cy="359.9" r="2.3"/>
<circle cx="203.0" cy="355.4" r="2.3"/>
<circle cx="208.9" cy="349.5" r="2.3"/>
<circle cx="215.2" cy="344.0" r="2.3"/>
<circle cx="221.7" cy="338.1" r="2.3"/>
<circle cx="227.6" cy="335.7" r="2.3"/>
<circle cx="233.9" cy="334.1" r="2.3"/>
<circle cx="239.8" cy="331.8" r="2.3"/>
<circle cx="246.1" cy="330.2" r="2.3"/>
<circle cx="252.3" cy="334.2" r="2.3"/>
<circle cx="258.3" cy="336.7" r="2.3"/>
<circle cx="264.3" cy="342.7" r="2.3"/>
<circle cx="270.7" cy="347.3" r="2.3"/>
<circle cx="276.7" cy="356.2" r="2.3"/>
<circle cx="282.7" cy="360.4" r="2.3"/>
<circle cx="289.1" cy="363.3" r="2.3"/>
<circle cx="295.1" cy="364.3" r="2.3"/>
<circle cx="301.2" cy="365.0" r="2.3"/>
<circle cx="307.1" cy="365.5" r="2.3"/>
<circle cx="312.9" cy="359.7" r="2.3"/>
<circle cx="319.3" cy="356.4" r="2.3"/>
<circle cx="325.1" cy="356.4" r="2.3"/>
<circle cx="331.6" cy="353.7" r="2.3"/>
<circle cx="337.6" cy="354.4" r="2.3"/>
<circle cx="343.3" cy="352.7" r="2.3"/>
</g>
<g clip-path="url(#cBR)">
<path fill="none" stroke="#000000" stroke-width="2.95" stroke-dasharray="9.75 2.65 1.9 2.5" d="M347.4,354.3 L348.0,354.3 L348.6,354.3 L349.2,354.3 L349.9,354.3 L350.5,354.3 L351.1,354.3 L351.7,354.3 L352.3,354.3 L352.9,354.3 L353.5,354.3 L354.1,354.3 L354.8,354.3 L355.4,354.3 L356.0,354.3 L356.6,354.3 L357.2,354.3 L357.8,354.3 L358.4,354.3 L359.0,354.3 L359.7,354.3 L360.3,354.3 L360.9,354.3 L361.5,354.3 L362.1,354.3 L362.7,354.3 L363.3,354.3 L363.9,354.3 L364.6,354.3 L365.2,354.3 L365.8,354.3 L366.4,354.3 L367.0,354.3 L367.6,354.3 L368.2,354.3 L368.8,354.3 L369.5,354.3 L370.1,354.3 L370.7,354.3 L371.3,354.3 L371.9,354.3 L372.5,354.3 L373.1,354.3 L373.8,354.3 L374.4,354.3 L375.0,354.3 L375.6,354.3 L376.2,354.3 L376.8,354.3 L377.4,354.3 L378.0,354.3 L378.7,354.3 L379.3,354.3 L379.9,354.3 L380.5,354.3 L381.1,354.3 L381.7,354.3 L382.3,354.3 L382.9,354.3 L383.6,354.3 L384.2,354.3 L384.8,354.3 L385.4,354.3 L386.0,354.3 L386.6,354.3 L387.2,354.3 L387.8,354.3 L388.5,354.3 L389.1,354.3 L389.7,354.3 L390.3,354.3 L390.9,354.3 L391.5,354.3 L392.1,354.2 L392.7,354.2 L393.4,354.1 L394.0,354.1 L394.6,354.0 L395.2,353.9 L395.8,353.8 L396.4,353.7 L397.0,353.6 L397.7,353.5 L398.3,353.4 L398.9,353.3 L399.5,353.2 L400.1,353.1 L400.7,352.9 L401.3,352.7 L401.9,352.5 L402.6,352.2 L403.2,351.9 L403.8,351.6 L404.4,351.2 L405.0,350.9 L405.6,350.6 L406.2,350.3 L406.8,350.1 L407.5,349.9 L408.1,349.7 L408.7,349.5 L409.3,349.4 L409.9,349.2 L410.5,349.1 L411.1,349.0 L411.7,348.8 L412.4,348.7 L413.0,348.6 L413.6,348.6 L414.2,348.5 L414.8,348.5 L415.4,348.5 L416.0,348.5 L416.6,348.6 L417.3,348.6 L417.9,348.7 L418.5,348.8 L419.1,348.9 L419.7,349.0 L420.3,349.2 L420.9,349.3 L421.6,349.4 L422.2,349.6 L422.8,349.8 L423.4,350.1 L424.0,350.4 L424.6,350.7 L425.2,351.0 L425.8,351.3 L426.5,351.7 L427.1,352.0 L427.7,352.3 L428.3,352.7 L428.9,353.0 L429.5,353.4 L430.1,353.8 L430.7,354.2 L431.4,354.6 L432.0,355.1 L432.6,355.5 L433.2,355.9 L433.8,356.3 L434.4,356.6 L435.0,357.0 L435.6,357.2 L436.3,357.5 L436.9,357.7 L437.5,358.0 L438.1,358.2 L438.7,358.5 L439.3,358.7 L439.9,358.9 L440.5,359.1 L441.2,359.3 L441.8,359.5 L442.4,359.7 L443.0,359.8 L443.6,359.9 L444.2,360.0 L444.8,360.1 L445.5,360.1 L446.1,360.1 L446.7,360.1 L447.3,360.1 L447.9,360.1 L448.5,360.0 L449.1,360.0 L449.7,360.0 L450.4,360.0 L451.0,359.9 L451.6,359.9 L452.2,359.9 L452.8,359.9 L453.4,359.8 L454.0,359.7 L454.6,359.7 L455.3,359.6 L455.9,359.6 L456.5,359.5 L457.1,359.4 L457.7,359.4 L458.3,359.3 L458.9,359.3 L459.5,359.3 L460.2,359.3 L460.8,359.3 L461.4,359.3 L462.0,359.3 L462.6,359.3 L463.2,359.3 L463.8,359.3 L464.4,359.3 L465.1,359.3 L465.7,359.3 L466.3,359.3 L466.9,359.3 L467.5,359.3 L468.1,359.3 L468.7,359.3 L469.4,359.3 L470.0,359.3 L470.6,359.3 L471.2,359.3 L471.8,359.3 L472.4,359.3 L473.0,359.3 L473.6,359.3 L474.3,359.3 L474.9,359.3 L475.5,359.3 L476.1,359.3 L476.7,359.3 L477.3,359.3 L477.9,359.3 L478.5,359.3 L479.2,359.3 L479.8,359.3 L480.4,359.3 L481.0,359.3 L481.6,359.3 L482.2,359.2 L482.8,359.2 L483.4,359.2 L484.1,359.1 L484.7,359.1 L485.3,359.0 L485.9,359.0 L486.5,358.9 L487.1,358.8 L487.7,358.8 L488.3,358.7 L489.0,358.6 L489.6,358.6 L490.2,358.5 L490.8,358.4 L491.4,358.3 L492.0,358.1 L492.6,358.0 L493.3,357.8 L493.9,357.7 L494.5,357.5 L495.1,357.3 L495.7,357.1 L496.3,356.9 L496.9,356.6 L497.5,356.4 L498.2,356.2 L498.8,355.9 L499.4,355.7 L500.0,355.5 L500.6,355.2 L501.2,354.8 L501.8,354.5 L502.4,354.1 L503.1,353.8 L503.7,353.4 L504.3,353.0 L504.9,352.6 L505.5,352.2 L506.1,351.8 L506.7,351.4 L507.3,351.1 L508.0,350.7 L508.6,350.4 L509.2,350.1 L509.8,349.9 L510.4,349.7 L511.0,349.5 L511.6,349.2 L512.3,349.0 L512.9,348.9 L513.5,348.7 L514.1,348.5 L514.7,348.3 L515.3,348.1 L515.9,348.0 L516.5,347.8 L517.2,347.6 L517.8,347.4 L518.4,347.2 L519.0,347.1 L519.6,346.9 L520.2,346.8 L520.8,346.7 L521.4,346.5 L522.1,346.4 L522.7,346.4 L523.3,346.3 L523.9,346.3 L524.5,346.2 L525.1,346.2 L525.7,346.2 L526.3,346.2 L527.0,346.1 L527.6,346.1 L528.2,346.1 L528.8,346.1 L529.4,346.0 L530.0,346.0 L530.6,346.0 L531.2,346.0 L531.9,346.0 L532.5,346.0 L533.1,345.9 L533.7,345.9 L534.3,345.9 L534.9,345.9 L535.5,345.9 L536.2,345.9 L536.8,345.9 L537.4,345.9 L538.0,345.9 L538.6,345.9 L539.2,345.9 L539.8,346.0 L540.4,346.0 L541.1,346.1 L541.7,346.2 L542.3,346.3 L542.9,346.3 L543.5,346.4 L544.1,346.5 L544.7,346.6 L545.3,346.7 L546.0,346.8 L546.6,346.8 L547.2,346.9 L547.8,347.0 L548.4,347.0 L549.0,347.1 L549.6,347.2 L550.2,347.2 L550.9,347.3 L551.5,347.3 L552.1,347.4 L552.7,347.5 L553.3,347.5 L553.9,347.6 L554.5,347.7 L555.1,347.7 L555.8,347.8 L556.4,347.9 L557.0,347.9 L557.6,348.0 L558.2,348.1 L558.8,348.2 L559.4,348.2 L560.1,348.3 L560.7,348.4 L561.3,348.5 L561.9,348.6 L562.5,348.7 L563.1,348.8 L563.7,348.9 L564.3,349.1 L565.0,349.2 L565.6,349.3 L566.2,349.4 L566.8,349.6 L567.4,349.7 L568.0,349.9 L568.6,350.1 L569.2,350.3 L569.9,350.5 L570.5,350.7 L571.1,350.9 L571.7,351.2 L572.3,351.5 L572.9,351.8 L573.5,352.2 L574.1,352.6 L574.8,353.0 L575.4,353.5 L576.0,353.9 L576.6,354.3 L577.2,354.8 L577.8,355.2 L578.4,355.6 L579.0,356.0 L579.7,356.3 L580.3,356.6 L580.9,357.0 L581.5,357.3 L582.1,357.6 L582.7,357.9 L583.3,358.2 L584.0,358.5 L584.6,358.8 L585.2,359.1 L585.8,359.4 L586.4,359.6 L587.0,359.9 L587.6,360.1 L588.2,360.2 L588.9,360.4 L589.5,360.5 L590.1,360.6 L590.7,360.7 L591.3,360.7 L591.9,360.8 L592.5,360.9 L593.1,360.9 L593.8,361.0 L594.4,361.0 L595.0,361.1 L595.6,361.1 L596.2,361.1 L596.8,361.1 L597.4,361.1 L598.0,361.0 L598.7,360.9 L599.3,360.7 L599.9,360.6 L600.5,360.4 L601.1,360.2 L601.7,360.0 L602.3,359.8 L602.9,359.5 L603.6,359.3 L604.2,359.1 L604.8,358.7 L605.4,358.3 L606.0,357.8 L606.6,357.3 L607.2,356.8 L607.9,356.4 L608.5,355.9 L609.1,355.5 L609.7,355.2 L610.3,355.0 L610.9,354.9 L611.5,354.8 L612.1,354.7 L612.8,354.6 L613.4,354.6 L614.0,354.5 L614.6,354.4 L615.2,354.4 L615.8,354.4 L616.4,354.3 L617.0,354.3 L617.7,354.3 L618.3,354.3 L618.9,354.3 L619.5,354.3 L620.1,354.3 L620.7,354.3 L621.3,354.3 L621.9,354.3 L622.6,354.3 L623.2,354.3 L623.8,354.3 L624.4,354.3 L625.0,354.3 L625.6,354.3 L626.2,354.3 L626.8,354.3 L627.5,354.3 L628.1,354.3 L628.7,354.3 L629.3,354.3 L629.9,354.3 L630.5,354.3 L631.1,354.3 L631.8,354.3 L632.4,354.3 L633.0,354.3 L633.6,354.3 L634.2,354.3 L634.8,354.3 L635.4,354.3 L636.0,354.3 L636.7,354.3 L637.3,354.3 L637.9,354.3 L638.5,354.3 L639.1,354.3 L639.7,354.3 L640.3,354.3 L640.9,354.3 L641.6,354.3 L642.2,354.3 L642.8,354.3 L643.4,354.3 L644.0,354.3 L644.6,354.3 L645.2,354.3 L645.8,354.3 L646.5,354.3 L647.1,354.3 L647.7,354.3 L648.3,354.3 L648.9,354.3 L649.5,354.3 L650.1,354.3 L650.7,354.3 L651.4,354.3 L652.0,354.3 L652.6,354.3 L653.2,354.3"/>
<path fill="none" stroke="#006400" stroke-width="2.6" stroke-dasharray="8.9 2.6" stroke-dashoffset="3.4" d="M347.4,354.3 L653.2,354.3"/>
<path fill="none" stroke="#0000ff" stroke-width="2.8" stroke-dasharray="1.85 1.9" d="M347.4,354.3 L348.0,354.3 L348.6,354.3 L349.2,354.3 L349.9,354.3 L350.5,354.3 L351.1,354.3 L351.7,354.3 L352.3,354.3 L352.9,354.3 L353.5,354.3 L354.1,354.3 L354.8,354.3 L355.4,354.3 L356.0,354.3 L356.6,354.3 L357.2,354.3 L357.8,354.3 L358.4,354.3 L359.0,354.3 L359.7,354.3 L360.3,354.3 L360.9,354.3 L361.5,354.3 L362.1,354.3 L362.7,354.3 L363.3,354.3 L363.9,354.3 L364.6,354.3 L365.2,354.3 L365.8,354.3 L366.4,354.3 L367.0,354.3 L367.6,354.3 L368.2,354.3 L368.8,354.3 L369.5,354.3 L370.1,354.3 L370.7,354.3 L371.3,354.3 L371.9,354.3 L372.5,354.3 L373.1,354.3 L373.8,354.3 L374.4,354.3 L375.0,354.3 L375.6,354.3 L376.2,354.3 L376.8,354.3 L377.4,354.3 L378.0,354.3 L378.7,354.3 L379.3,354.3 L379.9,354.3 L380.5,354.3 L381.1,354.3 L381.7,354.3 L382.3,354.3 L382.9,354.3 L383.6,354.3 L384.2,354.3 L384.8,354.3 L385.4,354.3 L386.0,354.3 L386.6,354.3 L387.2,354.3 L387.8,354.3 L388.5,354.3 L389.1,354.3 L389.7,354.3 L390.3,354.3 L390.9,354.3 L391.5,354.2 L392.1,354.2 L392.7,354.2 L393.4,354.1 L394.0,354.1 L394.6,354.0 L395.2,354.0 L395.8,353.9 L396.4,353.9 L397.0,353.8 L397.7,353.7 L398.3,353.7 L398.9,353.6 L399.5,353.5 L400.1,353.4 L400.7,353.3 L401.3,353.2 L401.9,353.0 L402.6,352.8 L403.2,352.6 L403.8,352.4 L404.4,352.2 L405.0,351.9 L405.6,351.7 L406.2,351.5 L406.8,351.3 L407.5,351.1 L408.1,351.0 L408.7,350.9 L409.3,350.7 L409.9,350.6 L410.5,350.5 L411.1,350.3 L411.7,350.2 L412.4,350.1 L413.0,350.0 L413.6,349.9 L414.2,349.9 L414.8,349.8 L415.4,349.8 L416.0,349.8 L416.6,349.8 L417.3,349.9 L417.9,350.0 L418.5,350.0 L419.1,350.1 L419.7,350.2 L420.3,350.4 L420.9,350.5 L421.6,350.6 L422.2,350.8 L422.8,350.9 L423.4,351.1 L424.0,351.3 L424.6,351.6 L425.2,351.8 L425.8,352.0 L426.5,352.3 L427.1,352.5 L427.7,352.8 L428.3,353.0 L428.9,353.3 L429.5,353.6 L430.1,353.9 L430.7,354.3 L431.4,354.6 L432.0,354.9 L432.6,355.2 L433.2,355.5 L433.8,355.8 L434.4,356.0 L435.0,356.3 L435.6,356.5 L436.3,356.6 L436.9,356.8 L437.5,356.9 L438.1,357.1 L438.7,357.2 L439.3,357.4 L439.9,357.5 L440.5,357.7 L441.2,357.8 L441.8,357.9 L442.4,358.0 L443.0,358.1 L443.6,358.2 L444.2,358.2 L444.8,358.3 L445.5,358.3 L446.1,358.3 L446.7,358.3 L447.3,358.4 L447.9,358.4 L448.5,358.4 L449.1,358.4 L449.7,358.4 L450.4,358.3 L451.0,358.3 L451.6,358.3 L452.2,358.3 L452.8,358.3 L453.4,358.3 L454.0,358.3 L454.6,358.2 L455.3,358.2 L455.9,358.2 L456.5,358.2 L457.1,358.1 L457.7,358.1 L458.3,358.1 L458.9,358.1 L459.5,358.1 L460.2,358.1 L460.8,358.1 L461.4,358.1 L462.0,358.1 L462.6,358.1 L463.2,358.1 L463.8,358.1 L464.4,358.1 L465.1,358.1 L465.7,358.2 L466.3,358.2 L466.9,358.2 L467.5,358.2 L468.1,358.2 L468.7,358.2 L469.4,358.2 L470.0,358.2 L470.6,358.2 L471.2,358.2 L471.8,358.2 L472.4,358.2 L473.0,358.2 L473.6,358.2 L474.3,358.2 L474.9,358.2 L475.5,358.2 L476.1,358.2 L476.7,358.2 L477.3,358.2 L477.9,358.2 L478.5,358.2 L479.2,358.2 L479.8,358.2 L480.4,358.2 L481.0,358.2 L481.6,358.2 L482.2,358.1 L482.8,358.1 L483.4,358.1 L484.1,358.0 L484.7,358.0 L485.3,357.9 L485.9,357.9 L486.5,357.8 L487.1,357.8 L487.7,357.7 L488.3,357.7 L489.0,357.6 L489.6,357.5 L490.2,357.5 L490.8,357.4 L491.4,357.3 L492.0,357.2 L492.6,357.1 L493.3,357.0 L493.9,356.9 L494.5,356.7 L495.1,356.6 L495.7,356.4 L496.3,356.2 L496.9,356.1 L497.5,355.9 L498.2,355.7 L498.8,355.5 L499.4,355.3 L500.0,355.1 L500.6,354.8 L501.2,354.6 L501.8,354.4 L502.4,354.1 L503.1,353.9 L503.7,353.6 L504.3,353.3 L504.9,353.1 L505.5,352.8 L506.1,352.6 L506.7,352.3 L507.3,352.1 L508.0,351.9 L508.6,351.7 L509.2,351.5 L509.8,351.3 L510.4,351.2 L511.0,351.0 L511.6,350.8 L512.3,350.7 L512.9,350.6 L513.5,350.4 L514.1,350.3 L514.7,350.2 L515.3,350.0 L515.9,349.9 L516.5,349.8 L517.2,349.7 L517.8,349.5 L518.4,349.4 L519.0,349.3 L519.6,349.2 L520.2,349.1 L520.8,349.0 L521.4,348.9 L522.1,348.8 L522.7,348.7 L523.3,348.7 L523.9,348.6 L524.5,348.6 L525.1,348.6 L525.7,348.5 L526.3,348.5 L527.0,348.4 L527.6,348.4 L528.2,348.4 L528.8,348.3 L529.4,348.3 L530.0,348.3 L530.6,348.3 L531.2,348.2 L531.9,348.2 L532.5,348.2 L533.1,348.2 L533.7,348.1 L534.3,348.1 L534.9,348.1 L535.5,348.1 L536.2,348.1 L536.8,348.0 L537.4,348.0 L538.0,348.0 L538.6,348.0 L539.2,348.0 L539.8,348.0 L540.4,348.0 L541.1,348.1 L541.7,348.1 L542.3,348.1 L542.9,348.1 L543.5,348.2 L544.1,348.2 L544.7,348.3 L545.3,348.3 L546.0,348.3 L546.6,348.4 L547.2,348.4 L547.8,348.4 L548.4,348.5 L549.0,348.5 L549.6,348.5 L550.2,348.6 L550.9,348.6 L551.5,348.7 L552.1,348.7 L552.7,348.7 L553.3,348.8 L553.9,348.8 L554.5,348.9 L555.1,348.9 L555.8,349.0 L556.4,349.0 L557.0,349.1 L557.6,349.1 L558.2,349.2 L558.8,349.3 L559.4,349.3 L560.1,349.4 L560.7,349.4 L561.3,349.5 L561.9,349.6 L562.5,349.7 L563.1,349.7 L563.7,349.8 L564.3,349.9 L565.0,350.0 L565.6,350.1 L566.2,350.2 L566.8,350.4 L567.4,350.5 L568.0,350.6 L568.6,350.8 L569.2,350.9 L569.9,351.1 L570.5,351.3 L571.1,351.5 L571.7,351.7 L572.3,351.9 L572.9,352.2 L573.5,352.4 L574.1,352.7 L574.8,353.0 L575.4,353.3 L576.0,353.6 L576.6,353.9 L577.2,354.2 L577.8,354.5 L578.4,354.8 L579.0,355.1 L579.7,355.3 L580.3,355.6 L580.9,355.8 L581.5,356.1 L582.1,356.4 L582.7,356.6 L583.3,356.9 L584.0,357.1 L584.6,357.3 L585.2,357.5 L585.8,357.7 L586.4,357.9 L587.0,358.1 L587.6,358.2 L588.2,358.4 L588.9,358.5 L589.5,358.6 L590.1,358.7 L590.7,358.7 L591.3,358.8 L591.9,358.9 L592.5,358.9 L593.1,359.0 L593.8,359.1 L594.4,359.1 L595.0,359.1 L595.6,359.1 L596.2,359.1 L596.8,359.1 L597.4,359.1 L598.0,359.0 L598.7,358.9 L599.3,358.8 L599.9,358.7 L600.5,358.6 L601.1,358.4 L601.7,358.2 L602.3,358.1 L602.9,357.9 L603.6,357.7 L604.2,357.6 L604.8,357.3 L605.4,357.0 L606.0,356.7 L606.6,356.4 L607.2,356.1 L607.9,355.8 L608.5,355.5 L609.1,355.2 L609.7,355.0 L610.3,354.9 L610.9,354.8 L611.5,354.7 L612.1,354.7 L612.8,354.6 L613.4,354.6 L614.0,354.5 L614.6,354.5 L615.2,354.4 L615.8,354.4 L616.4,354.4 L617.0,354.4 L617.7,354.3 L618.3,354.3 L618.9,354.3 L619.5,354.3 L620.1,354.3 L620.7,354.3 L621.3,354.3 L621.9,354.3 L622.6,354.3 L623.2,354.3 L623.8,354.3 L624.4,354.3 L625.0,354.3 L625.6,354.3 L626.2,354.3 L626.8,354.3 L627.5,354.3 L628.1,354.3 L628.7,354.3 L629.3,354.3 L629.9,354.3 L630.5,354.3 L631.1,354.3 L631.8,354.3 L632.4,354.3 L633.0,354.3 L633.6,354.3 L634.2,354.3 L634.8,354.3 L635.4,354.3 L636.0,354.3 L636.7,354.3 L637.3,354.3 L637.9,354.3 L638.5,354.3 L639.1,354.3 L639.7,354.3 L640.3,354.3 L640.9,354.3 L641.6,354.3 L642.2,354.3 L642.8,354.3 L643.4,354.3 L644.0,354.3 L644.6,354.3 L645.2,354.3 L645.8,354.3 L646.5,354.3 L647.1,354.3 L647.7,354.3 L648.3,354.3 L648.9,354.3 L649.5,354.3 L650.1,354.3 L650.7,354.3 L651.4,354.3 L652.0,354.3 L652.6,354.3 L653.2,354.3"/>
<path fill="none" stroke="#ff0000" stroke-width="2.9" d="M347.4,354.3 L348.0,354.3 L348.6,354.3 L349.2,354.3 L349.9,354.3 L350.5,354.3 L351.1,354.3 L351.7,354.3 L352.3,354.3 L352.9,354.3 L353.5,354.3 L354.1,354.3 L354.8,354.3 L355.4,354.3 L356.0,354.3 L356.6,354.3 L357.2,354.3 L357.8,354.3 L358.4,354.3 L359.0,354.3 L359.7,354.3 L360.3,354.3 L360.9,354.3 L361.5,354.3 L362.1,354.3 L362.7,354.3 L363.3,354.3 L363.9,354.3 L364.6,354.3 L365.2,354.3 L365.8,354.3 L366.4,354.3 L367.0,354.3 L367.6,354.3 L368.2,354.3 L368.8,354.3 L369.5,354.3 L370.1,354.3 L370.7,354.3 L371.3,354.3 L371.9,354.3 L372.5,354.3 L373.1,354.3 L373.8,354.3 L374.4,354.3 L375.0,354.3 L375.6,354.3 L376.2,354.3 L376.8,354.3 L377.4,354.3 L378.0,354.3 L378.7,354.3 L379.3,354.3 L379.9,354.3 L380.5,354.3 L381.1,354.3 L381.7,354.3 L382.3,354.3 L382.9,354.3 L383.6,354.3 L384.2,354.3 L384.8,354.3 L385.4,354.3 L386.0,354.3 L386.6,354.3 L387.2,354.3 L387.8,354.3 L388.5,354.3 L389.1,354.3 L389.7,354.2 L390.3,354.2 L390.9,354.2 L391.5,354.2 L392.1,354.2 L392.7,354.2 L393.4,354.1 L394.0,354.1 L394.6,354.1 L395.2,354.1 L395.8,354.0 L396.4,354.0 L397.0,354.0 L397.7,353.9 L398.3,353.9 L398.9,353.9 L399.5,353.8 L400.1,353.8 L400.7,353.7 L401.3,353.7 L401.9,353.6 L402.6,353.5 L403.2,353.3 L403.8,353.2 L404.4,353.1 L405.0,352.9 L405.6,352.8 L406.2,352.6 L406.8,352.5 L407.5,352.4 L408.1,352.3 L408.7,352.2 L409.3,352.1 L409.9,351.9 L410.5,351.8 L411.1,351.7 L411.7,351.6 L412.4,351.5 L413.0,351.4 L413.6,351.3 L414.2,351.2 L414.8,351.1 L415.4,351.1 L416.0,351.1 L416.6,351.1 L417.3,351.1 L417.9,351.2 L418.5,351.3 L419.1,351.3 L419.7,351.4 L420.3,351.5 L420.9,351.7 L421.6,351.8 L422.2,351.9 L422.8,352.0 L423.4,352.2 L424.0,352.3 L424.6,352.4 L425.2,352.6 L425.8,352.7 L426.5,352.9 L427.1,353.0 L427.7,353.2 L428.3,353.4 L428.9,353.6 L429.5,353.8 L430.1,354.1 L430.7,354.3 L431.4,354.5 L432.0,354.7 L432.6,354.9 L433.2,355.1 L433.8,355.3 L434.4,355.5 L435.0,355.6 L435.6,355.7 L436.3,355.8 L436.9,355.8 L437.5,355.9 L438.1,356.0 L438.7,356.0 L439.3,356.1 L439.9,356.1 L440.5,356.2 L441.2,356.2 L441.8,356.3 L442.4,356.3 L443.0,356.4 L443.6,356.4 L444.2,356.5 L444.8,356.5 L445.5,356.5 L446.1,356.6 L446.7,356.6 L447.3,356.6 L447.9,356.6 L448.5,356.7 L449.1,356.7 L449.7,356.7 L450.4,356.7 L451.0,356.7 L451.6,356.7 L452.2,356.8 L452.8,356.8 L453.4,356.8 L454.0,356.8 L454.6,356.8 L455.3,356.8 L455.9,356.8 L456.5,356.9 L457.1,356.9 L457.7,356.9 L458.3,356.9 L458.9,356.9 L459.5,356.9 L460.2,356.9 L460.8,356.9 L461.4,356.9 L462.0,357.0 L462.6,357.0 L463.2,357.0 L463.8,357.0 L464.4,357.0 L465.1,357.0 L465.7,357.0 L466.3,357.0 L466.9,357.0 L467.5,357.0 L468.1,357.0 L468.7,357.0 L469.4,357.0 L470.0,357.1 L470.6,357.1 L471.2,357.1 L471.8,357.1 L472.4,357.1 L473.0,357.1 L473.6,357.1 L474.3,357.1 L474.9,357.1 L475.5,357.1 L476.1,357.1 L476.7,357.1 L477.3,357.1 L477.9,357.1 L478.5,357.1 L479.2,357.1 L479.8,357.1 L480.4,357.1 L481.0,357.1 L481.6,357.1 L482.2,357.0 L482.8,357.0 L483.4,357.0 L484.1,357.0 L484.7,356.9 L485.3,356.9 L485.9,356.8 L486.5,356.8 L487.1,356.7 L487.7,356.7 L488.3,356.6 L489.0,356.6 L489.6,356.5 L490.2,356.4 L490.8,356.4 L491.4,356.3 L492.0,356.3 L492.6,356.2 L493.3,356.1 L493.9,356.0 L494.5,356.0 L495.1,355.8 L495.7,355.7 L496.3,355.6 L496.9,355.5 L497.5,355.3 L498.2,355.2 L498.8,355.0 L499.4,354.8 L500.0,354.7 L500.6,354.5 L501.2,354.4 L501.8,354.2 L502.4,354.1 L503.1,354.0 L503.7,353.8 L504.3,353.7 L504.9,353.6 L505.5,353.5 L506.1,353.4 L506.7,353.3 L507.3,353.2 L508.0,353.1 L508.6,352.9 L509.2,352.8 L509.8,352.7 L510.4,352.6 L511.0,352.5 L511.6,352.4 L512.3,352.4 L512.9,352.3 L513.5,352.2 L514.1,352.1 L514.7,352.0 L515.3,351.9 L515.9,351.9 L516.5,351.8 L517.2,351.7 L517.8,351.7 L518.4,351.6 L519.0,351.5 L519.6,351.4 L520.2,351.4 L520.8,351.3 L521.4,351.2 L522.1,351.2 L522.7,351.1 L523.3,351.1 L523.9,351.0 L524.5,350.9 L525.1,350.9 L525.7,350.8 L526.3,350.8 L527.0,350.7 L527.6,350.7 L528.2,350.6 L528.8,350.6 L529.4,350.6 L530.0,350.5 L530.6,350.5 L531.2,350.5 L531.9,350.4 L532.5,350.4 L533.1,350.4 L533.7,350.3 L534.3,350.3 L534.9,350.3 L535.5,350.2 L536.2,350.2 L536.8,350.2 L537.4,350.2 L538.0,350.1 L538.6,350.1 L539.2,350.1 L539.8,350.1 L540.4,350.0 L541.1,350.0 L541.7,350.0 L542.3,350.0 L542.9,350.0 L543.5,349.9 L544.1,349.9 L544.7,349.9 L545.3,349.9 L546.0,349.9 L546.6,349.9 L547.2,349.9 L547.8,349.9 L548.4,349.9 L549.0,349.9 L549.6,349.9 L550.2,349.9 L550.9,350.0 L551.5,350.0 L552.1,350.0 L552.7,350.0 L553.3,350.0 L553.9,350.1 L554.5,350.1 L555.1,350.1 L555.8,350.2 L556.4,350.2 L557.0,350.2 L557.6,350.3 L558.2,350.3 L558.8,350.3 L559.4,350.4 L560.1,350.4 L560.7,350.5 L561.3,350.5 L561.9,350.6 L562.5,350.6 L563.1,350.7 L563.7,350.7 L564.3,350.8 L565.0,350.8 L565.6,350.9 L566.2,351.0 L566.8,351.1 L567.4,351.2 L568.0,351.4 L568.6,351.5 L569.2,351.6 L569.9,351.8 L570.5,351.9 L571.1,352.1 L571.7,352.2 L572.3,352.4 L572.9,352.5 L573.5,352.7 L574.1,352.8 L574.8,353.0 L575.4,353.1 L576.0,353.3 L576.6,353.4 L577.2,353.6 L577.8,353.8 L578.4,354.0 L579.0,354.2 L579.7,354.3 L580.3,354.5 L580.9,354.7 L581.5,354.9 L582.1,355.1 L582.7,355.3 L583.3,355.5 L584.0,355.6 L584.6,355.8 L585.2,355.9 L585.8,356.1 L586.4,356.2 L587.0,356.3 L587.6,356.4 L588.2,356.5 L588.9,356.6 L589.5,356.6 L590.1,356.7 L590.7,356.8 L591.3,356.9 L591.9,357.0 L592.5,357.0 L593.1,357.1 L593.8,357.1 L594.4,357.2 L595.0,357.2 L595.6,357.2 L596.2,357.2 L596.8,357.2 L597.4,357.1 L598.0,357.1 L598.7,357.0 L599.3,356.9 L599.9,356.8 L600.5,356.7 L601.1,356.6 L601.7,356.5 L602.3,356.4 L602.9,356.3 L603.6,356.2 L604.2,356.1 L604.8,355.9 L605.4,355.8 L606.0,355.7 L606.6,355.5 L607.2,355.3 L607.9,355.2 L608.5,355.0 L609.1,354.9 L609.7,354.8 L610.3,354.7 L610.9,354.7 L611.5,354.6 L612.1,354.6 L612.8,354.6 L613.4,354.5 L614.0,354.5 L614.6,354.5 L615.2,354.5 L615.8,354.4 L616.4,354.4 L617.0,354.4 L617.7,354.4 L618.3,354.4 L618.9,354.3 L619.5,354.3 L620.1,354.3 L620.7,354.3 L621.3,354.3 L621.9,354.3 L622.6,354.3 L623.2,354.3 L623.8,354.3 L624.4,354.3 L625.0,354.3 L625.6,354.3 L626.2,354.3 L626.8,354.3 L627.5,354.3 L628.1,354.3 L628.7,354.3 L629.3,354.3 L629.9,354.3 L630.5,354.3 L631.1,354.3 L631.8,354.3 L632.4,354.3 L633.0,354.3 L633.6,354.3 L634.2,354.3 L634.8,354.3 L635.4,354.3 L636.0,354.3 L636.7,354.3 L637.3,354.3 L637.9,354.3 L638.5,354.3 L639.1,354.3 L639.7,354.3 L640.3,354.3 L640.9,354.3 L641.6,354.3 L642.2,354.3 L642.8,354.3 L643.4,354.3 L644.0,354.3 L644.6,354.3 L645.2,354.3 L645.8,354.3 L646.5,354.3 L647.1,354.3 L647.7,354.3 L648.3,354.3 L648.9,354.3 L649.5,354.3 L650.1,354.3 L650.7,354.3 L651.4,354.3 L652.0,354.3 L652.6,354.3 L653.2,354.3"/>
</g>
<g fill="none" stroke="#000" stroke-width="1.1">
<circle cx="351.5" cy="357.2" r="2.3"/>
<circle cx="359.1" cy="357.2" r="2.3"/>
<circle cx="366.4" cy="357.9" r="2.3"/>
<circle cx="374.3" cy="356.0" r="2.3"/>
<circle cx="382.1" cy="358.7" r="2.3"/>
<circle cx="389.7" cy="357.2" r="2.3"/>
<circle cx="397.0" cy="356.7" r="2.3"/>
<circle cx="404.8" cy="354.3" r="2.3"/>
<circle cx="405.6" cy="354.3" r="2.3"/>
<circle cx="412.9" cy="353.5" r="2.3"/>
<circle cx="419.5" cy="352.9" r="2.3"/>
<circle cx="427.8" cy="354.3" r="2.3"/>
<circle cx="435.4" cy="354.3" r="2.3"/>
<circle cx="443.1" cy="355.4" r="2.3"/>
<circle cx="450.7" cy="356.8" r="2.3"/>
<circle cx="458.3" cy="357.4" r="2.3"/>
<circle cx="466.0" cy="358.2" r="2.3"/>
<circle cx="473.6" cy="357.4" r="2.3"/>
<circle cx="481.5" cy="357.8" r="2.3"/>
<circle cx="488.9" cy="357.4" r="2.3"/>
<circle cx="496.4" cy="357.8" r="2.3"/>
<circle cx="504.2" cy="357.8" r="2.3"/>
<circle cx="511.8" cy="358.3" r="2.3"/>
<circle cx="519.5" cy="356.4" r="2.3"/>
<circle cx="527.1" cy="354.7" r="2.3"/>
<circle cx="534.8" cy="352.4" r="2.3"/>
<circle cx="542.4" cy="355.4" r="2.3"/>
<circle cx="550.2" cy="353.5" r="2.3"/>
<circle cx="557.7" cy="353.5" r="2.3"/>
<circle cx="565.5" cy="355.4" r="2.3"/>
<circle cx="573.0" cy="357.1" r="2.3"/>
<circle cx="580.5" cy="358.3" r="2.3"/>
<circle cx="588.3" cy="360.1" r="2.3"/>
<circle cx="595.8" cy="360.6" r="2.3"/>
<circle cx="603.6" cy="359.4" r="2.3"/>
<circle cx="611.1" cy="357.8" r="2.3"/>
<circle cx="618.9" cy="357.8" r="2.3"/>
<circle cx="626.4" cy="355.4" r="2.3"/>
<circle cx="634.2" cy="355.4" r="2.3"/>
<circle cx="641.7" cy="355.4" r="2.3"/>
<circle cx="649.5" cy="357.1" r="2.3"/>
</g>
<g stroke="#000" stroke-width="1.5" fill="none" stroke-linecap="butt">
<path d="M40.55,1.7 H653.95 M40.55,464.1 H653.95 M41.3,1.7 V464.1 M653.2,1.7 V464.1"/>
</g>
<g stroke="#000" stroke-width="2.7" fill="none">
<path d="M41.3,232.6 H653.2 M347.4,1.7 V464.1"/>
</g>
<path stroke="#000" stroke-width="1.35" fill="none" d="M63.0,1.7 v4.7 M63.0,226.9 V238.3 M63.0,464.1 v-4.7 M84.8,1.7 v2.3 M84.8,229.3 V235.9 M84.8,464.1 v-2.3 M106.7,1.7 v4.7 M106.7,226.9 V238.3 M106.7,464.1 v-4.7 M128.5,1.7 v2.3 M128.5,229.3 V235.9 M128.5,464.1 v-2.3 M150.3,1.7 v4.7 M150.3,226.9 V238.3 M150.3,464.1 v-4.7 M172.1,1.7 v2.3 M172.1,229.3 V235.9 M172.1,464.1 v-2.3 M193.9,1.7 v4.7 M193.9,226.9 V238.3 M193.9,464.1 v-4.7 M215.8,1.7 v2.3 M215.8,229.3 V235.9 M215.8,464.1 v-2.3 M237.6,1.7 v4.7 M237.6,226.9 V238.3 M237.6,464.1 v-4.7 M259.4,1.7 v2.3 M259.4,229.3 V235.9 M259.4,464.1 v-2.3 M281.2,1.7 v4.7 M281.2,226.9 V238.3 M281.2,464.1 v-4.7 M303.0,1.7 v2.3 M303.0,229.3 V235.9 M303.0,464.1 v-2.3 M324.9,1.7 v4.7 M324.9,226.9 V238.3 M324.9,464.1 v-4.7 M369.2,1.7 v4.7 M369.2,226.9 V238.3 M369.2,464.1 v-4.7 M391.1,1.7 v2.3 M391.1,229.3 V235.9 M391.1,464.1 v-2.3 M412.9,1.7 v4.7 M412.9,226.9 V238.3 M412.9,464.1 v-4.7 M434.8,1.7 v2.3 M434.8,229.3 V235.9 M434.8,464.1 v-2.3 M456.6,1.7 v4.7 M456.6,226.9 V238.3 M456.6,464.1 v-4.7 M478.5,1.7 v2.3 M478.5,229.3 V235.9 M478.5,464.1 v-2.3 M500.3,1.7 v4.7 M500.3,226.9 V238.3 M500.3,464.1 v-4.7 M522.2,1.7 v2.3 M522.2,229.3 V235.9 M522.2,464.1 v-2.3 M544.0,1.7 v4.7 M544.0,226.9 V238.3 M544.0,464.1 v-4.7 M565.9,1.7 v2.3 M565.9,229.3 V235.9 M565.9,464.1 v-2.3 M587.7,1.7 v4.7 M587.7,226.9 V238.3 M587.7,464.1 v-4.7 M609.6,1.7 v2.3 M609.6,229.3 V235.9 M609.6,464.1 v-2.3 M631.4,1.7 v4.7 M631.4,226.9 V238.3 M631.4,464.1 v-4.7 M41.3,193.3 h4.7 M341.7,193.3 H353.1 M653.2,193.3 h-4.7 M41.3,153.0 h4.7 M341.7,153.0 H353.1 M653.2,153.0 h-4.7 M41.3,112.7 h4.7 M341.7,112.7 H353.1 M653.2,112.7 h-4.7 M41.3,72.4 h4.7 M341.7,72.4 H353.1 M653.2,72.4 h-4.7 M41.3,32.1 h4.7 M341.7,32.1 H353.1 M653.2,32.1 h-4.7 M41.3,409.2 h4.7 M341.7,409.2 H353.1 M653.2,409.2 h-4.7 M41.3,354.3 h4.7 M341.7,354.3 H353.1 M653.2,354.3 h-4.7 M41.3,299.5 h4.7 M341.7,299.5 H353.1 M653.2,299.5 h-4.7 M41.3,244.6 h4.7 M341.7,244.6 H353.1 M653.2,244.6 h-4.7"/>
<g font-family="Liberation Sans, sans-serif" font-size="14" fill="#000" text-anchor="end">
<text x="33" y="198.0">0.20</text>
<text x="33" y="157.7">0.40</text>
<text x="33" y="117.4">0.60</text>
<text x="33" y="77.1">0.80</text>
<text x="33" y="36.8">1.00</text>
<text x="33" y="468.7">0.98</text>
<text x="33" y="413.9">0.99</text>
<text x="33" y="359.0">1.00</text>
<text x="33" y="304.2">1.01</text>
<text x="33" y="249.3">1.02</text>
</g>
<g font-family="Liberation Sans, sans-serif" font-size="14" fill="#000" text-anchor="middle">
<text x="62.7" y="483.2">-6</text>
<text x="106.4" y="483.2">-4</text>
<text x="150.0" y="483.2">-2</text>
<text x="193.9" y="483.2">0</text>
<text x="237.6" y="483.2">2</text>
<text x="281.2" y="483.2">4</text>
<text x="324.9" y="483.2">6</text>
<text x="193.9" y="504.2">x [fm]</text>
<text x="368.9" y="483.2">-6</text>
<text x="412.6" y="483.2">-4</text>
<text x="456.3" y="483.2">-2</text>
<text x="500.3" y="483.2">0</text>
<text x="544.0" y="483.2">2</text>
<text x="587.7" y="483.2">4</text>
<text x="631.4" y="483.2">6</text>
<text x="500.3" y="504.2">x [fm]</text>
</g>
<text x="72" y="122.8" font-family="Liberation Serif, serif" font-size="18.2" fill="#000">II</text>
<g font-family="Liberation Sans, sans-serif" font-size="14.2" fill="#000">
<text x="71.6" y="179.9">σ = 2 mb</text>
<text x="71.9" y="202.9">λ=exp(-μ/T)</text>
<text x="378.3" y="179.9">σ = 8 mb</text>
<text x="378.6" y="202.9">λ=exp(-μ/T)</text>
<text y="306.0"><tspan x="72.1" font-size="14.8">P</tspan><tspan x="82.0" dy="4.1" font-size="11.4">0</tspan><tspan x="88.3" dy="-4.1">/</tspan><tspan x="91.9" font-size="14.8">P</tspan><tspan x="102.7" dy="4.1" font-size="11.4">0</tspan><tspan x="110.1" dy="-4.1" letter-spacing="0.42">(x=-</tspan><tspan x="134.8" dy="0.8" font-size="16.5">∞</tspan><tspan x="147.3" dy="-0.8">)</tspan></text>
<text y="306.0"><tspan x="378.7" font-size="14.8">P</tspan><tspan x="388.6" dy="4.1" font-size="11.4">0</tspan><tspan x="394.9" dy="-4.1">/</tspan><tspan x="398.5" font-size="14.8">P</tspan><tspan x="409.3" dy="4.1" font-size="11.4">0</tspan><tspan x="416.7" dy="-4.1" letter-spacing="0.42">(x=-</tspan><tspan x="441.4" dy="0.8" font-size="16.5">∞</tspan><tspan x="453.9" dy="-0.8">)</tspan></text>
</g>
<path fill="none" stroke="#000000" stroke-width="2.95" stroke-dasharray="9.75 2.65 1.9 2.5" d="M258.4,15.3 H287.6"/>
<path fill="none" stroke="#006400" stroke-width="2.6" stroke-dasharray="6.6 2.5" d="M258.4,29.5 H287.6"/>
<path fill="none" stroke="#0000ff" stroke-width="2.8" stroke-dasharray="1.85 1.9" d="M258.4,43.5 H287.6"/>
<path fill="none" stroke="#ff0000" stroke-width="2.9" d="M258.4,57.6 H287.6"/>
<circle cx="273.0" cy="71.9" r="2.3" fill="none" stroke="#000" stroke-width="1.1"/>
<g font-family="Liberation Sans, sans-serif" font-size="8.8" fill="#000" text-anchor="end">
<text x="338" y="20.3">IS</text>
<text x="338" y="34.5">13/13</text>
<text x="338" y="48.5">13/37</text>
<text x="338" y="62.6">21/37</text>
<text x="338" y="76.9">BAMPS</text>
</g>
</svg>
</body></html>
